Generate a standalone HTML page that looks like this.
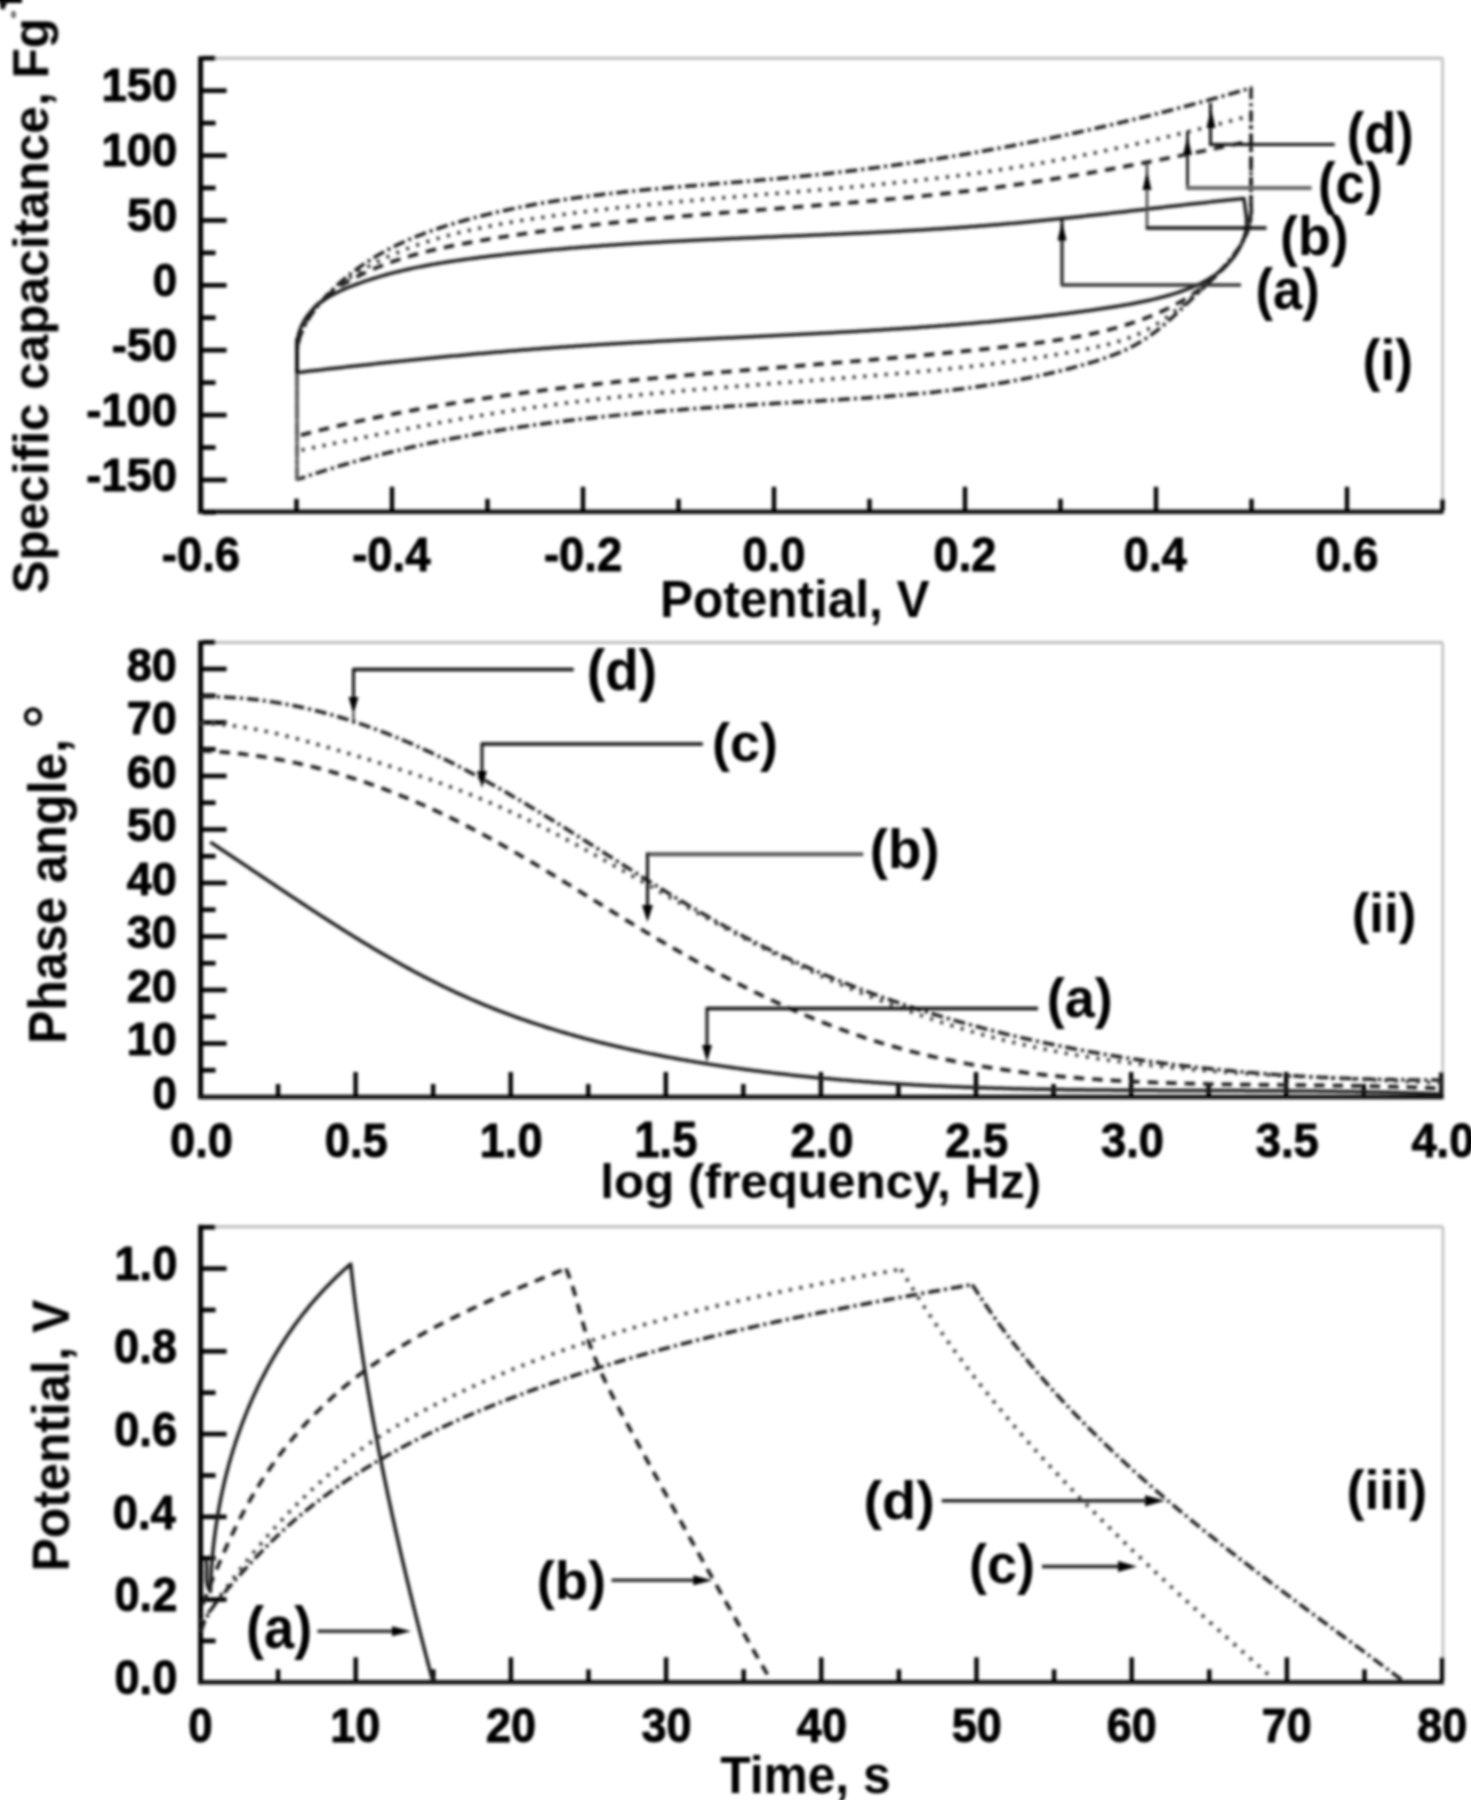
<!DOCTYPE html>
<html><head><meta charset="utf-8"><title>Figure</title>
<style>
html,body{margin:0;padding:0;background:#fff;}
body{width:1471px;height:1800px;overflow:hidden;}
svg{display:block;}
text{font-family:"Liberation Sans",sans-serif;font-weight:bold;}
</style></head><body>
<svg xmlns="http://www.w3.org/2000/svg" width="1471" height="1800" viewBox="0 0 1471 1800">
<rect width="1471" height="1800" fill="#fff"/>
<g filter="url(#bl)">
<line x1="200.6" y1="58.3" x2="1442.6" y2="58.3" stroke="#bdbdbd" stroke-width="3" stroke-linecap="butt"/>
<line x1="1442.6" y1="58.3" x2="1442.6" y2="511.8" stroke="#bdbdbd" stroke-width="2.5" stroke-linecap="butt"/>
<line x1="200.6" y1="56.3" x2="200.6" y2="513.8" stroke="#000" stroke-width="5" stroke-linecap="butt"/>
<line x1="198.6" y1="511.8" x2="1443.6" y2="511.8" stroke="#111" stroke-width="4.6" stroke-linecap="butt"/>
<line x1="202.6" y1="479.96" x2="226.6" y2="479.96" stroke="#000" stroke-width="4.6" stroke-linecap="butt"/>
<line x1="202.6" y1="415.07" x2="226.6" y2="415.07" stroke="#000" stroke-width="4.6" stroke-linecap="butt"/>
<line x1="202.6" y1="350.19" x2="226.6" y2="350.19" stroke="#000" stroke-width="4.6" stroke-linecap="butt"/>
<line x1="202.6" y1="285.3" x2="226.6" y2="285.3" stroke="#000" stroke-width="4.6" stroke-linecap="butt"/>
<line x1="202.6" y1="220.42" x2="226.6" y2="220.42" stroke="#000" stroke-width="4.6" stroke-linecap="butt"/>
<line x1="202.6" y1="155.53" x2="226.6" y2="155.53" stroke="#000" stroke-width="4.6" stroke-linecap="butt"/>
<line x1="202.6" y1="90.65" x2="226.6" y2="90.65" stroke="#000" stroke-width="4.6" stroke-linecap="butt"/>
<line x1="202.6" y1="512.4" x2="215.6" y2="512.4" stroke="#000" stroke-width="4.6" stroke-linecap="butt"/>
<line x1="202.6" y1="447.51" x2="215.6" y2="447.51" stroke="#000" stroke-width="4.6" stroke-linecap="butt"/>
<line x1="202.6" y1="382.63" x2="215.6" y2="382.63" stroke="#000" stroke-width="4.6" stroke-linecap="butt"/>
<line x1="202.6" y1="317.74" x2="215.6" y2="317.74" stroke="#000" stroke-width="4.6" stroke-linecap="butt"/>
<line x1="202.6" y1="252.86" x2="215.6" y2="252.86" stroke="#000" stroke-width="4.6" stroke-linecap="butt"/>
<line x1="202.6" y1="187.97" x2="215.6" y2="187.97" stroke="#000" stroke-width="4.6" stroke-linecap="butt"/>
<line x1="202.6" y1="123.09" x2="215.6" y2="123.09" stroke="#000" stroke-width="4.6" stroke-linecap="butt"/>
<line x1="202.6" y1="58.2" x2="215.6" y2="58.2" stroke="#000" stroke-width="4.6" stroke-linecap="butt"/>
<line x1="201" y1="510.8" x2="201" y2="486.8" stroke="#000" stroke-width="4.4" stroke-linecap="butt"/>
<line x1="392" y1="510.8" x2="392" y2="486.8" stroke="#000" stroke-width="4.4" stroke-linecap="butt"/>
<line x1="583" y1="510.8" x2="583" y2="486.8" stroke="#000" stroke-width="4.4" stroke-linecap="butt"/>
<line x1="774" y1="510.8" x2="774" y2="486.8" stroke="#000" stroke-width="4.4" stroke-linecap="butt"/>
<line x1="965" y1="510.8" x2="965" y2="486.8" stroke="#000" stroke-width="4.4" stroke-linecap="butt"/>
<line x1="1156" y1="510.8" x2="1156" y2="486.8" stroke="#000" stroke-width="4.4" stroke-linecap="butt"/>
<line x1="1347" y1="510.8" x2="1347" y2="486.8" stroke="#000" stroke-width="4.4" stroke-linecap="butt"/>
<line x1="296.5" y1="510.8" x2="296.5" y2="498.8" stroke="#000" stroke-width="4.4" stroke-linecap="butt"/>
<line x1="487.5" y1="510.8" x2="487.5" y2="498.8" stroke="#000" stroke-width="4.4" stroke-linecap="butt"/>
<line x1="678.5" y1="510.8" x2="678.5" y2="498.8" stroke="#000" stroke-width="4.4" stroke-linecap="butt"/>
<line x1="869.5" y1="510.8" x2="869.5" y2="498.8" stroke="#000" stroke-width="4.4" stroke-linecap="butt"/>
<line x1="1060.5" y1="510.8" x2="1060.5" y2="498.8" stroke="#000" stroke-width="4.4" stroke-linecap="butt"/>
<line x1="1251.5" y1="510.8" x2="1251.5" y2="498.8" stroke="#000" stroke-width="4.4" stroke-linecap="butt"/>
<line x1="1442.5" y1="510.8" x2="1442.5" y2="498.8" stroke="#000" stroke-width="4.4" stroke-linecap="butt"/>
<text transform="matrix(45.48 0 0 46.48 86.16 490.69)" font-size="1" fill="#000" stroke="#000" stroke-width="0.02" stroke-linejoin="round">-150</text>
<text transform="matrix(45.48 0 0 46.48 86.16 425.81)" font-size="1" fill="#000" stroke="#000" stroke-width="0.02" stroke-linejoin="round">-100</text>
<text transform="matrix(45.27 0 0 46.48 111.7 360.92)" font-size="1" fill="#000" stroke="#000" stroke-width="0.02" stroke-linejoin="round">-50</text>
<text transform="matrix(43.89 0 0 46.48 152.69 296.04)" font-size="1" fill="#000" stroke="#000" stroke-width="0.02" stroke-linejoin="round">0</text>
<text transform="matrix(45.04 0 0 46.48 127.11 231.15)" font-size="1" fill="#000" stroke="#000" stroke-width="0.02" stroke-linejoin="round">50</text>
<text transform="matrix(45.36 0 0 46.48 101.59 166.27)" font-size="1" fill="#000" stroke="#000" stroke-width="0.02" stroke-linejoin="round">100</text>
<text transform="matrix(45.36 0 0 46.48 101.59 101.38)" font-size="1" fill="#000" stroke="#000" stroke-width="0.02" stroke-linejoin="round">150</text>
<text transform="matrix(45.39 0 0 47.89 161.85 571.02)" font-size="1" fill="#000" stroke="#000" stroke-width="0.02" stroke-linejoin="round">-0.6</text>
<text transform="matrix(45.4 0 0 47.89 352.16 571.02)" font-size="1" fill="#000" stroke="#000" stroke-width="0.02" stroke-linejoin="round">-0.4</text>
<text transform="matrix(45.39 0 0 47.89 543.96 571.02)" font-size="1" fill="#000" stroke="#000" stroke-width="0.02" stroke-linejoin="round">-0.2</text>
<text transform="matrix(45.24 0 0 47.89 742.56 571.02)" font-size="1" fill="#000" stroke="#000" stroke-width="0.02" stroke-linejoin="round">0.0</text>
<text transform="matrix(45.24 0 0 47.89 933.56 571.02)" font-size="1" fill="#000" stroke="#000" stroke-width="0.02" stroke-linejoin="round">0.2</text>
<text transform="matrix(45.26 0 0 47.89 1123.75 571.02)" font-size="1" fill="#000" stroke="#000" stroke-width="0.02" stroke-linejoin="round">0.4</text>
<text transform="matrix(45.24 0 0 47.89 1315.45 571.02)" font-size="1" fill="#000" stroke="#000" stroke-width="0.02" stroke-linejoin="round">0.6</text>
<text transform="matrix(49.53 0 0 52 659.98 616.5)" font-size="1" fill="#000">Potential, V</text>
<text transform="matrix(0 -49.56 49.79 0 47.8 593.49)" font-size="1" fill="#000">Specific capacitance, Fg</text>
<rect x="-2" y="-3" width="24" height="6" fill="#000"/>
<polygon points="0,1 8,1 4,10 0,8" fill="#111"/>
<ellipse cx="13.5" cy="14.5" rx="2.6" ry="3.8" fill="#777"/>
<path d="M297 372.5 L297 352 L296.91 349.12 L296.95 346.3 L297.11 343.55 L297.39 340.88 L297.79 338.26 L298.3 335.72 L298.93 333.24 L299.65 330.83 L300.48 328.49 L301.41 326.21 L302.44 323.99 L303.56 321.84 L304.76 319.75 L306.05 317.73 L307.43 315.77 L308.88 313.86 L310.41 312.02 L312.01 310.24 L313.68 308.52 L315.41 306.86 L317.2 305.26 L319.06 303.72 L320.97 302.23 L322.92 300.8 L324.93 299.42 L326.99 298.08 L329.09 296.8 L331.22 295.56 L333.4 294.36 L335.6 293.2 L337.84 292.09 L340.11 291 L342.4 289.96 L344.71 288.94 L347.05 287.95 L349.39 286.99 L351.75 286.06 L354.12 285.15 L356.5 284.26 L358.88 283.39 L361.26 282.54 L363.65 281.7 L366.04 280.89 L368.44 280.09 L370.84 279.31 L373.24 278.54 L375.65 277.8 L378.06 277.07 L380.47 276.35 L382.89 275.66 L385.31 274.97 L387.74 274.31 L390.16 273.66 L392.59 273.02 L395.03 272.4 L397.46 271.79 L399.9 271.19 L402.34 270.61 L404.79 270.04 L407.23 269.49 L409.68 268.94 L412.13 268.41 L414.59 267.9 L417.05 267.39 L419.5 266.89 L421.97 266.41 L424.43 265.93 L426.89 265.47 L429.36 265.02 L431.83 264.57 L434.3 264.14 L436.77 263.72 L439.25 263.3 L441.72 262.89 L444.2 262.49 L446.68 262.1 L449.16 261.72 L451.64 261.34 L454.12 260.97 L456.6 260.61 L459.09 260.25 L461.57 259.9 L464.06 259.56 L466.55 259.22 L469.03 258.88 L471.52 258.56 L474.01 258.23 L476.5 257.91 L478.99 257.59 L481.48 257.28 L483.97 256.97 L486.46 256.67 L488.95 256.36 L491.44 256.07 L493.93 255.77 L496.42 255.48 L498.92 255.19 L501.41 254.9 L503.9 254.62 L506.39 254.34 L508.89 254.06 L511.38 253.79 L513.87 253.52 L516.37 253.25 L518.86 252.99 L521.35 252.73 L523.85 252.47 L526.34 252.21 L528.84 251.96 L531.33 251.71 L533.83 251.46 L536.32 251.22 L538.82 250.98 L541.32 250.74 L543.81 250.51 L546.31 250.27 L548.8 250.04 L551.3 249.81 L553.8 249.59 L556.3 249.37 L558.79 249.15 L561.29 248.93 L563.79 248.72 L566.29 248.5 L568.79 248.29 L571.28 248.09 L573.78 247.88 L576.28 247.68 L578.78 247.48 L581.28 247.28 L583.78 247.09 L586.28 246.89 L588.78 246.7 L591.28 246.51 L593.78 246.33 L596.28 246.14 L598.78 245.96 L601.28 245.78 L603.78 245.6 L606.28 245.43 L608.78 245.25 L611.29 245.08 L613.79 244.91 L616.29 244.74 L618.79 244.58 L621.29 244.41 L623.79 244.25 L626.3 244.09 L628.8 243.93 L631.3 243.77 L633.8 243.62 L636.31 243.46 L638.81 243.31 L641.31 243.16 L643.82 243.01 L646.32 242.86 L648.82 242.72 L651.33 242.57 L653.83 242.43 L656.34 242.29 L658.84 242.15 L661.34 242.01 L663.85 241.87 L666.35 241.74 L668.86 241.6 L671.36 241.47 L673.87 241.34 L676.37 241.21 L678.88 241.08 L681.38 240.95 L683.89 240.82 L686.39 240.7 L688.9 240.57 L691.4 240.45 L693.91 240.33 L696.41 240.21 L698.92 240.09 L701.43 239.97 L703.93 239.85 L706.44 239.73 L708.94 239.61 L711.45 239.5 L713.96 239.38 L716.46 239.27 L718.97 239.15 L721.47 239.04 L723.98 238.93 L726.49 238.82 L728.99 238.71 L731.5 238.59 L734.01 238.49 L736.51 238.38 L739.02 238.27 L741.53 238.16 L744.03 238.05 L746.54 237.94 L749.05 237.84 L751.56 237.73 L754.06 237.63 L756.57 237.52 L759.08 237.41 L761.58 237.31 L764.09 237.2 L766.6 237.1 L769.11 237 L771.61 236.89 L774.12 236.79 L776.63 236.68 L779.13 236.58 L781.64 236.48 L784.15 236.37 L786.66 236.27 L789.16 236.16 L791.67 236.06 L794.18 235.96 L796.69 235.85 L799.19 235.75 L801.7 235.64 L804.21 235.54 L806.71 235.43 L809.22 235.33 L811.73 235.22 L814.24 235.12 L816.74 235.01 L819.25 234.91 L821.76 234.8 L824.26 234.69 L826.77 234.58 L829.28 234.48 L831.79 234.37 L834.29 234.26 L836.8 234.15 L839.31 234.04 L841.81 233.93 L844.32 233.82 L846.83 233.7 L849.33 233.59 L851.84 233.48 L854.35 233.36 L856.85 233.25 L859.36 233.13 L861.87 233.01 L864.37 232.9 L866.88 232.78 L869.39 232.66 L871.89 232.54 L874.4 232.41 L876.9 232.29 L879.41 232.17 L881.92 232.04 L884.42 231.92 L886.93 231.79 L889.43 231.66 L891.94 231.53 L894.44 231.4 L896.95 231.27 L899.46 231.14 L901.96 231 L904.47 230.87 L906.97 230.73 L909.48 230.59 L911.98 230.45 L914.48 230.31 L916.99 230.17 L919.49 230.02 L922 229.88 L924.5 229.73 L927.01 229.58 L929.51 229.43 L932.01 229.28 L934.52 229.12 L937.02 228.97 L939.53 228.81 L942.03 228.65 L944.53 228.49 L947.04 228.33 L949.54 228.16 L952.04 228 L954.54 227.83 L957.05 227.66 L959.55 227.48 L962.05 227.31 L964.55 227.13 L967.05 226.96 L969.56 226.78 L972.06 226.59 L974.56 226.41 L977.06 226.22 L979.56 226.03 L982.06 225.84 L984.56 225.65 L987.06 225.45 L989.57 225.25 L992.07 225.05 L994.57 224.85 L997.07 224.65 L999.57 224.44 L1002.06 224.23 L1004.56 224.02 L1007.06 223.8 L1009.56 223.59 L1012.06 223.37 L1014.56 223.14 L1017.06 222.92 L1019.56 222.69 L1022.05 222.46 L1024.55 222.23 L1027.05 222 L1029.55 221.76 L1032.04 221.53 L1034.54 221.29 L1037.04 221.04 L1039.54 220.8 L1042.03 220.55 L1044.53 220.31 L1047.03 220.06 L1049.52 219.81 L1052.02 219.55 L1054.51 219.3 L1057.01 219.04 L1059.51 218.79 L1062 218.53 L1064.5 218.27 L1066.99 218 L1069.49 217.74 L1071.98 217.47 L1074.48 217.21 L1076.97 216.94 L1079.47 216.67 L1081.96 216.4 L1084.46 216.13 L1086.95 215.86 L1089.45 215.59 L1091.94 215.31 L1094.43 215.04 L1096.93 214.76 L1099.42 214.48 L1101.92 214.21 L1104.41 213.93 L1106.9 213.65 L1109.4 213.37 L1111.89 213.09 L1114.38 212.81 L1116.88 212.52 L1119.37 212.24 L1121.86 211.96 L1124.36 211.68 L1126.85 211.39 L1129.34 211.11 L1131.84 210.83 L1134.33 210.54 L1136.82 210.26 L1139.31 209.97 L1141.81 209.69 L1144.3 209.4 L1146.79 209.12 L1149.28 208.83 L1151.78 208.55 L1154.27 208.26 L1156.76 207.98 L1159.25 207.7 L1161.75 207.41 L1164.24 207.13 L1166.73 206.85 L1169.22 206.56 L1171.72 206.28 L1174.21 206 L1176.7 205.72 L1179.19 205.44 L1181.69 205.16 L1184.18 204.88 L1186.67 204.6 L1189.16 204.32 L1191.66 204.05 L1194.15 203.77 L1196.64 203.49 L1199.13 203.22 L1201.62 202.95 L1204.12 202.67 L1206.61 202.4 L1209.1 202.13 L1211.59 201.86 L1214.09 201.6 L1216.58 201.33 L1219.07 201.07 L1221.56 200.8 L1224.06 200.54 L1226.55 200.28 L1229.04 200.02 L1231.54 199.76 L1234.03 199.51 L1236.52 199.25 L1239.01 199 L1241.51 198.75 L1244 198.5 L1246 214 L1246.35 216.56 L1246.56 219.11 L1246.63 221.64 L1246.56 224.16 L1246.37 226.66 L1246.05 229.14 L1245.61 231.59 L1245.06 234.02 L1244.4 236.42 L1243.63 238.79 L1242.75 241.12 L1241.78 243.42 L1240.72 245.69 L1239.57 247.91 L1238.33 250.09 L1237.01 252.23 L1235.62 254.32 L1234.16 256.37 L1232.63 258.36 L1231.04 260.3 L1229.39 262.18 L1227.68 264.01 L1225.92 265.79 L1224.11 267.51 L1222.26 269.19 L1220.35 270.8 L1218.4 272.37 L1216.41 273.88 L1214.38 275.33 L1212.31 276.74 L1210.21 278.09 L1208.07 279.39 L1205.91 280.64 L1203.72 281.84 L1201.5 282.99 L1199.26 284.08 L1197 285.14 L1194.73 286.15 L1192.43 287.12 L1190.12 288.05 L1187.8 288.96 L1185.46 289.83 L1183.12 290.68 L1180.76 291.5 L1178.4 292.3 L1176.03 293.08 L1173.65 293.83 L1171.26 294.56 L1168.86 295.26 L1166.46 295.95 L1164.05 296.62 L1161.63 297.26 L1159.21 297.89 L1156.78 298.49 L1154.34 299.08 L1151.9 299.66 L1149.45 300.21 L1147 300.75 L1144.55 301.28 L1142.09 301.79 L1139.62 302.29 L1137.15 302.77 L1134.68 303.25 L1132.21 303.71 L1129.73 304.16 L1127.25 304.6 L1124.77 305.03 L1122.28 305.45 L1119.8 305.87 L1117.31 306.27 L1114.82 306.67 L1112.33 307.06 L1109.85 307.45 L1107.36 307.84 L1104.87 308.22 L1102.38 308.59 L1099.89 308.96 L1097.41 309.33 L1094.92 309.69 L1092.43 310.04 L1089.94 310.4 L1087.45 310.75 L1084.96 311.09 L1082.48 311.43 L1079.99 311.77 L1077.5 312.1 L1075.01 312.43 L1072.52 312.75 L1070.04 313.07 L1067.55 313.39 L1065.06 313.7 L1062.57 314.01 L1060.08 314.32 L1057.59 314.62 L1055.1 314.92 L1052.62 315.22 L1050.13 315.51 L1047.64 315.8 L1045.15 316.08 L1042.66 316.37 L1040.17 316.65 L1037.68 316.92 L1035.19 317.2 L1032.7 317.47 L1030.21 317.73 L1027.72 318 L1025.23 318.26 L1022.74 318.52 L1020.24 318.78 L1017.75 319.03 L1015.26 319.28 L1012.77 319.53 L1010.28 319.78 L1007.79 320.02 L1005.29 320.27 L1002.8 320.5 L1000.31 320.74 L997.81 320.98 L995.32 321.21 L992.83 321.44 L990.33 321.67 L987.84 321.9 L985.34 322.12 L982.85 322.34 L980.35 322.56 L977.86 322.78 L975.36 323 L972.87 323.21 L970.37 323.42 L967.87 323.63 L965.38 323.84 L962.88 324.05 L960.38 324.25 L957.89 324.45 L955.39 324.65 L952.89 324.85 L950.39 325.05 L947.9 325.25 L945.4 325.44 L942.9 325.63 L940.4 325.82 L937.9 326.01 L935.4 326.19 L932.9 326.38 L930.4 326.56 L927.9 326.74 L925.4 326.92 L922.9 327.1 L920.4 327.28 L917.9 327.45 L915.4 327.63 L912.9 327.8 L910.4 327.97 L907.9 328.14 L905.4 328.31 L902.9 328.47 L900.39 328.64 L897.89 328.8 L895.39 328.96 L892.89 329.12 L890.38 329.28 L887.88 329.44 L885.38 329.6 L882.88 329.75 L880.37 329.91 L877.87 330.06 L875.37 330.21 L872.86 330.37 L870.36 330.51 L867.86 330.66 L865.35 330.81 L862.85 330.96 L860.34 331.1 L857.84 331.25 L855.34 331.39 L852.83 331.53 L850.33 331.67 L847.82 331.82 L845.32 331.95 L842.81 332.09 L840.31 332.23 L837.8 332.37 L835.3 332.5 L832.79 332.64 L830.29 332.77 L827.78 332.91 L825.27 333.04 L822.77 333.17 L820.26 333.3 L817.76 333.44 L815.25 333.57 L812.74 333.7 L810.24 333.82 L807.73 333.95 L805.23 334.08 L802.72 334.21 L800.21 334.33 L797.71 334.46 L795.2 334.59 L792.69 334.71 L790.19 334.84 L787.68 334.96 L785.17 335.08 L782.66 335.21 L780.16 335.33 L777.65 335.45 L775.14 335.58 L772.64 335.7 L770.13 335.82 L767.62 335.94 L765.11 336.06 L762.61 336.18 L760.1 336.31 L757.59 336.43 L755.08 336.55 L752.58 336.67 L750.07 336.79 L747.56 336.91 L745.05 337.03 L742.55 337.15 L740.04 337.27 L737.53 337.39 L735.02 337.51 L732.52 337.63 L730.01 337.75 L727.5 337.87 L724.99 337.99 L722.49 338.11 L719.98 338.23 L717.47 338.35 L714.96 338.47 L712.46 338.59 L709.95 338.72 L707.44 338.84 L704.93 338.96 L702.42 339.08 L699.92 339.21 L697.41 339.33 L694.9 339.45 L692.39 339.58 L689.89 339.7 L687.38 339.82 L684.87 339.95 L682.36 340.08 L679.86 340.2 L677.35 340.33 L674.84 340.46 L672.34 340.58 L669.83 340.71 L667.32 340.84 L664.81 340.97 L662.31 341.1 L659.8 341.23 L657.29 341.36 L654.79 341.49 L652.28 341.63 L649.77 341.76 L647.27 341.89 L644.76 342.03 L642.25 342.17 L639.75 342.3 L637.24 342.44 L634.74 342.58 L632.23 342.72 L629.72 342.86 L627.22 343 L624.71 343.14 L622.21 343.29 L619.7 343.43 L617.19 343.58 L614.69 343.72 L612.18 343.87 L609.68 344.02 L607.17 344.17 L604.67 344.32 L602.16 344.47 L599.66 344.62 L597.15 344.78 L594.65 344.93 L592.15 345.09 L589.64 345.25 L587.14 345.41 L584.63 345.57 L582.13 345.73 L579.63 345.89 L577.12 346.06 L574.62 346.22 L572.12 346.39 L569.61 346.56 L567.11 346.73 L564.61 346.9 L562.1 347.08 L559.6 347.25 L557.1 347.43 L554.6 347.61 L552.09 347.78 L549.59 347.97 L547.09 348.15 L544.59 348.33 L542.09 348.52 L539.59 348.7 L537.08 348.89 L534.58 349.08 L532.08 349.27 L529.58 349.47 L527.08 349.66 L524.58 349.86 L522.08 350.05 L519.58 350.25 L517.08 350.45 L514.58 350.65 L512.08 350.86 L509.58 351.06 L507.08 351.26 L504.58 351.47 L502.08 351.68 L499.58 351.89 L497.08 352.1 L494.59 352.31 L492.09 352.53 L489.59 352.74 L487.09 352.96 L484.59 353.17 L482.09 353.39 L479.6 353.61 L477.1 353.83 L474.6 354.05 L472.1 354.28 L469.6 354.5 L467.11 354.73 L464.61 354.96 L462.11 355.18 L459.61 355.41 L457.12 355.65 L454.62 355.88 L452.12 356.11 L449.63 356.34 L447.13 356.58 L444.63 356.82 L442.14 357.05 L439.64 357.29 L437.15 357.53 L434.65 357.77 L432.15 358.02 L429.66 358.26 L427.16 358.5 L424.67 358.75 L422.17 359 L419.68 359.24 L417.18 359.49 L414.68 359.74 L412.19 359.99 L409.69 360.25 L407.2 360.5 L404.7 360.75 L402.21 361.01 L399.72 361.26 L397.22 361.52 L394.73 361.78 L392.23 362.04 L389.74 362.3 L387.24 362.56 L384.75 362.82 L382.26 363.08 L379.76 363.34 L377.27 363.61 L374.77 363.87 L372.28 364.14 L369.79 364.41 L367.29 364.68 L364.8 364.94 L362.31 365.21 L359.81 365.48 L357.32 365.76 L354.83 366.03 L352.33 366.3 L349.84 366.58 L347.35 366.85 L344.85 367.13 L342.36 367.4 L339.87 367.68 L337.38 367.96 L334.88 368.24 L332.39 368.52 L329.9 368.8 L327.41 369.08 L324.91 369.36 L322.42 369.64 L319.93 369.92 L317.44 370.21 L314.94 370.49 L312.45 370.78 L309.96 371.06 L307.47 371.35 L304.98 371.64 L302.48 371.92 L299.99 372.21 L297.5 372.5" fill="none" stroke="#1a1a1a" stroke-width="3.5" stroke-linejoin="round"/>
<path d="M297 436 L297 352 L297.12 349.28 L297.34 346.61 L297.65 343.99 L298.05 341.42 L298.54 338.91 L299.12 336.44 L299.78 334.02 L300.53 331.66 L301.36 329.34 L302.26 327.06 L303.25 324.84 L304.31 322.66 L305.44 320.52 L306.64 318.43 L307.9 316.39 L309.24 314.38 L310.64 312.42 L312.1 310.5 L313.62 308.63 L315.19 306.79 L316.82 304.99 L318.51 303.23 L320.24 301.51 L322.03 299.82 L323.86 298.18 L325.73 296.56 L327.65 294.99 L329.61 293.45 L331.6 291.94 L333.63 290.47 L335.7 289.02 L337.8 287.61 L339.92 286.23 L342.07 284.89 L344.25 283.57 L346.45 282.28 L348.67 281.02 L350.91 279.78 L353.17 278.57 L355.44 277.39 L357.72 276.24 L360.02 275.11 L362.32 274 L364.63 272.92 L366.94 271.86 L369.26 270.82 L371.58 269.81 L373.91 268.81 L376.25 267.84 L378.59 266.89 L380.94 265.96 L383.29 265.05 L385.65 264.16 L388.01 263.29 L390.38 262.44 L392.75 261.6 L395.13 260.79 L397.51 259.99 L399.89 259.21 L402.28 258.45 L404.68 257.7 L407.08 256.97 L409.48 256.26 L411.88 255.56 L414.29 254.88 L416.71 254.21 L419.12 253.55 L421.54 252.91 L423.97 252.29 L426.39 251.67 L428.82 251.07 L431.26 250.48 L433.69 249.91 L436.13 249.34 L438.57 248.79 L441.02 248.24 L443.46 247.71 L445.91 247.19 L448.36 246.67 L450.81 246.17 L453.27 245.67 L455.72 245.19 L458.18 244.71 L460.64 244.23 L463.1 243.77 L465.56 243.31 L468.03 242.86 L470.49 242.41 L472.96 241.97 L475.43 241.54 L477.89 241.11 L480.36 240.68 L482.83 240.26 L485.3 239.84 L487.77 239.43 L490.24 239.01 L492.71 238.61 L495.19 238.2 L497.66 237.81 L500.13 237.41 L502.61 237.02 L505.08 236.63 L507.56 236.24 L510.03 235.86 L512.51 235.49 L514.98 235.11 L517.46 234.74 L519.94 234.37 L522.42 234.01 L524.89 233.65 L527.37 233.29 L529.85 232.94 L532.33 232.59 L534.81 232.24 L537.29 231.89 L539.78 231.55 L542.26 231.21 L544.74 230.88 L547.22 230.55 L549.71 230.22 L552.19 229.89 L554.67 229.57 L557.16 229.25 L559.64 228.93 L562.13 228.62 L564.62 228.31 L567.1 228 L569.59 227.69 L572.08 227.39 L574.56 227.09 L577.05 226.79 L579.54 226.49 L582.03 226.2 L584.52 225.91 L587.01 225.62 L589.5 225.34 L591.99 225.06 L594.48 224.77 L596.97 224.5 L599.46 224.22 L601.95 223.95 L604.45 223.68 L606.94 223.41 L609.43 223.14 L611.92 222.88 L614.42 222.61 L616.91 222.35 L619.41 222.1 L621.9 221.84 L624.4 221.59 L626.89 221.33 L629.39 221.08 L631.88 220.84 L634.38 220.59 L636.88 220.34 L639.37 220.1 L641.87 219.86 L644.37 219.62 L646.86 219.38 L649.36 219.15 L651.86 218.91 L654.36 218.68 L656.86 218.45 L659.35 218.22 L661.85 217.99 L664.35 217.77 L666.85 217.54 L669.35 217.32 L671.85 217.1 L674.35 216.87 L676.85 216.65 L679.35 216.44 L681.85 216.22 L684.35 216 L686.86 215.79 L689.36 215.58 L691.86 215.36 L694.36 215.15 L696.86 214.94 L699.36 214.73 L701.87 214.52 L704.37 214.32 L706.87 214.11 L709.37 213.9 L711.88 213.7 L714.38 213.49 L716.88 213.29 L719.39 213.09 L721.89 212.89 L724.39 212.69 L726.9 212.48 L729.4 212.28 L731.9 212.09 L734.41 211.89 L736.91 211.69 L739.41 211.49 L741.92 211.29 L744.42 211.1 L746.93 210.9 L749.43 210.7 L751.94 210.51 L754.44 210.31 L756.94 210.12 L759.45 209.92 L761.95 209.72 L764.46 209.53 L766.96 209.33 L769.47 209.14 L771.97 208.94 L774.48 208.75 L776.98 208.56 L779.49 208.36 L781.99 208.16 L784.5 207.97 L787 207.77 L789.5 207.58 L792.01 207.38 L794.51 207.19 L797.02 206.99 L799.52 206.79 L802.03 206.6 L804.53 206.4 L807.04 206.2 L809.54 206 L812.05 205.8 L814.55 205.6 L817.05 205.4 L819.56 205.2 L822.06 205 L824.57 204.8 L827.07 204.6 L829.57 204.39 L832.08 204.19 L834.58 203.98 L837.08 203.78 L839.59 203.57 L842.09 203.36 L844.59 203.16 L847.1 202.95 L849.6 202.74 L852.1 202.52 L854.61 202.31 L857.11 202.1 L859.61 201.88 L862.11 201.67 L864.61 201.45 L867.12 201.23 L869.62 201.01 L872.12 200.79 L874.62 200.57 L877.12 200.34 L879.62 200.12 L882.12 199.89 L884.62 199.66 L887.12 199.43 L889.62 199.2 L892.12 198.97 L894.62 198.73 L897.12 198.5 L899.62 198.26 L902.12 198.02 L904.62 197.78 L907.12 197.54 L909.62 197.29 L912.11 197.04 L914.61 196.8 L917.11 196.55 L919.61 196.29 L922.1 196.04 L924.6 195.78 L927.1 195.52 L929.59 195.26 L932.09 195 L934.58 194.73 L937.08 194.47 L939.57 194.2 L942.07 193.93 L944.56 193.65 L947.06 193.38 L949.55 193.1 L952.04 192.82 L954.54 192.53 L957.03 192.25 L959.52 191.96 L962.01 191.67 L964.51 191.38 L967 191.08 L969.49 190.78 L971.98 190.48 L974.47 190.18 L976.96 189.87 L979.45 189.56 L981.94 189.25 L984.42 188.93 L986.91 188.62 L989.4 188.3 L991.89 187.97 L994.37 187.65 L996.86 187.32 L999.35 186.98 L1001.83 186.65 L1004.32 186.31 L1006.8 185.97 L1009.29 185.62 L1011.77 185.27 L1014.25 184.92 L1016.74 184.57 L1019.22 184.21 L1021.7 183.85 L1024.18 183.49 L1026.66 183.12 L1029.14 182.75 L1031.62 182.38 L1034.1 182 L1036.58 181.63 L1039.06 181.25 L1041.54 180.86 L1044.02 180.48 L1046.5 180.09 L1048.97 179.7 L1051.45 179.3 L1053.93 178.91 L1056.4 178.51 L1058.88 178.1 L1061.36 177.7 L1063.83 177.29 L1066.31 176.88 L1068.78 176.47 L1071.25 176.05 L1073.73 175.64 L1076.2 175.22 L1078.67 174.8 L1081.15 174.37 L1083.62 173.95 L1086.09 173.52 L1088.56 173.09 L1091.03 172.65 L1093.5 172.22 L1095.97 171.78 L1098.44 171.34 L1100.91 170.9 L1103.38 170.45 L1105.85 170.01 L1108.32 169.56 L1110.79 169.11 L1113.26 168.66 L1115.72 168.2 L1118.19 167.74 L1120.66 167.29 L1123.12 166.83 L1125.59 166.36 L1128.06 165.9 L1130.52 165.44 L1132.99 164.97 L1135.45 164.5 L1137.92 164.03 L1140.38 163.56 L1142.84 163.08 L1145.31 162.61 L1147.77 162.13 L1150.23 161.65 L1152.7 161.17 L1155.16 160.69 L1157.62 160.21 L1160.08 159.72 L1162.55 159.23 L1165.01 158.75 L1167.47 158.26 L1169.93 157.77 L1172.39 157.27 L1174.85 156.78 L1177.31 156.29 L1179.77 155.79 L1182.23 155.29 L1184.69 154.8 L1187.15 154.3 L1189.61 153.8 L1192.07 153.3 L1194.52 152.79 L1196.98 152.29 L1199.44 151.79 L1201.9 151.28 L1204.35 150.77 L1206.81 150.27 L1209.27 149.76 L1211.72 149.25 L1214.18 148.74 L1216.64 148.23 L1219.09 147.71 L1221.55 147.2 L1224 146.69 L1226.46 146.17 L1228.91 145.66 L1231.37 145.14 L1233.82 144.63 L1236.28 144.11 L1238.73 143.59 L1241.19 143.08 L1243.64 142.56 L1246.09 142.04 L1248.55 141.52 L1251 141 L1251 205 L1251.04 207.59 L1250.99 210.16 L1250.85 212.7 L1250.61 215.21 L1250.29 217.69 L1249.89 220.14 L1249.4 222.57 L1248.83 224.97 L1248.19 227.34 L1247.47 229.69 L1246.68 232.01 L1245.82 234.3 L1244.89 236.57 L1243.89 238.8 L1242.83 241.02 L1241.71 243.2 L1240.53 245.36 L1239.3 247.5 L1238.01 249.6 L1236.68 251.69 L1235.29 253.74 L1233.86 255.78 L1232.38 257.78 L1230.85 259.76 L1229.29 261.72 L1227.68 263.64 L1226.04 265.54 L1224.35 267.42 L1222.63 269.27 L1220.88 271.09 L1219.08 272.89 L1217.26 274.66 L1215.41 276.4 L1213.52 278.11 L1211.61 279.8 L1209.67 281.46 L1207.7 283.09 L1205.71 284.7 L1203.7 286.28 L1201.67 287.83 L1199.61 289.35 L1197.54 290.84 L1195.45 292.31 L1193.34 293.74 L1191.22 295.15 L1189.09 296.53 L1186.94 297.88 L1184.78 299.21 L1182.62 300.5 L1180.43 301.77 L1178.24 303.01 L1176.04 304.23 L1173.83 305.42 L1171.6 306.58 L1169.37 307.72 L1167.13 308.83 L1164.87 309.92 L1162.61 310.98 L1160.34 312.03 L1158.06 313.04 L1155.77 314.04 L1153.47 315.01 L1151.17 315.97 L1148.85 316.9 L1146.53 317.81 L1144.2 318.7 L1141.87 319.56 L1139.52 320.41 L1137.17 321.24 L1134.82 322.05 L1132.46 322.85 L1130.09 323.62 L1127.72 324.38 L1125.34 325.12 L1122.95 325.84 L1120.56 326.55 L1118.17 327.24 L1115.77 327.91 L1113.37 328.57 L1110.96 329.21 L1108.54 329.84 L1106.13 330.46 L1103.71 331.06 L1101.28 331.64 L1098.85 332.22 L1096.42 332.78 L1093.98 333.32 L1091.54 333.86 L1089.09 334.38 L1086.64 334.89 L1084.19 335.38 L1081.74 335.87 L1079.28 336.34 L1076.82 336.81 L1074.35 337.26 L1071.88 337.7 L1069.41 338.14 L1066.94 338.56 L1064.47 338.98 L1061.99 339.38 L1059.51 339.78 L1057.03 340.16 L1054.54 340.54 L1052.05 340.92 L1049.57 341.28 L1047.07 341.64 L1044.58 341.99 L1042.09 342.33 L1039.59 342.67 L1037.1 343 L1034.6 343.33 L1032.1 343.65 L1029.6 343.97 L1027.1 344.28 L1024.59 344.58 L1022.09 344.89 L1019.59 345.18 L1017.08 345.48 L1014.58 345.77 L1012.07 346.06 L1009.57 346.35 L1007.06 346.63 L1004.56 346.91 L1002.05 347.2 L999.54 347.47 L997.04 347.75 L994.53 348.03 L992.03 348.3 L989.52 348.57 L987.02 348.84 L984.51 349.11 L982 349.38 L979.5 349.64 L976.99 349.91 L974.49 350.17 L971.98 350.43 L969.48 350.69 L966.97 350.94 L964.46 351.2 L961.96 351.45 L959.45 351.7 L956.95 351.96 L954.44 352.21 L951.94 352.45 L949.43 352.7 L946.92 352.95 L944.42 353.19 L941.91 353.43 L939.41 353.68 L936.9 353.92 L934.4 354.15 L931.89 354.39 L929.39 354.63 L926.88 354.86 L924.37 355.1 L921.87 355.33 L919.36 355.56 L916.86 355.79 L914.35 356.02 L911.85 356.25 L909.34 356.48 L906.84 356.71 L904.33 356.93 L901.83 357.16 L899.32 357.38 L896.82 357.6 L894.31 357.83 L891.8 358.05 L889.3 358.27 L886.79 358.49 L884.29 358.7 L881.78 358.92 L879.28 359.14 L876.77 359.36 L874.27 359.57 L871.76 359.79 L869.26 360 L866.75 360.21 L864.25 360.43 L861.75 360.64 L859.24 360.85 L856.74 361.06 L854.23 361.27 L851.73 361.48 L849.22 361.69 L846.72 361.9 L844.21 362.11 L841.71 362.31 L839.21 362.52 L836.7 362.73 L834.2 362.94 L831.69 363.14 L829.19 363.35 L826.68 363.55 L824.18 363.76 L821.68 363.96 L819.17 364.17 L816.67 364.37 L814.17 364.58 L811.66 364.78 L809.16 364.99 L806.66 365.19 L804.15 365.39 L801.65 365.6 L799.15 365.8 L796.64 366.01 L794.14 366.21 L791.64 366.41 L789.13 366.62 L786.63 366.82 L784.13 367.02 L781.62 367.23 L779.12 367.43 L776.62 367.64 L774.12 367.84 L771.61 368.04 L769.11 368.25 L766.61 368.45 L764.11 368.66 L761.61 368.86 L759.1 369.07 L756.6 369.27 L754.1 369.48 L751.6 369.69 L749.1 369.89 L746.59 370.1 L744.09 370.31 L741.59 370.52 L739.09 370.72 L736.59 370.93 L734.09 371.14 L731.59 371.35 L729.09 371.56 L726.58 371.77 L724.08 371.99 L721.58 372.2 L719.08 372.41 L716.58 372.62 L714.08 372.84 L711.58 373.05 L709.08 373.27 L706.58 373.49 L704.08 373.7 L701.58 373.92 L699.08 374.14 L696.58 374.36 L694.08 374.58 L691.58 374.8 L689.08 375.02 L686.59 375.24 L684.09 375.47 L681.59 375.69 L679.09 375.92 L676.59 376.15 L674.09 376.37 L671.59 376.6 L669.1 376.83 L666.6 377.06 L664.1 377.3 L661.6 377.53 L659.1 377.76 L656.61 378 L654.11 378.24 L651.61 378.47 L649.11 378.71 L646.62 378.95 L644.12 379.2 L641.62 379.44 L639.13 379.68 L636.63 379.93 L634.13 380.18 L631.64 380.42 L629.14 380.67 L626.64 380.93 L624.15 381.18 L621.65 381.43 L619.16 381.69 L616.66 381.95 L614.16 382.21 L611.67 382.47 L609.17 382.73 L606.68 382.99 L604.18 383.26 L601.69 383.52 L599.2 383.79 L596.7 384.06 L594.21 384.33 L591.71 384.61 L589.22 384.88 L586.73 385.16 L584.23 385.44 L581.74 385.72 L579.24 386 L576.75 386.29 L574.26 386.58 L571.77 386.86 L569.27 387.15 L566.78 387.45 L564.29 387.74 L561.8 388.04 L559.3 388.34 L556.81 388.64 L554.32 388.94 L551.83 389.24 L549.34 389.55 L546.85 389.86 L544.36 390.17 L541.86 390.48 L539.37 390.8 L536.88 391.12 L534.39 391.44 L531.9 391.76 L529.41 392.08 L526.92 392.41 L524.43 392.74 L521.94 393.07 L519.46 393.4 L516.97 393.74 L514.48 394.08 L511.99 394.42 L509.5 394.76 L507.01 395.11 L504.52 395.46 L502.04 395.81 L499.55 396.16 L497.06 396.52 L494.57 396.88 L492.09 397.24 L489.6 397.6 L487.11 397.97 L484.63 398.34 L482.14 398.71 L479.65 399.09 L477.17 399.46 L474.68 399.85 L472.2 400.23 L469.71 400.61 L467.23 401 L464.74 401.39 L462.26 401.79 L459.77 402.19 L457.29 402.59 L454.81 402.99 L452.32 403.4 L449.84 403.81 L447.36 404.22 L444.88 404.63 L442.4 405.05 L439.92 405.47 L437.44 405.9 L434.96 406.33 L432.48 406.76 L430 407.19 L427.52 407.63 L425.05 408.07 L422.57 408.51 L420.1 408.96 L417.62 409.41 L415.15 409.87 L412.67 410.32 L410.2 410.78 L407.73 411.25 L405.26 411.71 L402.79 412.19 L400.32 412.66 L397.85 413.14 L395.38 413.62 L392.91 414.1 L390.44 414.59 L387.98 415.08 L385.51 415.58 L383.05 416.08 L380.59 416.58 L378.12 417.09 L375.66 417.6 L373.2 418.11 L370.74 418.63 L368.28 419.15 L365.83 419.67 L363.37 420.2 L360.91 420.74 L358.46 421.27 L356.01 421.81 L353.56 422.36 L351.1 422.91 L348.65 423.46 L346.21 424.01 L343.76 424.57 L341.31 425.14 L338.87 425.71 L336.42 426.28 L333.98 426.85 L331.54 427.43 L329.1 428.02 L326.66 428.61 L324.22 429.2 L321.79 429.8 L319.35 430.4 L316.92 431 L314.49 431.61 L312.05 432.23 L309.63 432.84 L307.2 433.47 L304.77 434.09 L302.35 434.73 L299.92 435.36 L297.5 436" fill="none" stroke="#1a1a1a" stroke-width="3.7" stroke-dasharray="10.5 8" stroke-linejoin="round"/>
<path d="M297 451 L297 352 L297.31 349.39 L297.69 346.82 L298.16 344.29 L298.7 341.8 L299.31 339.35 L299.99 336.94 L300.74 334.57 L301.56 332.24 L302.44 329.94 L303.39 327.68 L304.4 325.46 L305.48 323.28 L306.61 321.13 L307.8 319.02 L309.05 316.94 L310.35 314.89 L311.71 312.88 L313.11 310.91 L314.57 308.97 L316.07 307.06 L317.63 305.18 L319.22 303.33 L320.86 301.52 L322.54 299.73 L324.27 297.98 L326.03 296.25 L327.83 294.56 L329.66 292.89 L331.53 291.25 L333.43 289.64 L335.36 288.06 L337.32 286.51 L339.3 284.98 L341.31 283.47 L343.35 282 L345.41 280.54 L347.49 279.12 L349.59 277.71 L351.7 276.33 L353.84 274.98 L355.98 273.64 L358.14 272.33 L360.31 271.04 L362.49 269.77 L364.68 268.52 L366.88 267.3 L369.09 266.09 L371.3 264.9 L373.52 263.74 L375.75 262.59 L377.99 261.46 L380.24 260.35 L382.49 259.27 L384.75 258.2 L387.02 257.14 L389.3 256.11 L391.58 255.1 L393.87 254.1 L396.17 253.12 L398.47 252.15 L400.79 251.21 L403.1 250.28 L405.43 249.37 L407.76 248.47 L410.09 247.59 L412.44 246.73 L414.79 245.88 L417.14 245.05 L419.5 244.23 L421.87 243.43 L424.24 242.64 L426.62 241.87 L429 241.11 L431.39 240.36 L433.78 239.63 L436.18 238.91 L438.58 238.21 L440.99 237.52 L443.4 236.84 L445.82 236.17 L448.24 235.52 L450.66 234.87 L453.09 234.24 L455.52 233.62 L457.96 233.02 L460.4 232.42 L462.84 231.83 L465.29 231.26 L467.74 230.7 L470.2 230.14 L472.65 229.6 L475.11 229.06 L477.58 228.54 L480.04 228.02 L482.51 227.51 L484.98 227.01 L487.46 226.52 L489.93 226.04 L492.41 225.57 L494.89 225.1 L497.37 224.64 L499.86 224.19 L502.34 223.74 L504.83 223.31 L507.32 222.87 L509.81 222.45 L512.3 222.03 L514.79 221.62 L517.28 221.21 L519.78 220.81 L522.27 220.41 L524.77 220.02 L527.26 219.63 L529.76 219.25 L532.25 218.87 L534.75 218.49 L537.25 218.12 L539.74 217.75 L542.24 217.39 L544.74 217.02 L547.23 216.67 L549.73 216.31 L552.23 215.96 L554.72 215.61 L557.22 215.27 L559.72 214.93 L562.21 214.59 L564.71 214.26 L567.21 213.93 L569.7 213.6 L572.2 213.27 L574.7 212.95 L577.19 212.63 L579.69 212.31 L582.19 212 L584.68 211.69 L587.18 211.38 L589.67 211.08 L592.17 210.78 L594.67 210.48 L597.16 210.18 L599.66 209.89 L602.16 209.6 L604.65 209.31 L607.15 209.02 L609.65 208.74 L612.14 208.46 L614.64 208.18 L617.14 207.9 L619.63 207.63 L622.13 207.36 L624.62 207.09 L627.12 206.82 L629.62 206.56 L632.11 206.29 L634.61 206.03 L637.1 205.78 L639.6 205.52 L642.1 205.26 L644.59 205.01 L647.09 204.76 L649.58 204.51 L652.08 204.27 L654.58 204.02 L657.07 203.78 L659.57 203.54 L662.06 203.3 L664.56 203.06 L667.06 202.82 L669.55 202.59 L672.05 202.35 L674.54 202.12 L677.04 201.89 L679.53 201.66 L682.03 201.43 L684.52 201.21 L687.02 200.98 L689.51 200.76 L692.01 200.53 L694.51 200.31 L697 200.09 L699.5 199.87 L701.99 199.66 L704.49 199.44 L706.98 199.22 L709.48 199.01 L711.97 198.79 L714.47 198.58 L716.96 198.37 L719.45 198.15 L721.95 197.94 L724.44 197.73 L726.94 197.52 L729.43 197.31 L731.93 197.11 L734.42 196.9 L736.92 196.69 L739.41 196.48 L741.9 196.28 L744.4 196.07 L746.89 195.86 L749.39 195.66 L751.88 195.45 L754.37 195.25 L756.87 195.04 L759.36 194.84 L761.86 194.64 L764.35 194.43 L766.84 194.23 L769.34 194.02 L771.83 193.82 L774.32 193.61 L776.82 193.41 L779.31 193.2 L781.8 193 L784.29 192.79 L786.79 192.59 L789.28 192.38 L791.77 192.18 L794.27 191.97 L796.76 191.76 L799.25 191.56 L801.74 191.35 L804.24 191.14 L806.73 190.93 L809.22 190.72 L811.71 190.51 L814.2 190.3 L816.7 190.09 L819.19 189.88 L821.68 189.66 L824.17 189.45 L826.66 189.24 L829.15 189.02 L831.64 188.8 L834.14 188.59 L836.63 188.37 L839.12 188.15 L841.61 187.93 L844.1 187.7 L846.59 187.48 L849.08 187.26 L851.57 187.03 L854.06 186.8 L856.55 186.57 L859.04 186.34 L861.53 186.11 L864.02 185.88 L866.51 185.65 L869 185.41 L871.49 185.17 L873.98 184.93 L876.47 184.69 L878.96 184.45 L881.45 184.2 L883.94 183.96 L886.43 183.71 L888.92 183.46 L891.4 183.21 L893.89 182.96 L896.38 182.7 L898.87 182.44 L901.36 182.18 L903.85 181.92 L906.33 181.66 L908.82 181.39 L911.31 181.12 L913.8 180.85 L916.28 180.58 L918.77 180.3 L921.26 180.03 L923.75 179.75 L926.23 179.46 L928.72 179.18 L931.21 178.89 L933.69 178.6 L936.18 178.31 L938.67 178.02 L941.15 177.72 L943.64 177.42 L946.12 177.11 L948.61 176.81 L951.1 176.5 L953.58 176.19 L956.07 175.87 L958.55 175.55 L961.04 175.23 L963.52 174.91 L966.01 174.58 L968.49 174.25 L970.98 173.92 L973.46 173.58 L975.94 173.24 L978.43 172.9 L980.91 172.55 L983.4 172.21 L985.88 171.85 L988.36 171.5 L990.85 171.14 L993.33 170.77 L995.81 170.41 L998.3 170.04 L1000.78 169.66 L1003.26 169.29 L1005.74 168.9 L1008.23 168.52 L1010.71 168.13 L1013.19 167.74 L1015.67 167.34 L1018.15 166.94 L1020.64 166.54 L1023.12 166.13 L1025.6 165.72 L1028.08 165.31 L1030.56 164.89 L1033.04 164.47 L1035.52 164.04 L1038 163.61 L1040.48 163.18 L1042.95 162.75 L1045.43 162.31 L1047.91 161.87 L1050.39 161.42 L1052.87 160.97 L1055.34 160.52 L1057.82 160.07 L1060.3 159.61 L1062.77 159.15 L1065.25 158.68 L1067.72 158.21 L1070.19 157.74 L1072.67 157.27 L1075.14 156.79 L1077.61 156.31 L1080.09 155.82 L1082.56 155.34 L1085.03 154.85 L1087.5 154.35 L1089.97 153.86 L1092.44 153.36 L1094.91 152.86 L1097.37 152.35 L1099.84 151.84 L1102.31 151.33 L1104.77 150.82 L1107.24 150.3 L1109.7 149.78 L1112.17 149.26 L1114.63 148.73 L1117.09 148.2 L1119.55 147.67 L1122.01 147.14 L1124.47 146.6 L1126.93 146.06 L1129.39 145.52 L1131.85 144.98 L1134.31 144.43 L1136.76 143.88 L1139.22 143.33 L1141.67 142.77 L1144.13 142.22 L1146.58 141.66 L1149.03 141.09 L1151.48 140.53 L1153.93 139.96 L1156.38 139.39 L1158.83 138.82 L1161.27 138.25 L1163.72 137.67 L1166.16 137.09 L1168.61 136.51 L1171.05 135.92 L1173.49 135.34 L1175.93 134.75 L1178.37 134.16 L1180.81 133.56 L1183.25 132.97 L1185.69 132.37 L1188.12 131.77 L1190.55 131.17 L1192.99 130.57 L1195.42 129.96 L1197.85 129.35 L1200.28 128.74 L1202.71 128.13 L1205.13 127.52 L1207.56 126.9 L1209.98 126.28 L1212.41 125.66 L1214.83 125.04 L1217.25 124.42 L1219.67 123.79 L1222.09 123.17 L1224.51 122.54 L1226.92 121.9 L1229.33 121.27 L1231.75 120.64 L1234.16 120 L1236.57 119.36 L1238.98 118.72 L1241.38 118.08 L1243.79 117.44 L1246.2 116.79 L1248.6 116.15 L1251 115.5 L1251 205 L1251.15 207.68 L1251.18 210.31 L1251.1 212.89 L1250.91 215.44 L1250.62 217.93 L1250.22 220.39 L1249.73 222.81 L1249.15 225.19 L1248.48 227.53 L1247.73 229.84 L1246.89 232.11 L1245.98 234.35 L1245 236.56 L1243.95 238.75 L1242.83 240.9 L1241.65 243.03 L1240.42 245.13 L1239.13 247.21 L1237.8 249.26 L1236.42 251.3 L1235 253.32 L1233.54 255.32 L1232.04 257.3 L1230.51 259.26 L1228.94 261.21 L1227.34 263.14 L1225.71 265.05 L1224.05 266.94 L1222.36 268.82 L1220.65 270.69 L1218.91 272.54 L1217.14 274.37 L1215.35 276.18 L1213.54 277.99 L1211.71 279.77 L1209.86 281.55 L1207.99 283.31 L1206.11 285.05 L1204.21 286.78 L1202.3 288.5 L1200.38 290.2 L1198.45 291.9 L1196.51 293.58 L1194.56 295.24 L1192.6 296.9 L1190.64 298.54 L1188.67 300.17 L1186.71 301.79 L1184.74 303.4 L1182.77 305 L1180.8 306.58 L1178.83 308.16 L1176.85 309.71 L1174.87 311.25 L1172.89 312.77 L1170.89 314.27 L1168.89 315.75 L1166.88 317.2 L1164.86 318.64 L1162.83 320.04 L1160.79 321.43 L1158.73 322.78 L1156.66 324.11 L1154.57 325.4 L1152.47 326.67 L1150.35 327.9 L1148.22 329.1 L1146.06 330.26 L1143.89 331.38 L1141.69 332.47 L1139.47 333.52 L1137.23 334.53 L1134.97 335.5 L1132.69 336.43 L1130.39 337.33 L1128.07 338.2 L1125.73 339.04 L1123.38 339.84 L1121.01 340.61 L1118.63 341.36 L1116.23 342.08 L1113.82 342.77 L1111.4 343.44 L1108.96 344.09 L1106.52 344.71 L1104.07 345.31 L1101.61 345.9 L1099.14 346.47 L1096.66 347.02 L1094.18 347.56 L1091.7 348.08 L1089.21 348.6 L1086.71 349.1 L1084.22 349.59 L1081.72 350.07 L1079.23 350.55 L1076.73 351.02 L1074.24 351.49 L1071.74 351.95 L1069.24 352.4 L1066.75 352.85 L1064.25 353.29 L1061.76 353.73 L1059.26 354.16 L1056.77 354.59 L1054.27 355.01 L1051.78 355.42 L1049.29 355.84 L1046.79 356.24 L1044.3 356.64 L1041.8 357.04 L1039.31 357.43 L1036.82 357.81 L1034.32 358.19 L1031.83 358.57 L1029.33 358.94 L1026.84 359.31 L1024.35 359.67 L1021.85 360.03 L1019.36 360.38 L1016.87 360.73 L1014.37 361.07 L1011.88 361.41 L1009.38 361.75 L1006.89 362.08 L1004.4 362.41 L1001.9 362.73 L999.41 363.05 L996.92 363.37 L994.42 363.68 L991.93 363.99 L989.44 364.29 L986.94 364.59 L984.45 364.89 L981.96 365.19 L979.46 365.48 L976.97 365.77 L974.47 366.05 L971.98 366.33 L969.49 366.61 L966.99 366.88 L964.5 367.16 L962 367.43 L959.51 367.69 L957.01 367.96 L954.52 368.22 L952.03 368.47 L949.53 368.73 L947.04 368.98 L944.54 369.23 L942.04 369.48 L939.55 369.73 L937.05 369.97 L934.56 370.21 L932.06 370.45 L929.57 370.69 L927.07 370.92 L924.57 371.16 L922.08 371.39 L919.58 371.62 L917.08 371.85 L914.59 372.07 L912.09 372.3 L909.59 372.52 L907.09 372.74 L904.59 372.96 L902.1 373.18 L899.6 373.4 L897.1 373.62 L894.6 373.83 L892.1 374.04 L889.6 374.26 L887.1 374.47 L884.6 374.68 L882.1 374.89 L879.6 375.1 L877.1 375.31 L874.6 375.51 L872.1 375.72 L869.6 375.92 L867.1 376.13 L864.59 376.33 L862.09 376.54 L859.59 376.74 L857.09 376.94 L854.59 377.14 L852.08 377.34 L849.58 377.54 L847.08 377.74 L844.57 377.93 L842.07 378.13 L839.57 378.33 L837.06 378.53 L834.56 378.72 L832.06 378.92 L829.55 379.11 L827.05 379.31 L824.54 379.5 L822.04 379.7 L819.54 379.89 L817.03 380.08 L814.53 380.28 L812.02 380.47 L809.52 380.66 L807.01 380.85 L804.51 381.05 L802 381.24 L799.5 381.43 L796.99 381.62 L794.49 381.82 L791.98 382.01 L789.48 382.2 L786.97 382.39 L784.47 382.59 L781.96 382.78 L779.46 382.97 L776.95 383.16 L774.44 383.36 L771.94 383.55 L769.43 383.74 L766.93 383.94 L764.42 384.13 L761.92 384.33 L759.41 384.52 L756.91 384.72 L754.4 384.91 L751.89 385.11 L749.39 385.31 L746.88 385.51 L744.38 385.7 L741.87 385.9 L739.37 386.1 L736.86 386.3 L734.36 386.5 L731.85 386.7 L729.35 386.9 L726.84 387.11 L724.34 387.31 L721.83 387.52 L719.33 387.72 L716.82 387.93 L714.32 388.13 L711.81 388.34 L709.31 388.55 L706.8 388.76 L704.3 388.97 L701.8 389.18 L699.29 389.4 L696.79 389.61 L694.28 389.82 L691.78 390.04 L689.28 390.26 L686.77 390.48 L684.27 390.7 L681.77 390.92 L679.26 391.14 L676.76 391.36 L674.26 391.59 L671.76 391.82 L669.25 392.04 L666.75 392.27 L664.25 392.5 L661.75 392.74 L659.25 392.97 L656.75 393.21 L654.25 393.44 L651.74 393.68 L649.24 393.92 L646.74 394.16 L644.24 394.41 L641.74 394.65 L639.24 394.9 L636.74 395.15 L634.24 395.4 L631.75 395.65 L629.25 395.91 L626.75 396.16 L624.25 396.42 L621.75 396.68 L619.25 396.94 L616.76 397.21 L614.26 397.47 L611.76 397.74 L609.26 398.01 L606.77 398.29 L604.27 398.56 L601.78 398.84 L599.28 399.12 L596.79 399.4 L594.29 399.68 L591.8 399.97 L589.3 400.26 L586.81 400.55 L584.31 400.84 L581.82 401.13 L579.33 401.43 L576.84 401.73 L574.34 402.04 L571.85 402.34 L569.36 402.65 L566.87 402.96 L564.38 403.27 L561.89 403.59 L559.4 403.91 L556.91 404.23 L554.42 404.55 L551.93 404.88 L549.44 405.21 L546.95 405.54 L544.47 405.87 L541.98 406.21 L539.49 406.55 L537.01 406.9 L534.52 407.24 L532.03 407.59 L529.55 407.94 L527.06 408.3 L524.58 408.66 L522.1 409.02 L519.61 409.39 L517.13 409.75 L514.65 410.13 L512.17 410.5 L509.69 410.88 L507.2 411.26 L504.72 411.64 L502.24 412.03 L499.76 412.42 L497.28 412.81 L494.81 413.2 L492.33 413.6 L489.85 414 L487.37 414.41 L484.89 414.81 L482.42 415.22 L479.94 415.64 L477.47 416.05 L474.99 416.47 L472.51 416.89 L470.04 417.31 L467.57 417.73 L465.09 418.16 L462.62 418.59 L460.14 419.02 L457.67 419.46 L455.2 419.89 L452.73 420.33 L450.25 420.77 L447.78 421.22 L445.31 421.66 L442.84 422.11 L440.37 422.56 L437.9 423.01 L435.43 423.46 L432.96 423.92 L430.49 424.38 L428.02 424.84 L425.55 425.3 L423.09 425.76 L420.62 426.23 L418.15 426.69 L415.68 427.16 L413.22 427.63 L410.75 428.11 L408.28 428.58 L405.82 429.05 L403.35 429.53 L400.88 430.01 L398.42 430.49 L395.95 430.97 L393.49 431.45 L391.02 431.94 L388.56 432.42 L386.09 432.91 L383.63 433.4 L381.17 433.89 L378.7 434.38 L376.24 434.87 L373.78 435.36 L371.31 435.85 L368.85 436.35 L366.39 436.85 L363.93 437.34 L361.46 437.84 L359 438.34 L356.54 438.84 L354.08 439.34 L351.62 439.84 L349.15 440.34 L346.69 440.85 L344.23 441.35 L341.77 441.85 L339.31 442.36 L336.85 442.86 L334.39 443.37 L331.93 443.88 L329.47 444.38 L327.01 444.89 L324.55 445.4 L322.09 445.91 L319.63 446.41 L317.17 446.92 L314.71 447.43 L312.25 447.94 L309.79 448.45 L307.34 448.96 L304.88 449.47 L302.42 449.98 L299.96 450.49 L297.5 451" fill="none" stroke="#3a3a3a" stroke-width="3.8" stroke-dasharray="3.2 7.5" stroke-linejoin="round"/>
<path d="M297 479.5 L297 352 L297.23 349.46 L297.56 346.97 L297.99 344.51 L298.51 342.09 L299.12 339.71 L299.81 337.36 L300.59 335.05 L301.44 332.77 L302.37 330.52 L303.37 328.31 L304.44 326.12 L305.58 323.96 L306.77 321.83 L308.03 319.73 L309.33 317.65 L310.69 315.59 L312.1 313.55 L313.55 311.54 L315.04 309.55 L316.57 307.57 L318.13 305.61 L319.72 303.67 L321.34 301.75 L323 299.84 L324.68 297.95 L326.39 296.08 L328.13 294.23 L329.89 292.4 L331.68 290.59 L333.49 288.8 L335.33 287.03 L337.19 285.28 L339.07 283.55 L340.98 281.85 L342.9 280.16 L344.84 278.5 L346.8 276.86 L348.78 275.25 L350.78 273.66 L352.79 272.09 L354.81 270.55 L356.85 269.03 L358.91 267.54 L360.97 266.07 L363.05 264.63 L365.14 263.21 L367.25 261.82 L369.36 260.45 L371.49 259.11 L373.63 257.78 L375.78 256.48 L377.94 255.21 L380.11 253.95 L382.29 252.72 L384.48 251.51 L386.69 250.32 L388.9 249.15 L391.12 248 L393.35 246.87 L395.59 245.76 L397.84 244.67 L400.1 243.6 L402.37 242.55 L404.64 241.52 L406.93 240.5 L409.22 239.51 L411.52 238.53 L413.82 237.56 L416.13 236.62 L418.45 235.69 L420.78 234.78 L423.11 233.88 L425.45 233 L427.8 232.13 L430.15 231.28 L432.5 230.44 L434.87 229.61 L437.23 228.8 L439.6 228.01 L441.98 227.22 L444.36 226.45 L446.74 225.69 L449.13 224.94 L451.52 224.21 L453.92 223.49 L456.32 222.77 L458.72 222.07 L461.13 221.38 L463.53 220.7 L465.94 220.02 L468.35 219.36 L470.77 218.7 L473.18 218.06 L475.6 217.42 L478.02 216.8 L480.44 216.18 L482.86 215.57 L485.29 214.96 L487.71 214.37 L490.14 213.79 L492.57 213.21 L495 212.64 L497.44 212.08 L499.87 211.53 L502.31 210.98 L504.75 210.45 L507.19 209.92 L509.63 209.4 L512.07 208.88 L514.52 208.38 L516.96 207.88 L519.41 207.39 L521.86 206.9 L524.31 206.42 L526.77 205.95 L529.22 205.49 L531.68 205.03 L534.13 204.58 L536.59 204.14 L539.05 203.7 L541.51 203.27 L543.98 202.85 L546.44 202.43 L548.91 202.02 L551.37 201.61 L553.84 201.21 L556.31 200.82 L558.78 200.43 L561.26 200.05 L563.73 199.67 L566.2 199.3 L568.68 198.94 L571.16 198.58 L573.63 198.22 L576.11 197.87 L578.59 197.53 L581.07 197.19 L583.56 196.85 L586.04 196.52 L588.52 196.2 L591.01 195.88 L593.5 195.56 L595.98 195.25 L598.47 194.95 L600.96 194.64 L603.45 194.34 L605.94 194.05 L608.44 193.76 L610.93 193.47 L613.42 193.19 L615.92 192.91 L618.41 192.64 L620.91 192.37 L623.41 192.1 L625.9 191.83 L628.4 191.57 L630.9 191.31 L633.4 191.06 L635.9 190.81 L638.4 190.56 L640.9 190.31 L643.41 190.07 L645.91 189.83 L648.41 189.59 L650.92 189.35 L653.42 189.12 L655.93 188.89 L658.43 188.66 L660.94 188.43 L663.44 188.21 L665.95 187.99 L668.46 187.76 L670.97 187.55 L673.47 187.33 L675.98 187.11 L678.49 186.9 L681 186.68 L683.51 186.47 L686.02 186.26 L688.53 186.05 L691.04 185.85 L693.55 185.64 L696.06 185.43 L698.57 185.23 L701.08 185.02 L703.59 184.82 L706.11 184.61 L708.62 184.41 L711.13 184.21 L713.64 184 L716.15 183.8 L718.66 183.6 L721.18 183.39 L723.69 183.19 L726.2 182.99 L728.71 182.79 L731.22 182.58 L733.73 182.38 L736.25 182.17 L738.76 181.97 L741.27 181.76 L743.78 181.55 L746.29 181.34 L748.8 181.14 L751.31 180.93 L753.82 180.71 L756.33 180.5 L758.84 180.29 L761.35 180.07 L763.86 179.85 L766.37 179.63 L768.88 179.41 L771.38 179.19 L773.89 178.97 L776.4 178.74 L778.91 178.51 L781.41 178.28 L783.92 178.05 L786.42 177.81 L788.93 177.57 L791.43 177.33 L793.94 177.09 L796.44 176.85 L798.94 176.6 L801.44 176.35 L803.95 176.09 L806.45 175.84 L808.95 175.58 L811.45 175.32 L813.95 175.05 L816.45 174.79 L818.95 174.52 L821.44 174.25 L823.94 173.97 L826.44 173.7 L828.94 173.42 L831.43 173.14 L833.93 172.85 L836.42 172.56 L838.92 172.28 L841.41 171.98 L843.9 171.69 L846.4 171.39 L848.89 171.09 L851.38 170.79 L853.87 170.49 L856.36 170.18 L858.85 169.87 L861.34 169.56 L863.83 169.24 L866.32 168.92 L868.81 168.6 L871.3 168.28 L873.78 167.96 L876.27 167.63 L878.76 167.3 L881.24 166.97 L883.73 166.63 L886.21 166.29 L888.7 165.95 L891.18 165.61 L893.67 165.27 L896.15 164.92 L898.63 164.57 L901.11 164.21 L903.59 163.86 L906.07 163.5 L908.55 163.14 L911.03 162.78 L913.51 162.41 L915.99 162.04 L918.47 161.67 L920.95 161.3 L923.42 160.92 L925.9 160.54 L928.38 160.16 L930.85 159.78 L933.33 159.39 L935.8 159.01 L938.28 158.62 L940.75 158.22 L943.22 157.83 L945.7 157.43 L948.17 157.03 L950.64 156.62 L953.11 156.22 L955.58 155.81 L958.05 155.4 L960.52 154.98 L962.99 154.57 L965.46 154.15 L967.93 153.73 L970.4 153.3 L972.86 152.88 L975.33 152.45 L977.8 152.02 L980.26 151.58 L982.73 151.15 L985.19 150.71 L987.66 150.27 L990.12 149.82 L992.58 149.38 L995.05 148.93 L997.51 148.48 L999.97 148.02 L1002.43 147.57 L1004.89 147.11 L1007.35 146.65 L1009.81 146.18 L1012.27 145.72 L1014.73 145.25 L1017.19 144.78 L1019.65 144.3 L1022.1 143.83 L1024.56 143.35 L1027.02 142.86 L1029.47 142.38 L1031.93 141.89 L1034.38 141.41 L1036.84 140.91 L1039.29 140.42 L1041.75 139.92 L1044.2 139.43 L1046.65 138.92 L1049.11 138.42 L1051.56 137.91 L1054.01 137.41 L1056.46 136.89 L1058.91 136.38 L1061.36 135.86 L1063.81 135.35 L1066.26 134.82 L1068.7 134.3 L1071.15 133.77 L1073.6 133.25 L1076.05 132.71 L1078.49 132.18 L1080.94 131.64 L1083.38 131.11 L1085.83 130.56 L1088.27 130.02 L1090.72 129.48 L1093.16 128.93 L1095.61 128.38 L1098.05 127.82 L1100.49 127.27 L1102.93 126.71 L1105.37 126.15 L1107.81 125.58 L1110.25 125.02 L1112.69 124.45 L1115.13 123.88 L1117.57 123.31 L1120.01 122.73 L1122.45 122.15 L1124.89 121.57 L1127.32 120.99 L1129.76 120.4 L1132.2 119.81 L1134.63 119.22 L1137.07 118.63 L1139.5 118.04 L1141.93 117.44 L1144.37 116.84 L1146.8 116.23 L1149.23 115.63 L1151.67 115.02 L1154.1 114.41 L1156.53 113.8 L1158.96 113.18 L1161.39 112.57 L1163.82 111.95 L1166.25 111.32 L1168.68 110.7 L1171.11 110.07 L1173.54 109.44 L1175.97 108.81 L1178.39 108.18 L1180.82 107.54 L1183.25 106.9 L1185.67 106.26 L1188.1 105.61 L1190.52 104.97 L1192.95 104.32 L1195.37 103.66 L1197.79 103.01 L1200.22 102.35 L1202.64 101.69 L1205.06 101.03 L1207.48 100.37 L1209.91 99.7 L1212.33 99.03 L1214.75 98.36 L1217.17 97.69 L1219.59 97.01 L1222.01 96.33 L1224.42 95.65 L1226.84 94.97 L1229.26 94.28 L1231.68 93.59 L1234.09 92.9 L1236.51 92.21 L1238.93 91.52 L1241.34 90.82 L1243.76 90.12 L1246.17 89.41 L1248.59 88.71 L1251 88 L1251 205 L1251.24 207.72 L1251.35 210.39 L1251.33 213 L1251.19 215.57 L1250.93 218.09 L1250.56 220.56 L1250.08 222.99 L1249.51 225.37 L1248.83 227.71 L1248.07 230.02 L1247.22 232.28 L1246.28 234.51 L1245.27 236.71 L1244.19 238.88 L1243.04 241.01 L1241.82 243.12 L1240.55 245.2 L1239.23 247.25 L1237.86 249.28 L1236.44 251.29 L1234.99 253.28 L1233.51 255.26 L1231.99 257.21 L1230.44 259.15 L1228.86 261.07 L1227.25 262.98 L1225.61 264.87 L1223.95 266.75 L1222.27 268.62 L1220.57 270.47 L1218.84 272.31 L1217.1 274.14 L1215.34 275.97 L1213.57 277.78 L1211.78 279.58 L1209.98 281.38 L1208.16 283.16 L1206.34 284.95 L1204.52 286.72 L1202.68 288.5 L1200.84 290.26 L1199 292.03 L1197.16 293.79 L1195.32 295.55 L1193.48 297.31 L1191.65 299.06 L1189.82 300.82 L1187.99 302.58 L1186.17 304.33 L1184.35 306.08 L1182.53 307.83 L1180.71 309.57 L1178.88 311.3 L1177.06 313.02 L1175.23 314.73 L1173.39 316.43 L1171.55 318.11 L1169.7 319.78 L1167.84 321.44 L1165.97 323.07 L1164.09 324.69 L1162.2 326.28 L1160.3 327.86 L1158.38 329.41 L1156.44 330.94 L1154.49 332.44 L1152.52 333.91 L1150.53 335.36 L1148.52 336.77 L1146.49 338.16 L1144.44 339.51 L1142.36 340.83 L1140.26 342.11 L1138.13 343.35 L1135.97 344.57 L1133.8 345.74 L1131.6 346.89 L1129.38 348 L1127.14 349.08 L1124.88 350.13 L1122.6 351.16 L1120.3 352.15 L1117.99 353.12 L1115.66 354.06 L1113.31 354.98 L1110.95 355.88 L1108.58 356.75 L1106.2 357.6 L1103.8 358.43 L1101.4 359.24 L1098.99 360.03 L1096.56 360.81 L1094.14 361.57 L1091.7 362.31 L1089.26 363.04 L1086.82 363.76 L1084.37 364.46 L1081.92 365.15 L1079.47 365.84 L1077.02 366.51 L1074.57 367.17 L1072.11 367.83 L1069.66 368.47 L1067.21 369.11 L1064.75 369.73 L1062.3 370.35 L1059.84 370.96 L1057.38 371.56 L1054.93 372.15 L1052.47 372.73 L1050.01 373.3 L1047.55 373.87 L1045.09 374.43 L1042.63 374.97 L1040.17 375.51 L1037.7 376.05 L1035.24 376.57 L1032.78 377.09 L1030.31 377.59 L1027.85 378.09 L1025.38 378.59 L1022.92 379.07 L1020.45 379.55 L1017.98 380.02 L1015.52 380.48 L1013.05 380.93 L1010.58 381.38 L1008.11 381.82 L1005.64 382.26 L1003.17 382.68 L1000.7 383.1 L998.23 383.51 L995.75 383.92 L993.28 384.32 L990.81 384.71 L988.33 385.1 L985.86 385.48 L983.38 385.85 L980.91 386.22 L978.43 386.58 L975.95 386.94 L973.48 387.29 L971 387.63 L968.52 387.97 L966.04 388.3 L963.56 388.63 L961.08 388.95 L958.6 389.26 L956.12 389.57 L953.64 389.88 L951.16 390.18 L948.67 390.47 L946.19 390.76 L943.71 391.05 L941.22 391.33 L938.74 391.6 L936.25 391.87 L933.77 392.14 L931.28 392.4 L928.8 392.66 L926.31 392.91 L923.82 393.16 L921.34 393.4 L918.85 393.64 L916.36 393.88 L913.87 394.11 L911.38 394.34 L908.89 394.56 L906.4 394.78 L903.91 395 L901.42 395.21 L898.93 395.42 L896.44 395.63 L893.95 395.84 L891.45 396.04 L888.96 396.23 L886.47 396.43 L883.97 396.62 L881.48 396.81 L878.99 397 L876.49 397.18 L874 397.36 L871.5 397.54 L869 397.72 L866.51 397.89 L864.01 398.06 L861.52 398.23 L859.02 398.4 L856.52 398.57 L854.02 398.73 L851.53 398.89 L849.03 399.05 L846.53 399.21 L844.03 399.37 L841.53 399.53 L839.03 399.68 L836.53 399.83 L834.03 399.99 L831.53 400.14 L829.03 400.29 L826.53 400.44 L824.03 400.59 L821.53 400.73 L819.03 400.88 L816.52 401.03 L814.02 401.17 L811.52 401.32 L809.02 401.46 L806.51 401.61 L804.01 401.75 L801.51 401.9 L799 402.04 L796.5 402.19 L794 402.33 L791.49 402.48 L788.99 402.62 L786.48 402.77 L783.98 402.92 L781.47 403.06 L778.97 403.21 L776.46 403.36 L773.96 403.51 L771.45 403.66 L768.95 403.81 L766.44 403.96 L763.93 404.11 L761.43 404.26 L758.92 404.41 L756.42 404.57 L753.91 404.72 L751.4 404.88 L748.9 405.03 L746.39 405.19 L743.88 405.35 L741.38 405.51 L738.87 405.67 L736.36 405.83 L733.86 405.99 L731.35 406.16 L728.84 406.32 L726.33 406.49 L723.83 406.65 L721.32 406.82 L718.81 406.99 L716.31 407.16 L713.8 407.33 L711.29 407.51 L708.79 407.68 L706.28 407.86 L703.77 408.03 L701.27 408.21 L698.76 408.39 L696.26 408.58 L693.75 408.76 L691.24 408.94 L688.74 409.13 L686.23 409.32 L683.73 409.51 L681.22 409.7 L678.72 409.89 L676.21 410.09 L673.71 410.29 L671.2 410.48 L668.7 410.68 L666.19 410.89 L663.69 411.09 L661.18 411.3 L658.68 411.51 L656.18 411.72 L653.67 411.93 L651.17 412.14 L648.67 412.36 L646.16 412.58 L643.66 412.8 L641.16 413.02 L638.66 413.25 L636.16 413.47 L633.66 413.7 L631.16 413.93 L628.65 414.17 L626.15 414.4 L623.65 414.64 L621.16 414.88 L618.66 415.13 L616.16 415.37 L613.66 415.62 L611.16 415.87 L608.66 416.13 L606.17 416.38 L603.67 416.64 L601.17 416.9 L598.68 417.17 L596.18 417.43 L593.69 417.7 L591.19 417.98 L588.7 418.25 L586.2 418.53 L583.71 418.81 L581.22 419.09 L578.73 419.38 L576.23 419.67 L573.74 419.96 L571.25 420.26 L568.76 420.56 L566.27 420.86 L563.78 421.16 L561.29 421.47 L558.81 421.78 L556.32 422.1 L553.83 422.41 L551.34 422.73 L548.86 423.06 L546.37 423.39 L543.89 423.72 L541.4 424.05 L538.92 424.39 L536.44 424.73 L533.96 425.07 L531.48 425.42 L528.99 425.77 L526.51 426.13 L524.03 426.48 L521.56 426.85 L519.08 427.21 L516.6 427.58 L514.12 427.95 L511.65 428.33 L509.17 428.71 L506.7 429.09 L504.22 429.48 L501.75 429.87 L499.28 430.27 L496.81 430.67 L494.34 431.07 L491.87 431.48 L489.4 431.89 L486.93 432.31 L484.46 432.72 L481.99 433.15 L479.53 433.58 L477.06 434.01 L474.6 434.44 L472.13 434.88 L469.67 435.33 L467.21 435.78 L464.75 436.23 L462.29 436.69 L459.83 437.15 L457.37 437.61 L454.91 438.08 L452.46 438.56 L450 439.04 L447.55 439.52 L445.09 440.01 L442.64 440.5 L440.19 441 L437.74 441.5 L435.29 442.01 L432.84 442.52 L430.39 443.03 L427.94 443.55 L425.5 444.08 L423.05 444.61 L420.61 445.14 L418.16 445.68 L415.72 446.23 L413.28 446.78 L410.84 447.33 L408.4 447.89 L405.96 448.45 L403.53 449.02 L401.09 449.6 L398.66 450.18 L396.22 450.76 L393.79 451.35 L391.36 451.95 L388.93 452.55 L386.5 453.15 L384.07 453.76 L381.65 454.38 L379.22 455 L376.8 455.63 L374.37 456.26 L371.95 456.9 L369.53 457.54 L367.11 458.19 L364.69 458.84 L362.28 459.5 L359.86 460.17 L357.45 460.84 L355.03 461.51 L352.62 462.19 L350.21 462.88 L347.8 463.57 L345.39 464.27 L342.98 464.98 L340.58 465.69 L338.17 466.4 L335.77 467.13 L333.37 467.85 L330.97 468.59 L328.57 469.33 L326.17 470.07 L323.77 470.83 L321.38 471.58 L318.98 472.35 L316.59 473.12 L314.2 473.89 L311.81 474.68 L309.42 475.46 L307.03 476.26 L304.65 477.06 L302.26 477.87 L299.88 478.68 L297.5 479.5" fill="none" stroke="#1a1a1a" stroke-width="3.5" stroke-dasharray="12 4 3 4" stroke-linejoin="round"/>
<line x1="297" y1="338" x2="297" y2="374" stroke="#111" stroke-width="3.6" stroke-linecap="butt"/>
<line x1="297" y1="374" x2="297" y2="481" stroke="#666" stroke-width="3.4" stroke-linecap="butt"/>
<line x1="1062" y1="217.5" x2="1062" y2="285" stroke="#111" stroke-width="3" stroke-linecap="butt"/>
<polygon points="1062,221.5 1066.5,240.5 1057.5,240.5" fill="#000"/>
<line x1="1060.8" y1="285" x2="1241" y2="285" stroke="#333" stroke-width="3.5" stroke-linecap="butt"/>
<line x1="1147" y1="164" x2="1147" y2="228" stroke="#444" stroke-width="2.6" stroke-linecap="butt"/>
<polygon points="1147,171 1151.5,190 1142.5,190" fill="#000"/>
<line x1="1145.8" y1="228" x2="1266.5" y2="228" stroke="#111" stroke-width="3.5" stroke-linecap="butt"/>
<line x1="1187.5" y1="131" x2="1187.5" y2="188" stroke="#222" stroke-width="3" stroke-linecap="butt"/>
<polygon points="1187.5,136 1192,155 1183,155" fill="#000"/>
<line x1="1186" y1="188" x2="1311.6" y2="188" stroke="#666" stroke-width="4" stroke-linecap="butt"/>
<line x1="1210.5" y1="103" x2="1210.5" y2="144.4" stroke="#111" stroke-width="3" stroke-linecap="butt"/>
<polygon points="1211,108 1215.5,128 1206.5,128" fill="#000"/>
<line x1="1209" y1="144.4" x2="1334.7" y2="144.4" stroke="#111" stroke-width="3" stroke-linecap="butt"/>
<text transform="matrix(52.46 0 0 57.43 1346.68 153.04)" font-size="1" fill="#000">(d)</text>
<text transform="matrix(52.71 0 0 57.43 1318.06 203.34)" font-size="1" fill="#000">(c)</text>
<text transform="matrix(53.64 0 0 56.04 1280.02 255.33)" font-size="1" fill="#000">(b)</text>
<text transform="matrix(52.62 0 0 57.54 1255.57 309.42)" font-size="1" fill="#000">(a)</text>
<text transform="matrix(53.61 0 0 57.11 1362.62 380.41)" font-size="1" fill="#000">(i)</text>
<line x1="200.6" y1="642.5" x2="1442.7" y2="642.5" stroke="#bdbdbd" stroke-width="3" stroke-linecap="butt"/>
<line x1="1442.7" y1="642.5" x2="1442.7" y2="1097" stroke="#bdbdbd" stroke-width="2.5" stroke-linecap="butt"/>
<line x1="200.6" y1="640.5" x2="200.6" y2="1099" stroke="#000" stroke-width="5" stroke-linecap="butt"/>
<line x1="198.6" y1="1097" x2="1443.7" y2="1097" stroke="#111" stroke-width="4.6" stroke-linecap="butt"/>
<line x1="202.6" y1="1043.5" x2="226.6" y2="1043.5" stroke="#000" stroke-width="4.6" stroke-linecap="butt"/>
<line x1="202.6" y1="990" x2="226.6" y2="990" stroke="#000" stroke-width="4.6" stroke-linecap="butt"/>
<line x1="202.6" y1="936.5" x2="226.6" y2="936.5" stroke="#000" stroke-width="4.6" stroke-linecap="butt"/>
<line x1="202.6" y1="883" x2="226.6" y2="883" stroke="#000" stroke-width="4.6" stroke-linecap="butt"/>
<line x1="202.6" y1="829.5" x2="226.6" y2="829.5" stroke="#000" stroke-width="4.6" stroke-linecap="butt"/>
<line x1="202.6" y1="776" x2="226.6" y2="776" stroke="#000" stroke-width="4.6" stroke-linecap="butt"/>
<line x1="202.6" y1="722.5" x2="226.6" y2="722.5" stroke="#000" stroke-width="4.6" stroke-linecap="butt"/>
<line x1="202.6" y1="669" x2="226.6" y2="669" stroke="#000" stroke-width="4.6" stroke-linecap="butt"/>
<line x1="202.6" y1="1070.25" x2="215.6" y2="1070.25" stroke="#000" stroke-width="4.6" stroke-linecap="butt"/>
<line x1="202.6" y1="1016.75" x2="215.6" y2="1016.75" stroke="#000" stroke-width="4.6" stroke-linecap="butt"/>
<line x1="202.6" y1="963.25" x2="215.6" y2="963.25" stroke="#000" stroke-width="4.6" stroke-linecap="butt"/>
<line x1="202.6" y1="909.75" x2="215.6" y2="909.75" stroke="#000" stroke-width="4.6" stroke-linecap="butt"/>
<line x1="202.6" y1="856.25" x2="215.6" y2="856.25" stroke="#000" stroke-width="4.6" stroke-linecap="butt"/>
<line x1="202.6" y1="802.75" x2="215.6" y2="802.75" stroke="#000" stroke-width="4.6" stroke-linecap="butt"/>
<line x1="202.6" y1="749.25" x2="215.6" y2="749.25" stroke="#000" stroke-width="4.6" stroke-linecap="butt"/>
<line x1="202.6" y1="695.75" x2="215.6" y2="695.75" stroke="#000" stroke-width="4.6" stroke-linecap="butt"/>
<line x1="202.6" y1="642.25" x2="215.6" y2="642.25" stroke="#000" stroke-width="4.6" stroke-linecap="butt"/>
<line x1="355.6" y1="1096" x2="355.6" y2="1072" stroke="#000" stroke-width="4.4" stroke-linecap="butt"/>
<line x1="510.7" y1="1096" x2="510.7" y2="1072" stroke="#000" stroke-width="4.4" stroke-linecap="butt"/>
<line x1="665.8" y1="1096" x2="665.8" y2="1072" stroke="#000" stroke-width="4.4" stroke-linecap="butt"/>
<line x1="820.9" y1="1096" x2="820.9" y2="1072" stroke="#000" stroke-width="4.4" stroke-linecap="butt"/>
<line x1="976" y1="1096" x2="976" y2="1072" stroke="#000" stroke-width="4.4" stroke-linecap="butt"/>
<line x1="1131.1" y1="1096" x2="1131.1" y2="1072" stroke="#000" stroke-width="4.4" stroke-linecap="butt"/>
<line x1="1286.2" y1="1096" x2="1286.2" y2="1072" stroke="#000" stroke-width="4.4" stroke-linecap="butt"/>
<line x1="1441.3" y1="1096" x2="1441.3" y2="1072" stroke="#000" stroke-width="4.4" stroke-linecap="butt"/>
<line x1="278.05" y1="1096" x2="278.05" y2="1084" stroke="#000" stroke-width="4.4" stroke-linecap="butt"/>
<line x1="433.15" y1="1096" x2="433.15" y2="1084" stroke="#000" stroke-width="4.4" stroke-linecap="butt"/>
<line x1="588.25" y1="1096" x2="588.25" y2="1084" stroke="#000" stroke-width="4.4" stroke-linecap="butt"/>
<line x1="743.35" y1="1096" x2="743.35" y2="1084" stroke="#000" stroke-width="4.4" stroke-linecap="butt"/>
<line x1="898.45" y1="1096" x2="898.45" y2="1084" stroke="#000" stroke-width="4.4" stroke-linecap="butt"/>
<line x1="1053.55" y1="1096" x2="1053.55" y2="1084" stroke="#000" stroke-width="4.4" stroke-linecap="butt"/>
<line x1="1208.65" y1="1096" x2="1208.65" y2="1084" stroke="#000" stroke-width="4.4" stroke-linecap="butt"/>
<line x1="1363.75" y1="1096" x2="1363.75" y2="1084" stroke="#000" stroke-width="4.4" stroke-linecap="butt"/>
<text transform="matrix(43.89 0 0 46.48 152.39 1108.74)" font-size="1" fill="#000" stroke="#000" stroke-width="0.02" stroke-linejoin="round">0</text>
<text transform="matrix(45 0 0 46.48 126.84 1055.24)" font-size="1" fill="#000" stroke="#000" stroke-width="0.02" stroke-linejoin="round">10</text>
<text transform="matrix(45.03 0 0 46.48 126.81 1001.74)" font-size="1" fill="#000" stroke="#000" stroke-width="0.02" stroke-linejoin="round">20</text>
<text transform="matrix(45.04 0 0 46.48 126.8 948.24)" font-size="1" fill="#000" stroke="#000" stroke-width="0.02" stroke-linejoin="round">30</text>
<text transform="matrix(45.05 0 0 46.48 126.79 894.74)" font-size="1" fill="#000" stroke="#000" stroke-width="0.02" stroke-linejoin="round">40</text>
<text transform="matrix(45.04 0 0 46.48 126.81 841.24)" font-size="1" fill="#000" stroke="#000" stroke-width="0.02" stroke-linejoin="round">50</text>
<text transform="matrix(45.03 0 0 46.48 126.81 787.74)" font-size="1" fill="#000" stroke="#000" stroke-width="0.02" stroke-linejoin="round">60</text>
<text transform="matrix(45.02 0 0 46.48 126.82 734.24)" font-size="1" fill="#000" stroke="#000" stroke-width="0.02" stroke-linejoin="round">70</text>
<text transform="matrix(45.04 0 0 46.48 126.81 680.74)" font-size="1" fill="#000" stroke="#000" stroke-width="0.02" stroke-linejoin="round">80</text>
<text transform="matrix(45.24 0 0 48.59 170.06 1157.01)" font-size="1" fill="#000" stroke="#000" stroke-width="0.02" stroke-linejoin="round">0.0</text>
<text transform="matrix(45.25 0 0 48.59 324.82 1157.01)" font-size="1" fill="#000" stroke="#000" stroke-width="0.02" stroke-linejoin="round">0.5</text>
<text transform="matrix(45.22 0 0 48.59 479.71 1157.01)" font-size="1" fill="#000" stroke="#000" stroke-width="0.02" stroke-linejoin="round">1.0</text>
<text transform="matrix(45.23 0 0 49.29 634.46 1157.01)" font-size="1" fill="#000" stroke="#000" stroke-width="0.02" stroke-linejoin="round">1.5</text>
<text transform="matrix(45.24 0 0 48.59 790.57 1157.01)" font-size="1" fill="#000" stroke="#000" stroke-width="0.02" stroke-linejoin="round">2.0</text>
<text transform="matrix(45.25 0 0 48.59 945.33 1157.01)" font-size="1" fill="#000" stroke="#000" stroke-width="0.02" stroke-linejoin="round">2.5</text>
<text transform="matrix(45.25 0 0 48.59 1100.99 1157.01)" font-size="1" fill="#000" stroke="#000" stroke-width="0.02" stroke-linejoin="round">3.0</text>
<text transform="matrix(45.25 0 0 48.59 1255.75 1157.01)" font-size="1" fill="#000" stroke="#000" stroke-width="0.02" stroke-linejoin="round">3.5</text>
<text transform="matrix(45.25 0 0 48.59 1411.42 1157.01)" font-size="1" fill="#000" stroke="#000" stroke-width="0.02" stroke-linejoin="round">4.0</text>
<text transform="matrix(49.4 0 0 48.97 600.34 1198)" font-size="1" fill="#000">log (frequency, Hz)</text>
<text transform="matrix(0 -49.87 53.24 0 66.3 1043.84)" font-size="1" fill="#000">Phase angle,</text>
<circle cx="33" cy="716.5" r="7.2" fill="none" stroke="#000" stroke-width="4"/>
<path d="M201 696.7 L203.59 696.69 L206.18 696.69 L208.77 696.71 L211.35 696.74 L213.93 696.78 L216.5 696.85 L219.07 696.92 L221.63 697.02 L224.19 697.12 L226.75 697.25 L229.3 697.38 L231.85 697.53 L234.39 697.7 L236.93 697.88 L239.46 698.07 L241.99 698.28 L244.51 698.5 L247.04 698.74 L249.55 698.99 L252.07 699.26 L254.57 699.53 L257.08 699.82 L259.58 700.13 L262.07 700.45 L264.57 700.78 L267.05 701.13 L269.54 701.49 L272.02 701.86 L274.49 702.24 L276.97 702.64 L279.43 703.05 L281.9 703.47 L284.36 703.91 L286.82 704.36 L289.27 704.82 L291.72 705.3 L294.16 705.78 L296.6 706.28 L299.04 706.79 L301.47 707.32 L303.9 707.85 L306.33 708.4 L308.75 708.96 L311.17 709.53 L313.58 710.11 L315.99 710.7 L318.4 711.31 L320.8 711.93 L323.2 712.55 L325.6 713.19 L327.99 713.84 L330.38 714.51 L332.77 715.18 L335.15 715.86 L337.53 716.56 L339.9 717.26 L342.28 717.98 L344.65 718.7 L347.01 719.44 L349.37 720.19 L351.73 720.94 L354.08 721.71 L356.44 722.49 L358.78 723.28 L361.13 724.08 L363.47 724.88 L365.81 725.7 L368.14 726.53 L370.47 727.36 L372.8 728.21 L375.13 729.07 L377.45 729.93 L379.77 730.8 L382.09 731.69 L384.4 732.58 L386.71 733.48 L389.01 734.39 L391.32 735.31 L393.62 736.24 L395.92 737.18 L398.21 738.12 L400.5 739.07 L402.79 740.04 L405.08 741.01 L407.36 741.99 L409.64 742.97 L411.91 743.97 L414.19 744.97 L416.46 745.98 L418.73 747 L420.99 748.02 L423.25 749.06 L425.51 750.1 L427.77 751.15 L430.03 752.2 L432.28 753.27 L434.53 754.34 L436.77 755.41 L439.02 756.5 L441.26 757.59 L443.5 758.69 L445.73 759.79 L447.96 760.9 L450.19 762.02 L452.42 763.15 L454.65 764.28 L456.87 765.41 L459.09 766.56 L461.31 767.71 L463.52 768.86 L465.74 770.03 L467.95 771.19 L470.16 772.37 L472.36 773.54 L474.57 774.73 L476.77 775.92 L478.97 777.11 L481.16 778.32 L483.36 779.52 L485.55 780.73 L487.74 781.95 L489.93 783.17 L492.11 784.4 L494.29 785.63 L496.48 786.86 L498.66 788.1 L500.83 789.35 L503.01 790.6 L505.18 791.85 L507.35 793.11 L509.52 794.37 L511.69 795.64 L513.86 796.91 L516.02 798.18 L518.19 799.46 L520.35 800.74 L522.51 802.03 L524.67 803.32 L526.83 804.61 L528.98 805.91 L531.14 807.2 L533.29 808.51 L535.44 809.81 L537.59 811.12 L539.74 812.43 L541.89 813.74 L544.04 815.06 L546.18 816.38 L548.33 817.7 L550.47 819.03 L552.61 820.35 L554.75 821.68 L556.89 823.01 L559.03 824.34 L561.17 825.68 L563.31 827.02 L565.45 828.35 L567.59 829.69 L569.72 831.04 L571.86 832.38 L573.99 833.72 L576.13 835.07 L578.26 836.42 L580.39 837.77 L582.53 839.12 L584.66 840.47 L586.79 841.82 L588.92 843.17 L591.05 844.52 L593.18 845.88 L595.31 847.23 L597.45 848.59 L599.58 849.94 L601.71 851.3 L603.84 852.65 L605.97 854.01 L608.1 855.36 L610.23 856.72 L612.36 858.07 L614.49 859.43 L616.62 860.78 L618.75 862.13 L620.88 863.49 L623.02 864.84 L625.15 866.19 L627.28 867.54 L629.41 868.89 L631.55 870.24 L633.68 871.59 L635.81 872.94 L637.95 874.28 L640.08 875.62 L642.22 876.97 L644.36 878.31 L646.5 879.65 L648.63 880.98 L650.77 882.32 L652.91 883.65 L655.05 884.99 L657.2 886.31 L659.34 887.64 L661.48 888.97 L663.63 890.29 L665.78 891.61 L667.92 892.93 L670.07 894.24 L672.22 895.55 L674.37 896.86 L676.52 898.17 L678.68 899.47 L680.83 900.77 L682.99 902.07 L685.15 903.36 L687.31 904.65 L689.47 905.94 L691.63 907.22 L693.79 908.5 L695.96 909.78 L698.13 911.05 L700.3 912.32 L702.47 913.58 L704.64 914.84 L706.81 916.09 L708.99 917.34 L711.17 918.59 L713.35 919.83 L715.53 921.07 L717.71 922.3 L719.9 923.53 L722.09 924.76 L724.28 925.97 L726.47 927.19 L728.67 928.39 L730.87 929.6 L733.07 930.79 L735.27 931.99 L737.47 933.17 L739.68 934.35 L741.89 935.53 L744.1 936.7 L746.32 937.86 L748.53 939.02 L750.75 940.17 L752.97 941.32 L755.2 942.46 L757.42 943.59 L759.65 944.72 L761.89 945.85 L764.12 946.97 L766.36 948.08 L768.6 949.18 L770.84 950.28 L773.08 951.38 L775.33 952.47 L777.58 953.55 L779.83 954.63 L782.08 955.7 L784.34 956.77 L786.59 957.83 L788.85 958.89 L791.12 959.94 L793.38 960.98 L795.65 962.02 L797.92 963.06 L800.19 964.09 L802.46 965.11 L804.74 966.13 L807.02 967.14 L809.3 968.14 L811.58 969.15 L813.87 970.14 L816.16 971.13 L818.45 972.12 L820.74 973.1 L823.03 974.07 L825.33 975.04 L827.62 976 L829.92 976.96 L832.23 977.91 L834.53 978.86 L836.84 979.8 L839.15 980.74 L841.46 981.67 L843.77 982.59 L846.09 983.52 L848.4 984.43 L850.72 985.34 L853.04 986.25 L855.36 987.15 L857.69 988.04 L860.02 988.93 L862.35 989.81 L864.68 990.69 L867.01 991.57 L869.34 992.44 L871.68 993.3 L874.02 994.16 L876.36 995.01 L878.7 995.86 L881.05 996.7 L883.39 997.54 L885.74 998.37 L888.09 999.2 L890.44 1000.02 L892.8 1000.84 L895.15 1001.66 L897.51 1002.46 L899.87 1003.27 L902.23 1004.06 L904.59 1004.86 L906.95 1005.65 L909.32 1006.43 L911.69 1007.21 L914.06 1007.98 L916.43 1008.75 L918.8 1009.51 L921.18 1010.27 L923.55 1011.02 L925.93 1011.77 L928.31 1012.52 L930.69 1013.26 L933.08 1013.99 L935.46 1014.72 L937.85 1015.44 L940.24 1016.16 L942.63 1016.88 L945.02 1017.59 L947.41 1018.3 L949.8 1019 L952.2 1019.69 L954.6 1020.38 L957 1021.07 L959.4 1021.75 L961.8 1022.43 L964.2 1023.1 L966.61 1023.77 L969.02 1024.43 L971.42 1025.09 L973.83 1025.75 L976.24 1026.4 L978.66 1027.04 L981.07 1027.68 L983.49 1028.32 L985.9 1028.95 L988.32 1029.58 L990.74 1030.2 L993.16 1030.82 L995.59 1031.43 L998.01 1032.04 L1000.43 1032.64 L1002.86 1033.24 L1005.29 1033.84 L1007.72 1034.43 L1010.15 1035.01 L1012.58 1035.59 L1015.01 1036.17 L1017.45 1036.74 L1019.88 1037.31 L1022.32 1037.88 L1024.76 1038.44 L1027.2 1038.99 L1029.64 1039.54 L1032.08 1040.09 L1034.52 1040.63 L1036.97 1041.17 L1039.41 1041.7 L1041.86 1042.23 L1044.31 1042.76 L1046.76 1043.28 L1049.21 1043.8 L1051.66 1044.31 L1054.11 1044.82 L1056.56 1045.32 L1059.02 1045.82 L1061.47 1046.32 L1063.93 1046.81 L1066.39 1047.3 L1068.85 1047.78 L1071.31 1048.26 L1073.77 1048.73 L1076.23 1049.2 L1078.69 1049.67 L1081.16 1050.13 L1083.62 1050.59 L1086.09 1051.05 L1088.55 1051.5 L1091.02 1051.94 L1093.49 1052.38 L1095.96 1052.82 L1098.43 1053.26 L1100.9 1053.69 L1103.37 1054.11 L1105.85 1054.54 L1108.32 1054.95 L1110.8 1055.37 L1113.27 1055.78 L1115.75 1056.18 L1118.23 1056.59 L1120.71 1056.99 L1123.18 1057.38 L1125.66 1057.77 L1128.15 1058.16 L1130.63 1058.54 L1133.11 1058.92 L1135.59 1059.3 L1138.08 1059.67 L1140.56 1060.03 L1143.05 1060.4 L1145.53 1060.76 L1148.02 1061.12 L1150.51 1061.47 L1153 1061.82 L1155.49 1062.16 L1157.98 1062.5 L1160.47 1062.84 L1162.96 1063.17 L1165.45 1063.5 L1167.94 1063.83 L1170.43 1064.15 L1172.93 1064.47 L1175.42 1064.79 L1177.92 1065.1 L1180.41 1065.41 L1182.91 1065.71 L1185.4 1066.02 L1187.9 1066.31 L1190.4 1066.61 L1192.9 1066.9 L1195.39 1067.18 L1197.89 1067.47 L1200.39 1067.75 L1202.89 1068.02 L1205.39 1068.3 L1207.89 1068.57 L1210.4 1068.83 L1212.9 1069.09 L1215.4 1069.35 L1217.9 1069.61 L1220.41 1069.86 L1222.91 1070.11 L1225.41 1070.35 L1227.92 1070.6 L1230.42 1070.83 L1232.93 1071.07 L1235.43 1071.3 L1237.94 1071.53 L1240.44 1071.75 L1242.95 1071.98 L1245.46 1072.19 L1247.96 1072.41 L1250.47 1072.62 L1252.98 1072.83 L1255.48 1073.03 L1257.99 1073.24 L1260.5 1073.44 L1263.01 1073.63 L1265.52 1073.82 L1268.03 1074.01 L1270.53 1074.2 L1273.04 1074.38 L1275.55 1074.56 L1278.06 1074.74 L1280.57 1074.91 L1283.08 1075.08 L1285.59 1075.25 L1288.1 1075.41 L1290.61 1075.57 L1293.12 1075.73 L1295.63 1075.88 L1298.14 1076.04 L1300.65 1076.18 L1303.16 1076.33 L1305.67 1076.47 L1308.18 1076.61 L1310.69 1076.75 L1313.2 1076.88 L1315.71 1077.01 L1318.23 1077.14 L1320.74 1077.26 L1323.25 1077.38 L1325.76 1077.5 L1328.27 1077.62 L1330.78 1077.73 L1333.29 1077.84 L1335.8 1077.95 L1338.31 1078.05 L1340.82 1078.15 L1343.33 1078.25 L1345.84 1078.35 L1348.35 1078.44 L1350.86 1078.53 L1353.36 1078.62 L1355.87 1078.7 L1358.38 1078.78 L1360.89 1078.86 L1363.4 1078.94 L1365.91 1079.01 L1368.42 1079.08 L1370.92 1079.15 L1373.43 1079.22 L1375.94 1079.28 L1378.44 1079.34 L1380.95 1079.4 L1383.46 1079.45 L1385.96 1079.5 L1388.47 1079.55 L1390.98 1079.6 L1393.48 1079.64 L1395.99 1079.68 L1398.49 1079.72 L1400.99 1079.76 L1403.5 1079.79 L1406 1079.82 L1408.5 1079.85 L1411.01 1079.88 L1413.51 1079.9 L1416.01 1079.92 L1418.51 1079.94 L1421.01 1079.96 L1423.51 1079.97 L1426.01 1079.98 L1428.51 1079.99 L1431.01 1080 L1433.51 1080 L1436.01 1080 L1438.5 1080 L1441 1080" fill="none" stroke="#1a1a1a" stroke-width="3.5" stroke-dasharray="12 4 3 4" stroke-linejoin="round"/>
<path d="M201 723.5 L203.55 723.56 L206.1 723.64 L208.64 723.74 L211.17 723.87 L213.7 724.01 L216.22 724.18 L218.74 724.37 L221.25 724.58 L223.76 724.8 L226.27 725.05 L228.77 725.31 L231.26 725.6 L233.75 725.9 L236.24 726.22 L238.72 726.55 L241.2 726.91 L243.67 727.28 L246.14 727.66 L248.61 728.06 L251.07 728.48 L253.53 728.91 L255.98 729.36 L258.43 729.82 L260.88 730.29 L263.33 730.78 L265.77 731.28 L268.21 731.8 L270.65 732.32 L273.08 732.86 L275.52 733.41 L277.95 733.97 L280.37 734.54 L282.8 735.12 L285.22 735.71 L287.64 736.31 L290.06 736.92 L292.48 737.54 L294.89 738.17 L297.31 738.8 L299.72 739.45 L302.13 740.1 L304.54 740.75 L306.95 741.42 L309.36 742.09 L311.77 742.76 L314.17 743.44 L316.58 744.13 L318.98 744.82 L321.39 745.51 L323.79 746.21 L326.2 746.91 L328.6 747.62 L331.01 748.32 L333.41 749.03 L335.81 749.74 L338.22 750.46 L340.63 751.17 L343.03 751.89 L345.44 752.6 L347.84 753.32 L350.25 754.04 L352.66 754.76 L355.06 755.48 L357.47 756.21 L359.88 756.94 L362.28 757.66 L364.69 758.4 L367.09 759.13 L369.5 759.87 L371.9 760.6 L374.31 761.35 L376.71 762.09 L379.12 762.84 L381.52 763.58 L383.92 764.34 L386.32 765.09 L388.72 765.85 L391.12 766.61 L393.52 767.38 L395.92 768.15 L398.32 768.92 L400.71 769.69 L403.1 770.47 L405.5 771.26 L407.89 772.04 L410.28 772.83 L412.67 773.63 L415.05 774.43 L417.44 775.23 L419.82 776.04 L422.2 776.85 L424.59 777.67 L426.96 778.49 L429.34 779.32 L431.71 780.15 L434.09 780.99 L436.46 781.83 L438.82 782.68 L441.19 783.53 L443.55 784.39 L445.92 785.25 L448.27 786.12 L450.63 786.99 L452.98 787.87 L455.34 788.76 L457.68 789.65 L460.03 790.55 L462.37 791.45 L464.71 792.36 L467.05 793.28 L469.38 794.2 L471.72 795.13 L474.04 796.06 L476.37 797.01 L478.69 797.96 L481.01 798.91 L483.32 799.87 L485.63 800.85 L487.94 801.82 L490.25 802.81 L492.55 803.8 L494.85 804.8 L497.14 805.8 L499.43 806.81 L501.72 807.83 L504 808.86 L506.29 809.89 L508.57 810.93 L510.84 811.97 L513.11 813.02 L515.38 814.08 L517.65 815.14 L519.92 816.21 L522.18 817.28 L524.44 818.36 L526.69 819.44 L528.94 820.53 L531.2 821.63 L533.44 822.73 L535.69 823.83 L537.93 824.95 L540.17 826.06 L542.41 827.18 L544.65 828.31 L546.88 829.44 L549.11 830.57 L551.34 831.71 L553.57 832.85 L555.79 834 L558.02 835.15 L560.24 836.31 L562.46 837.47 L564.68 838.63 L566.89 839.8 L569.1 840.97 L571.32 842.15 L573.53 843.33 L575.73 844.51 L577.94 845.7 L580.15 846.89 L582.35 848.08 L584.55 849.27 L586.75 850.47 L588.95 851.67 L591.15 852.88 L593.35 854.08 L595.54 855.29 L597.74 856.5 L599.93 857.72 L602.12 858.93 L604.31 860.15 L606.5 861.37 L608.69 862.59 L610.88 863.82 L613.06 865.04 L615.25 866.27 L617.43 867.5 L619.62 868.73 L621.8 869.96 L623.98 871.2 L626.17 872.43 L628.35 873.67 L630.53 874.91 L632.71 876.15 L634.89 877.39 L637.07 878.63 L639.25 879.87 L641.43 881.11 L643.61 882.35 L645.79 883.59 L647.97 884.83 L650.14 886.08 L652.32 887.32 L654.5 888.56 L656.68 889.8 L658.86 891.05 L661.04 892.29 L663.21 893.53 L665.39 894.77 L667.57 896.01 L669.75 897.25 L671.93 898.49 L674.11 899.73 L676.29 900.97 L678.47 902.21 L680.66 903.44 L682.84 904.68 L685.02 905.91 L687.2 907.14 L689.39 908.37 L691.57 909.6 L693.76 910.83 L695.94 912.05 L698.13 913.27 L700.32 914.5 L702.51 915.71 L704.7 916.93 L706.89 918.15 L709.08 919.36 L711.28 920.57 L713.47 921.78 L715.67 922.98 L717.87 924.18 L720.06 925.38 L722.26 926.58 L724.47 927.77 L726.67 928.96 L728.87 930.15 L731.08 931.33 L733.29 932.51 L735.5 933.69 L737.71 934.86 L739.92 936.04 L742.13 937.2 L744.35 938.37 L746.56 939.53 L748.78 940.69 L751 941.84 L753.23 942.99 L755.45 944.14 L757.68 945.28 L759.9 946.42 L762.13 947.56 L764.36 948.69 L766.6 949.82 L768.83 950.95 L771.07 952.07 L773.31 953.19 L775.55 954.3 L777.79 955.41 L780.04 956.52 L782.28 957.62 L784.53 958.72 L786.78 959.81 L789.04 960.9 L791.29 961.99 L793.55 963.07 L795.81 964.15 L798.07 965.22 L800.33 966.29 L802.6 967.36 L804.87 968.42 L807.14 969.47 L809.41 970.53 L811.69 971.57 L813.96 972.62 L816.24 973.65 L818.53 974.69 L820.81 975.72 L823.1 976.74 L825.39 977.76 L827.68 978.78 L829.98 979.79 L832.27 980.79 L834.57 981.79 L836.88 982.79 L839.18 983.78 L841.49 984.77 L843.8 985.75 L846.11 986.73 L848.43 987.7 L850.75 988.66 L853.07 989.63 L855.39 990.58 L857.72 991.53 L860.04 992.48 L862.37 993.42 L864.7 994.36 L867.04 995.29 L869.37 996.22 L871.71 997.14 L874.05 998.06 L876.39 998.98 L878.74 999.88 L881.08 1000.79 L883.43 1001.69 L885.78 1002.58 L888.13 1003.47 L890.48 1004.36 L892.84 1005.24 L895.19 1006.11 L897.55 1006.98 L899.91 1007.85 L902.27 1008.71 L904.63 1009.57 L906.99 1010.42 L909.36 1011.27 L911.72 1012.11 L914.09 1012.95 L916.45 1013.79 L918.82 1014.62 L921.19 1015.44 L923.56 1016.26 L925.93 1017.08 L928.3 1017.89 L930.68 1018.69 L933.05 1019.49 L935.43 1020.29 L937.8 1021.08 L940.18 1021.86 L942.56 1022.64 L944.94 1023.41 L947.32 1024.17 L949.71 1024.93 L952.09 1025.68 L954.48 1026.43 L956.87 1027.17 L959.26 1027.9 L961.65 1028.62 L964.05 1029.34 L966.44 1030.05 L968.84 1030.75 L971.24 1031.45 L973.64 1032.13 L976.05 1032.81 L978.45 1033.49 L980.86 1034.15 L983.27 1034.81 L985.68 1035.46 L988.09 1036.11 L990.5 1036.74 L992.92 1037.37 L995.34 1038 L997.76 1038.61 L1000.18 1039.22 L1002.6 1039.83 L1005.02 1040.42 L1007.45 1041.01 L1009.88 1041.6 L1012.3 1042.17 L1014.73 1042.74 L1017.17 1043.31 L1019.6 1043.86 L1022.03 1044.41 L1024.47 1044.96 L1026.91 1045.5 L1029.35 1046.03 L1031.79 1046.55 L1034.23 1047.07 L1036.67 1047.59 L1039.12 1048.09 L1041.57 1048.59 L1044.01 1049.09 L1046.46 1049.58 L1048.91 1050.06 L1051.36 1050.54 L1053.82 1051.01 L1056.27 1051.48 L1058.73 1051.94 L1061.19 1052.39 L1063.64 1052.84 L1066.1 1053.28 L1068.56 1053.72 L1071.03 1054.15 L1073.49 1054.58 L1075.95 1055 L1078.42 1055.42 L1080.89 1055.83 L1083.35 1056.23 L1085.82 1056.63 L1088.29 1057.03 L1090.77 1057.42 L1093.24 1057.8 L1095.71 1058.18 L1098.19 1058.56 L1100.66 1058.93 L1103.14 1059.29 L1105.62 1059.65 L1108.1 1060.01 L1110.58 1060.36 L1113.06 1060.7 L1115.54 1061.05 L1118.02 1061.38 L1120.5 1061.71 L1122.99 1062.04 L1125.47 1062.37 L1127.96 1062.68 L1130.45 1063 L1132.94 1063.31 L1135.43 1063.61 L1137.92 1063.92 L1140.41 1064.21 L1142.9 1064.51 L1145.39 1064.8 L1147.88 1065.08 L1150.38 1065.36 L1152.87 1065.64 L1155.37 1065.91 L1157.86 1066.18 L1160.36 1066.45 L1162.86 1066.71 L1165.35 1066.97 L1167.85 1067.22 L1170.35 1067.47 L1172.85 1067.72 L1175.35 1067.96 L1177.85 1068.2 L1180.36 1068.44 L1182.86 1068.67 L1185.36 1068.9 L1187.87 1069.13 L1190.37 1069.35 L1192.87 1069.57 L1195.38 1069.79 L1197.89 1070 L1200.39 1070.21 L1202.9 1070.42 L1205.41 1070.62 L1207.91 1070.82 L1210.42 1071.02 L1212.93 1071.22 L1215.44 1071.41 L1217.95 1071.6 L1220.46 1071.79 L1222.97 1071.97 L1225.48 1072.15 L1227.99 1072.33 L1230.5 1072.51 L1233.01 1072.68 L1235.52 1072.86 L1238.03 1073.03 L1240.54 1073.19 L1243.05 1073.36 L1245.57 1073.52 L1248.08 1073.68 L1250.59 1073.84 L1253.1 1074 L1255.62 1074.15 L1258.13 1074.3 L1260.64 1074.45 L1263.16 1074.6 L1265.67 1074.75 L1268.18 1074.89 L1270.7 1075.03 L1273.21 1075.17 L1275.73 1075.31 L1278.24 1075.45 L1280.75 1075.58 L1283.27 1075.72 L1285.78 1075.85 L1288.29 1075.98 L1290.81 1076.11 L1293.32 1076.24 L1295.83 1076.37 L1298.35 1076.49 L1300.86 1076.62 L1303.37 1076.74 L1305.89 1076.86 L1308.4 1076.98 L1310.91 1077.1 L1313.43 1077.22 L1315.94 1077.34 L1318.45 1077.46 L1320.96 1077.57 L1323.47 1077.69 L1325.99 1077.8 L1328.5 1077.92 L1331.01 1078.03 L1333.52 1078.14 L1336.03 1078.25 L1338.54 1078.36 L1341.05 1078.47 L1343.56 1078.58 L1346.07 1078.69 L1348.58 1078.8 L1351.08 1078.91 L1353.59 1079.02 L1356.1 1079.13 L1358.61 1079.24 L1361.11 1079.35 L1363.62 1079.45 L1366.13 1079.56 L1368.63 1079.67 L1371.14 1079.78 L1373.64 1079.89 L1376.14 1079.99 L1378.65 1080.1 L1381.15 1080.21 L1383.65 1080.32 L1386.15 1080.43 L1388.65 1080.54 L1391.15 1080.65 L1393.65 1080.76 L1396.15 1080.87 L1398.65 1080.98 L1401.15 1081.09 L1403.64 1081.21 L1406.14 1081.32 L1408.63 1081.43 L1411.13 1081.55 L1413.62 1081.66 L1416.12 1081.78 L1418.61 1081.9 L1421.1 1082.01 L1423.59 1082.13 L1426.08 1082.25 L1428.57 1082.38 L1431.06 1082.5 L1433.54 1082.62 L1436.03 1082.75 L1438.52 1082.87 L1441 1083" fill="none" stroke="#3a3a3a" stroke-width="3.8" stroke-dasharray="3.2 7.5" stroke-linejoin="round"/>
<path d="M201 750.8 L203.58 750.91 L206.16 751.03 L208.73 751.16 L211.3 751.3 L213.86 751.45 L216.42 751.62 L218.98 751.8 L221.54 751.99 L224.09 752.19 L226.64 752.41 L229.18 752.64 L231.72 752.87 L234.26 753.13 L236.79 753.39 L239.32 753.66 L241.85 753.95 L244.37 754.24 L246.89 754.55 L249.4 754.87 L251.91 755.2 L254.42 755.55 L256.93 755.9 L259.43 756.27 L261.93 756.64 L264.42 757.03 L266.91 757.43 L269.4 757.84 L271.88 758.26 L274.36 758.69 L276.84 759.13 L279.31 759.59 L281.78 760.05 L284.25 760.52 L286.71 761.01 L289.17 761.5 L291.63 762.01 L294.08 762.53 L296.53 763.05 L298.98 763.59 L301.42 764.14 L303.86 764.7 L306.3 765.26 L308.73 765.84 L311.16 766.43 L313.58 767.03 L316.01 767.64 L318.43 768.25 L320.84 768.88 L323.25 769.52 L325.66 770.17 L328.07 770.82 L330.47 771.49 L332.87 772.17 L335.27 772.85 L337.66 773.55 L340.05 774.25 L342.44 774.96 L344.82 775.69 L347.2 776.42 L349.58 777.16 L351.95 777.91 L354.32 778.67 L356.69 779.44 L359.05 780.22 L361.41 781 L363.77 781.8 L366.12 782.6 L368.47 783.42 L370.82 784.24 L373.17 785.07 L375.51 785.91 L377.85 786.75 L380.18 787.61 L382.51 788.47 L384.84 789.35 L387.17 790.23 L389.49 791.12 L391.81 792.01 L394.13 792.92 L396.44 793.83 L398.75 794.75 L401.06 795.68 L403.36 796.62 L405.66 797.56 L407.96 798.52 L410.25 799.48 L412.55 800.45 L414.84 801.42 L417.12 802.41 L419.4 803.4 L421.68 804.39 L423.96 805.4 L426.23 806.41 L428.51 807.43 L430.77 808.46 L433.04 809.5 L435.3 810.54 L437.56 811.59 L439.81 812.64 L442.07 813.71 L444.32 814.78 L446.56 815.85 L448.81 816.94 L451.05 818.03 L453.29 819.13 L455.52 820.23 L457.76 821.34 L459.99 822.46 L462.21 823.58 L464.44 824.71 L466.66 825.84 L468.88 826.99 L471.09 828.14 L473.3 829.29 L475.51 830.45 L477.72 831.62 L479.93 832.79 L482.13 833.97 L484.33 835.15 L486.52 836.34 L488.72 837.54 L490.91 838.74 L493.1 839.94 L495.29 841.15 L497.47 842.37 L499.66 843.59 L501.84 844.81 L504.01 846.04 L506.19 847.28 L508.37 848.51 L510.54 849.76 L512.71 851 L514.88 852.25 L517.05 853.51 L519.21 854.77 L521.38 856.03 L523.54 857.3 L525.7 858.57 L527.86 859.84 L530.02 861.12 L532.18 862.4 L534.33 863.68 L536.48 864.97 L538.64 866.26 L540.79 867.55 L542.94 868.84 L545.09 870.14 L547.24 871.44 L549.39 872.74 L551.53 874.05 L553.68 875.35 L555.82 876.66 L557.97 877.97 L560.11 879.28 L562.25 880.6 L564.4 881.91 L566.54 883.23 L568.68 884.55 L570.82 885.87 L572.96 887.19 L575.1 888.51 L577.24 889.84 L579.38 891.16 L581.52 892.49 L583.66 893.81 L585.8 895.14 L587.94 896.46 L590.08 897.79 L592.22 899.12 L594.36 900.45 L596.5 901.77 L598.64 903.1 L600.78 904.43 L602.92 905.76 L605.06 907.08 L607.2 908.41 L609.34 909.73 L611.48 911.06 L613.63 912.38 L615.77 913.7 L617.92 915.03 L620.06 916.35 L622.21 917.66 L624.35 918.98 L626.5 920.3 L628.65 921.61 L630.8 922.93 L632.95 924.24 L635.1 925.55 L637.26 926.86 L639.41 928.16 L641.57 929.46 L643.73 930.76 L645.88 932.06 L648.05 933.36 L650.21 934.65 L652.37 935.94 L654.53 937.23 L656.7 938.51 L658.87 939.8 L661.04 941.08 L663.21 942.35 L665.38 943.63 L667.55 944.9 L669.73 946.16 L671.91 947.43 L674.08 948.69 L676.26 949.95 L678.45 951.2 L680.63 952.45 L682.81 953.7 L685 954.94 L687.19 956.18 L689.38 957.42 L691.57 958.65 L693.76 959.88 L695.96 961.11 L698.15 962.33 L700.35 963.55 L702.55 964.76 L704.75 965.97 L706.96 967.18 L709.16 968.38 L711.37 969.58 L713.58 970.77 L715.79 971.96 L718 973.15 L720.22 974.33 L722.43 975.51 L724.65 976.68 L726.87 977.84 L729.09 979.01 L731.32 980.16 L733.54 981.32 L735.77 982.47 L738 983.61 L740.23 984.75 L742.46 985.88 L744.7 987.01 L746.93 988.13 L749.17 989.25 L751.41 990.36 L753.66 991.47 L755.9 992.58 L758.15 993.67 L760.4 994.76 L762.65 995.85 L764.9 996.93 L767.16 998.01 L769.42 999.08 L771.68 1000.14 L773.94 1001.2 L776.2 1002.25 L778.47 1003.3 L780.73 1004.34 L783 1005.37 L785.28 1006.4 L787.55 1007.42 L789.83 1008.44 L792.11 1009.45 L794.39 1010.45 L796.67 1011.45 L798.96 1012.44 L801.24 1013.43 L803.53 1014.41 L805.83 1015.38 L808.12 1016.34 L810.42 1017.3 L812.72 1018.25 L815.02 1019.2 L817.32 1020.14 L819.63 1021.07 L821.94 1021.99 L824.25 1022.91 L826.56 1023.82 L828.87 1024.72 L831.19 1025.62 L833.51 1026.51 L835.84 1027.39 L838.16 1028.27 L840.49 1029.13 L842.82 1029.99 L845.15 1030.84 L847.49 1031.69 L849.82 1032.53 L852.16 1033.35 L854.5 1034.18 L856.85 1034.99 L859.2 1035.8 L861.55 1036.59 L863.9 1037.38 L866.26 1038.16 L868.61 1038.94 L870.97 1039.7 L873.34 1040.46 L875.7 1041.21 L878.07 1041.95 L880.44 1042.68 L882.81 1043.41 L885.19 1044.12 L887.57 1044.83 L889.95 1045.53 L892.33 1046.22 L894.72 1046.9 L897.11 1047.58 L899.5 1048.24 L901.9 1048.9 L904.29 1049.55 L906.69 1050.19 L909.09 1050.82 L911.5 1051.45 L913.91 1052.07 L916.31 1052.68 L918.73 1053.28 L921.14 1053.87 L923.56 1054.46 L925.97 1055.04 L928.4 1055.61 L930.82 1056.17 L933.24 1056.73 L935.67 1057.27 L938.1 1057.82 L940.53 1058.35 L942.97 1058.88 L945.4 1059.39 L947.84 1059.91 L950.28 1060.41 L952.72 1060.91 L955.17 1061.4 L957.61 1061.88 L960.06 1062.36 L962.51 1062.83 L964.97 1063.29 L967.42 1063.75 L969.88 1064.2 L972.34 1064.64 L974.8 1065.08 L977.26 1065.51 L979.72 1065.93 L982.19 1066.35 L984.65 1066.76 L987.12 1067.16 L989.59 1067.56 L992.07 1067.95 L994.54 1068.34 L997.02 1068.71 L999.5 1069.09 L1001.97 1069.45 L1004.46 1069.82 L1006.94 1070.17 L1009.42 1070.52 L1011.91 1070.86 L1014.39 1071.2 L1016.88 1071.53 L1019.37 1071.86 L1021.87 1072.18 L1024.36 1072.49 L1026.85 1072.8 L1029.35 1073.11 L1031.85 1073.41 L1034.34 1073.7 L1036.84 1073.99 L1039.35 1074.27 L1041.85 1074.55 L1044.35 1074.82 L1046.86 1075.09 L1049.36 1075.35 L1051.87 1075.61 L1054.38 1075.86 L1056.89 1076.11 L1059.4 1076.35 L1061.91 1076.59 L1064.42 1076.82 L1066.94 1077.05 L1069.45 1077.28 L1071.97 1077.49 L1074.49 1077.71 L1077 1077.92 L1079.52 1078.13 L1082.04 1078.33 L1084.56 1078.53 L1087.09 1078.72 L1089.61 1078.91 L1092.13 1079.09 L1094.66 1079.27 L1097.18 1079.45 L1099.71 1079.62 L1102.23 1079.79 L1104.76 1079.96 L1107.29 1080.12 L1109.82 1080.27 L1112.35 1080.43 L1114.88 1080.58 L1117.41 1080.72 L1119.94 1080.87 L1122.47 1081.01 L1125 1081.14 L1127.53 1081.27 L1130.07 1081.4 L1132.6 1081.53 L1135.14 1081.65 L1137.67 1081.77 L1140.21 1081.89 L1142.74 1082 L1145.28 1082.11 L1147.81 1082.22 L1150.35 1082.32 L1152.89 1082.42 L1155.43 1082.52 L1157.96 1082.62 L1160.5 1082.71 L1163.04 1082.8 L1165.58 1082.89 L1168.12 1082.97 L1170.65 1083.05 L1173.19 1083.13 L1175.73 1083.21 L1178.27 1083.29 L1180.81 1083.36 L1183.35 1083.43 L1185.89 1083.5 L1188.43 1083.57 L1190.97 1083.63 L1193.5 1083.69 L1196.04 1083.75 L1198.58 1083.81 L1201.12 1083.87 L1203.66 1083.92 L1206.2 1083.97 L1208.74 1084.03 L1211.27 1084.07 L1213.81 1084.12 L1216.35 1084.17 L1218.89 1084.21 L1221.42 1084.26 L1223.96 1084.3 L1226.5 1084.34 L1229.03 1084.38 L1231.57 1084.42 L1234.1 1084.45 L1236.64 1084.49 L1239.17 1084.52 L1241.71 1084.56 L1244.24 1084.59 L1246.78 1084.62 L1249.31 1084.65 L1251.84 1084.68 L1254.37 1084.71 L1256.9 1084.74 L1259.43 1084.76 L1261.96 1084.79 L1264.49 1084.82 L1267.02 1084.84 L1269.55 1084.87 L1272.07 1084.89 L1274.6 1084.92 L1277.12 1084.94 L1279.65 1084.97 L1282.17 1084.99 L1284.7 1085.02 L1287.22 1085.04 L1289.74 1085.06 L1292.26 1085.09 L1294.78 1085.11 L1297.3 1085.13 L1299.81 1085.16 L1302.33 1085.18 L1304.85 1085.21 L1307.36 1085.23 L1309.87 1085.26 L1312.39 1085.28 L1314.9 1085.31 L1317.41 1085.33 L1319.92 1085.36 L1322.42 1085.39 L1324.93 1085.42 L1327.44 1085.45 L1329.94 1085.48 L1332.44 1085.51 L1334.95 1085.54 L1337.45 1085.57 L1339.94 1085.61 L1342.44 1085.64 L1344.94 1085.68 L1347.43 1085.71 L1349.93 1085.75 L1352.42 1085.79 L1354.91 1085.83 L1357.4 1085.87 L1359.89 1085.92 L1362.37 1085.96 L1364.86 1086.01 L1367.34 1086.06 L1369.82 1086.11 L1372.3 1086.16 L1374.78 1086.21 L1377.26 1086.27 L1379.73 1086.32 L1382.21 1086.38 L1384.68 1086.44 L1387.15 1086.51 L1389.61 1086.57 L1392.08 1086.64 L1394.55 1086.71 L1397.01 1086.78 L1399.47 1086.85 L1401.93 1086.93 L1404.39 1087.01 L1406.84 1087.09 L1409.29 1087.17 L1411.74 1087.26 L1414.19 1087.34 L1416.64 1087.43 L1419.09 1087.53 L1421.53 1087.62 L1423.97 1087.72 L1426.41 1087.83 L1428.85 1087.93 L1431.28 1088.04 L1433.71 1088.15 L1436.15 1088.26 L1438.57 1088.38 L1441 1088.5" fill="none" stroke="#1a1a1a" stroke-width="3.7" stroke-dasharray="10.5 8" stroke-linejoin="round"/>
<path d="M210.3 842.1 L212.37 843.46 L214.44 844.82 L216.5 846.19 L218.57 847.56 L220.64 848.93 L222.71 850.3 L224.78 851.67 L226.85 853.05 L228.92 854.43 L230.99 855.81 L233.06 857.19 L235.13 858.57 L237.21 859.96 L239.28 861.35 L241.35 862.74 L243.43 864.13 L245.5 865.52 L247.58 866.91 L249.65 868.3 L251.73 869.69 L253.81 871.09 L255.88 872.49 L257.96 873.88 L260.04 875.28 L262.12 876.68 L264.2 878.07 L266.29 879.47 L268.37 880.87 L270.45 882.27 L272.54 883.67 L274.63 885.06 L276.71 886.46 L278.8 887.86 L280.89 889.26 L282.98 890.65 L285.07 892.05 L287.17 893.44 L289.26 894.84 L291.36 896.23 L293.45 897.63 L295.55 899.02 L297.65 900.41 L299.75 901.8 L301.85 903.19 L303.96 904.57 L306.06 905.96 L308.17 907.34 L310.27 908.72 L312.38 910.1 L314.49 911.48 L316.61 912.86 L318.72 914.23 L320.84 915.61 L322.95 916.98 L325.07 918.34 L327.19 919.71 L329.31 921.07 L331.44 922.43 L333.56 923.79 L335.69 925.14 L337.82 926.49 L339.95 927.84 L342.08 929.19 L344.22 930.53 L346.35 931.87 L348.49 933.21 L350.63 934.54 L352.77 935.87 L354.92 937.19 L357.07 938.51 L359.21 939.83 L361.36 941.14 L363.52 942.45 L365.67 943.76 L367.83 945.06 L369.99 946.36 L372.15 947.65 L374.31 948.94 L376.48 950.22 L378.65 951.5 L380.82 952.77 L382.99 954.04 L385.17 955.3 L387.35 956.56 L389.53 957.82 L391.71 959.07 L393.9 960.31 L396.08 961.55 L398.27 962.78 L400.47 964 L402.66 965.23 L404.86 966.44 L407.06 967.65 L409.26 968.85 L411.47 970.05 L413.68 971.24 L415.89 972.43 L418.11 973.6 L420.32 974.78 L422.54 975.94 L424.77 977.1 L426.99 978.25 L429.22 979.4 L431.45 980.53 L433.69 981.67 L435.93 982.79 L438.17 983.91 L440.41 985.02 L442.66 986.12 L444.91 987.21 L447.16 988.3 L449.42 989.38 L451.68 990.45 L453.94 991.51 L456.21 992.57 L458.48 993.62 L460.75 994.66 L463.03 995.69 L465.31 996.71 L467.59 997.72 L469.87 998.73 L472.16 999.73 L474.46 1000.72 L476.75 1001.7 L479.05 1002.67 L481.35 1003.63 L483.66 1004.59 L485.97 1005.54 L488.28 1006.48 L490.6 1007.41 L492.91 1008.33 L495.24 1009.25 L497.56 1010.16 L499.89 1011.06 L502.22 1011.95 L504.55 1012.83 L506.89 1013.71 L509.23 1014.58 L511.57 1015.44 L513.91 1016.29 L516.26 1017.14 L518.61 1017.98 L520.97 1018.81 L523.32 1019.63 L525.68 1020.45 L528.04 1021.26 L530.41 1022.06 L532.77 1022.85 L535.14 1023.64 L537.51 1024.42 L539.89 1025.19 L542.26 1025.96 L544.64 1026.72 L547.02 1027.47 L549.41 1028.21 L551.79 1028.95 L554.18 1029.68 L556.57 1030.41 L558.96 1031.12 L561.36 1031.83 L563.76 1032.54 L566.16 1033.24 L568.56 1033.93 L570.96 1034.61 L573.37 1035.29 L575.78 1035.96 L578.19 1036.63 L580.6 1037.28 L583.01 1037.94 L585.43 1038.58 L587.84 1039.22 L590.26 1039.86 L592.69 1040.49 L595.11 1041.11 L597.53 1041.72 L599.96 1042.33 L602.39 1042.94 L604.82 1043.54 L607.25 1044.13 L609.69 1044.71 L612.12 1045.3 L614.56 1045.87 L617 1046.44 L619.44 1047 L621.88 1047.56 L624.32 1048.12 L626.76 1048.66 L629.21 1049.2 L631.66 1049.74 L634.1 1050.27 L636.55 1050.8 L639 1051.32 L641.46 1051.84 L643.91 1052.35 L646.36 1052.85 L648.82 1053.35 L651.28 1053.85 L653.74 1054.34 L656.19 1054.82 L658.65 1055.3 L661.12 1055.78 L663.58 1056.25 L666.04 1056.72 L668.5 1057.18 L670.97 1057.64 L673.44 1058.09 L675.9 1058.54 L678.37 1058.98 L680.84 1059.42 L683.31 1059.85 L685.78 1060.28 L688.25 1060.71 L690.72 1061.13 L693.19 1061.55 L695.66 1061.96 L698.13 1062.37 L700.61 1062.78 L703.08 1063.18 L705.56 1063.57 L708.03 1063.97 L710.51 1064.36 L712.98 1064.74 L715.46 1065.12 L717.93 1065.5 L720.41 1065.87 L722.89 1066.24 L725.37 1066.61 L727.84 1066.97 L730.32 1067.33 L732.8 1067.69 L735.28 1068.04 L737.76 1068.39 L740.24 1068.73 L742.72 1069.07 L745.2 1069.41 L747.68 1069.74 L750.17 1070.07 L752.65 1070.4 L755.13 1070.72 L757.61 1071.04 L760.1 1071.35 L762.58 1071.66 L765.07 1071.97 L767.55 1072.28 L770.04 1072.58 L772.52 1072.88 L775.01 1073.17 L777.49 1073.46 L779.98 1073.75 L782.47 1074.04 L784.95 1074.32 L787.44 1074.59 L789.93 1074.87 L792.42 1075.14 L794.9 1075.41 L797.39 1075.67 L799.88 1075.94 L802.37 1076.2 L804.86 1076.45 L807.35 1076.7 L809.84 1076.95 L812.33 1077.2 L814.82 1077.44 L817.32 1077.68 L819.81 1077.92 L822.3 1078.15 L824.79 1078.38 L827.28 1078.61 L829.78 1078.84 L832.27 1079.06 L834.76 1079.28 L837.26 1079.5 L839.75 1079.71 L842.25 1079.92 L844.74 1080.13 L847.24 1080.33 L849.73 1080.53 L852.23 1080.73 L854.72 1080.93 L857.22 1081.12 L859.72 1081.32 L862.21 1081.5 L864.71 1081.69 L867.21 1081.87 L869.71 1082.05 L872.2 1082.23 L874.7 1082.41 L877.2 1082.58 L879.7 1082.75 L882.2 1082.92 L884.7 1083.08 L887.2 1083.25 L889.7 1083.41 L892.2 1083.56 L894.7 1083.72 L897.2 1083.87 L899.7 1084.02 L902.2 1084.17 L904.7 1084.32 L907.2 1084.46 L909.7 1084.6 L912.21 1084.74 L914.71 1084.88 L917.21 1085.01 L919.71 1085.14 L922.22 1085.27 L924.72 1085.4 L927.22 1085.52 L929.72 1085.65 L932.23 1085.77 L934.73 1085.89 L937.24 1086 L939.74 1086.12 L942.24 1086.23 L944.75 1086.34 L947.25 1086.45 L949.76 1086.56 L952.26 1086.66 L954.77 1086.77 L957.27 1086.87 L959.78 1086.96 L962.29 1087.06 L964.79 1087.16 L967.3 1087.25 L969.8 1087.34 L972.31 1087.43 L974.82 1087.52 L977.32 1087.6 L979.83 1087.69 L982.34 1087.77 L984.85 1087.85 L987.35 1087.93 L989.86 1088.01 L992.37 1088.08 L994.88 1088.16 L997.38 1088.23 L999.89 1088.3 L1002.4 1088.37 L1004.91 1088.44 L1007.42 1088.5 L1009.92 1088.57 L1012.43 1088.63 L1014.94 1088.69 L1017.45 1088.75 L1019.96 1088.81 L1022.47 1088.87 L1024.98 1088.92 L1027.49 1088.98 L1030 1089.03 L1032.51 1089.08 L1035.02 1089.13 L1037.53 1089.18 L1040.04 1089.23 L1042.55 1089.28 L1045.06 1089.32 L1047.57 1089.36 L1050.08 1089.41 L1052.59 1089.45 L1055.1 1089.49 L1057.61 1089.53 L1060.12 1089.57 L1062.63 1089.6 L1065.14 1089.64 L1067.65 1089.67 L1070.16 1089.71 L1072.67 1089.74 L1075.18 1089.77 L1077.69 1089.8 L1080.2 1089.83 L1082.72 1089.86 L1085.23 1089.89 L1087.74 1089.92 L1090.25 1089.94 L1092.76 1089.97 L1095.27 1089.99 L1097.78 1090.01 L1100.29 1090.04 L1102.81 1090.06 L1105.32 1090.08 L1107.83 1090.1 L1110.34 1090.12 L1112.85 1090.14 L1115.36 1090.16 L1117.87 1090.17 L1120.39 1090.19 L1122.9 1090.21 L1125.41 1090.22 L1127.92 1090.24 L1130.43 1090.25 L1132.94 1090.27 L1135.45 1090.28 L1137.97 1090.29 L1140.48 1090.3 L1142.99 1090.32 L1145.5 1090.33 L1148.01 1090.34 L1150.52 1090.35 L1153.03 1090.36 L1155.55 1090.37 L1158.06 1090.38 L1160.57 1090.39 L1163.08 1090.4 L1165.59 1090.4 L1168.1 1090.41 L1170.61 1090.42 L1173.12 1090.43 L1175.63 1090.44 L1178.15 1090.44 L1180.66 1090.45 L1183.17 1090.46 L1185.68 1090.46 L1188.19 1090.47 L1190.7 1090.48 L1193.21 1090.48 L1195.72 1090.49 L1198.23 1090.5 L1200.74 1090.5 L1203.25 1090.51 L1205.76 1090.51 L1208.27 1090.52 L1210.78 1090.53 L1213.29 1090.53 L1215.8 1090.54 L1218.31 1090.55 L1220.82 1090.55 L1223.33 1090.56 L1225.84 1090.57 L1228.35 1090.57 L1230.86 1090.58 L1233.37 1090.59 L1235.88 1090.6 L1238.39 1090.61 L1240.89 1090.61 L1243.4 1090.62 L1245.91 1090.63 L1248.42 1090.64 L1250.93 1090.65 L1253.44 1090.66 L1255.95 1090.67 L1258.45 1090.68 L1260.96 1090.7 L1263.47 1090.71 L1265.98 1090.72 L1268.48 1090.73 L1270.99 1090.75 L1273.5 1090.76 L1276.01 1090.78 L1278.51 1090.79 L1281.02 1090.81 L1283.53 1090.82 L1286.03 1090.84 L1288.54 1090.86 L1291.04 1090.88 L1293.55 1090.9 L1296.06 1090.92 L1298.56 1090.94 L1301.07 1090.96 L1303.57 1090.98 L1306.08 1091 L1308.58 1091.03 L1311.09 1091.05 L1313.59 1091.08 L1316.09 1091.11 L1318.6 1091.13 L1321.1 1091.16 L1323.61 1091.19 L1326.11 1091.22 L1328.61 1091.25 L1331.11 1091.28 L1333.62 1091.32 L1336.12 1091.35 L1338.62 1091.39 L1341.12 1091.42 L1343.63 1091.46 L1346.13 1091.5 L1348.63 1091.54 L1351.13 1091.58 L1353.63 1091.62 L1356.13 1091.67 L1358.63 1091.71 L1361.13 1091.76 L1363.63 1091.8 L1366.13 1091.85 L1368.63 1091.9 L1371.13 1091.95 L1373.63 1092.01 L1376.13 1092.06 L1378.63 1092.12 L1381.13 1092.17 L1383.62 1092.23 L1386.12 1092.29 L1388.62 1092.35 L1391.12 1092.41 L1393.61 1092.48 L1396.11 1092.54 L1398.61 1092.61 L1401.1 1092.68 L1403.6 1092.75 L1406.09 1092.82 L1408.59 1092.89 L1411.08 1092.97 L1413.58 1093.04 L1416.07 1093.12 L1418.57 1093.2 L1421.06 1093.28 L1423.55 1093.37 L1426.05 1093.45 L1428.54 1093.54 L1431.03 1093.63 L1433.53 1093.72 L1436.02 1093.81 L1438.51 1093.91 L1441 1094" fill="none" stroke="#1a1a1a" stroke-width="3.5" stroke-linejoin="round"/>
<line x1="353.5" y1="669.4" x2="573.7" y2="669.4" stroke="#111" stroke-width="3.5" stroke-linecap="butt"/>
<line x1="353.5" y1="668" x2="353.5" y2="700" stroke="#111" stroke-width="3" stroke-linecap="butt"/>
<polygon points="353.5,714 358.5,697 348.5,697" fill="#000"/>
<line x1="353.5" y1="712" x2="353.5" y2="724" stroke="#222" stroke-width="2" stroke-linecap="butt"/>
<line x1="482" y1="744" x2="702.8" y2="744" stroke="#111" stroke-width="3.5" stroke-linecap="butt"/>
<line x1="482" y1="742.5" x2="482" y2="775" stroke="#111" stroke-width="3" stroke-linecap="butt"/>
<polygon points="482,788 487,771 477,771" fill="#000"/>
<line x1="647.5" y1="854.3" x2="863.3" y2="854.3" stroke="#555" stroke-width="4" stroke-linecap="butt"/>
<line x1="647.5" y1="852.5" x2="647.5" y2="906" stroke="#111" stroke-width="3" stroke-linecap="butt"/>
<polygon points="647.5,922 653,905 642,905" fill="#000"/>
<line x1="707" y1="1008.6" x2="1038" y2="1008.6" stroke="#111" stroke-width="3.5" stroke-linecap="butt"/>
<line x1="707" y1="1007" x2="707" y2="1046" stroke="#111" stroke-width="3" stroke-linecap="butt"/>
<polygon points="707,1062 712,1045 702,1045" fill="#000"/>
<text transform="matrix(55.34 0 0 58.07 586.63 690.4)" font-size="1" fill="#000">(d)</text>
<text transform="matrix(53.87 0 0 54.55 712.01 760.95)" font-size="1" fill="#000">(c)</text>
<text transform="matrix(54.75 0 0 56.04 869.66 868.03)" font-size="1" fill="#000">(b)</text>
<text transform="matrix(53.96 0 0 55.08 1046.8 1016.93)" font-size="1" fill="#000">(a)</text>
<text transform="matrix(53.07 0 0 54.87 1351.65 932.48)" font-size="1" fill="#000">(ii)</text>
<line x1="200.6" y1="1226.8" x2="1443" y2="1226.8" stroke="#bdbdbd" stroke-width="3" stroke-linecap="butt"/>
<line x1="1443" y1="1226.8" x2="1443" y2="1682.3" stroke="#bdbdbd" stroke-width="2.5" stroke-linecap="butt"/>
<line x1="200.6" y1="1224.8" x2="200.6" y2="1684.3" stroke="#000" stroke-width="5" stroke-linecap="butt"/>
<line x1="198.6" y1="1682.3" x2="1444" y2="1682.3" stroke="#111" stroke-width="4.6" stroke-linecap="butt"/>
<line x1="202.6" y1="1599.56" x2="226.6" y2="1599.56" stroke="#000" stroke-width="4.6" stroke-linecap="butt"/>
<line x1="202.6" y1="1516.82" x2="226.6" y2="1516.82" stroke="#000" stroke-width="4.6" stroke-linecap="butt"/>
<line x1="202.6" y1="1434.08" x2="226.6" y2="1434.08" stroke="#000" stroke-width="4.6" stroke-linecap="butt"/>
<line x1="202.6" y1="1351.34" x2="226.6" y2="1351.34" stroke="#000" stroke-width="4.6" stroke-linecap="butt"/>
<line x1="202.6" y1="1268.6" x2="226.6" y2="1268.6" stroke="#000" stroke-width="4.6" stroke-linecap="butt"/>
<line x1="202.6" y1="1640.93" x2="215.6" y2="1640.93" stroke="#000" stroke-width="4.6" stroke-linecap="butt"/>
<line x1="202.6" y1="1558.19" x2="215.6" y2="1558.19" stroke="#000" stroke-width="4.6" stroke-linecap="butt"/>
<line x1="202.6" y1="1475.45" x2="215.6" y2="1475.45" stroke="#000" stroke-width="4.6" stroke-linecap="butt"/>
<line x1="202.6" y1="1392.71" x2="215.6" y2="1392.71" stroke="#000" stroke-width="4.6" stroke-linecap="butt"/>
<line x1="202.6" y1="1309.97" x2="215.6" y2="1309.97" stroke="#000" stroke-width="4.6" stroke-linecap="butt"/>
<line x1="202.6" y1="1227.23" x2="215.6" y2="1227.23" stroke="#000" stroke-width="4.6" stroke-linecap="butt"/>
<line x1="355.7" y1="1681.3" x2="355.7" y2="1657.3" stroke="#000" stroke-width="4.4" stroke-linecap="butt"/>
<line x1="510.9" y1="1681.3" x2="510.9" y2="1657.3" stroke="#000" stroke-width="4.4" stroke-linecap="butt"/>
<line x1="666.1" y1="1681.3" x2="666.1" y2="1657.3" stroke="#000" stroke-width="4.4" stroke-linecap="butt"/>
<line x1="821.3" y1="1681.3" x2="821.3" y2="1657.3" stroke="#000" stroke-width="4.4" stroke-linecap="butt"/>
<line x1="976.5" y1="1681.3" x2="976.5" y2="1657.3" stroke="#000" stroke-width="4.4" stroke-linecap="butt"/>
<line x1="1131.7" y1="1681.3" x2="1131.7" y2="1657.3" stroke="#000" stroke-width="4.4" stroke-linecap="butt"/>
<line x1="1286.9" y1="1681.3" x2="1286.9" y2="1657.3" stroke="#000" stroke-width="4.4" stroke-linecap="butt"/>
<line x1="1442.1" y1="1681.3" x2="1442.1" y2="1657.3" stroke="#000" stroke-width="4.4" stroke-linecap="butt"/>
<line x1="278.1" y1="1681.3" x2="278.1" y2="1669.3" stroke="#000" stroke-width="4.4" stroke-linecap="butt"/>
<line x1="433.3" y1="1681.3" x2="433.3" y2="1669.3" stroke="#000" stroke-width="4.4" stroke-linecap="butt"/>
<line x1="588.5" y1="1681.3" x2="588.5" y2="1669.3" stroke="#000" stroke-width="4.4" stroke-linecap="butt"/>
<line x1="743.7" y1="1681.3" x2="743.7" y2="1669.3" stroke="#000" stroke-width="4.4" stroke-linecap="butt"/>
<line x1="898.9" y1="1681.3" x2="898.9" y2="1669.3" stroke="#000" stroke-width="4.4" stroke-linecap="butt"/>
<line x1="1054.1" y1="1681.3" x2="1054.1" y2="1669.3" stroke="#000" stroke-width="4.4" stroke-linecap="butt"/>
<line x1="1209.3" y1="1681.3" x2="1209.3" y2="1669.3" stroke="#000" stroke-width="4.4" stroke-linecap="butt"/>
<line x1="1364.5" y1="1681.3" x2="1364.5" y2="1669.3" stroke="#000" stroke-width="4.4" stroke-linecap="butt"/>
<text transform="matrix(45.24 0 0 47.18 114.43 1693.98)" font-size="1" fill="#000" stroke="#000" stroke-width="0.02" stroke-linejoin="round">0.0</text>
<text transform="matrix(45.24 0 0 47.18 114.43 1611.24)" font-size="1" fill="#000" stroke="#000" stroke-width="0.02" stroke-linejoin="round">0.2</text>
<text transform="matrix(45.26 0 0 47.18 112.82 1528.5)" font-size="1" fill="#000" stroke="#000" stroke-width="0.02" stroke-linejoin="round">0.4</text>
<text transform="matrix(45.24 0 0 47.18 114.2 1445.76)" font-size="1" fill="#000" stroke="#000" stroke-width="0.02" stroke-linejoin="round">0.6</text>
<text transform="matrix(45.24 0 0 47.18 113.97 1363.02)" font-size="1" fill="#000" stroke="#000" stroke-width="0.02" stroke-linejoin="round">0.8</text>
<text transform="matrix(45.22 0 0 47.18 114.45 1280.28)" font-size="1" fill="#000" stroke="#000" stroke-width="0.02" stroke-linejoin="round">1.0</text>
<text transform="matrix(43.89 0 0 47.89 188.32 1741.52)" font-size="1" fill="#000" stroke="#000" stroke-width="0.02" stroke-linejoin="round">0</text>
<text transform="matrix(45 0 0 47.89 330.16 1741.52)" font-size="1" fill="#000" stroke="#000" stroke-width="0.02" stroke-linejoin="round">10</text>
<text transform="matrix(45.03 0 0 47.89 486.02 1741.52)" font-size="1" fill="#000" stroke="#000" stroke-width="0.02" stroke-linejoin="round">20</text>
<text transform="matrix(45.04 0 0 47.89 641.44 1741.52)" font-size="1" fill="#000" stroke="#000" stroke-width="0.02" stroke-linejoin="round">30</text>
<text transform="matrix(45.05 0 0 47.89 796.86 1741.52)" font-size="1" fill="#000" stroke="#000" stroke-width="0.02" stroke-linejoin="round">40</text>
<text transform="matrix(45.04 0 0 47.89 951.73 1741.52)" font-size="1" fill="#000" stroke="#000" stroke-width="0.02" stroke-linejoin="round">50</text>
<text transform="matrix(45.03 0 0 47.89 1106.82 1741.52)" font-size="1" fill="#000" stroke="#000" stroke-width="0.02" stroke-linejoin="round">60</text>
<text transform="matrix(45.02 0 0 47.89 1261.8 1741.52)" font-size="1" fill="#000" stroke="#000" stroke-width="0.02" stroke-linejoin="round">70</text>
<text transform="matrix(45.04 0 0 47.89 1417.33 1741.52)" font-size="1" fill="#000" stroke="#000" stroke-width="0.02" stroke-linejoin="round">80</text>
<text transform="matrix(49.75 0 0 51.31 720.2 1792.9)" font-size="1" fill="#000">Time, s</text>
<text transform="matrix(0 -49.92 51.45 0 68.5 1571.44)" font-size="1" fill="#000">Potential, V</text>
<path d="M206 1560 L206.3 1561.57 L206.5 1563.19 L206.62 1564.85 L206.67 1566.54 L206.67 1568.25 L206.64 1569.99 L206.59 1571.74 L206.54 1573.49 L206.51 1575.25 L206.5 1577 L206.54 1578.74 L206.65 1580.46 L206.83 1582.16 L207.11 1583.83 L207.5 1585.46 L208.02 1587.05 L208.68 1588.59 L209.5 1590.08 L210.5 1591.5 L210.56 1588.99 L210.64 1586.48 L210.73 1583.97 L210.82 1581.46 L210.93 1578.95 L211.05 1576.43 L211.19 1573.92 L211.33 1571.4 L211.49 1568.89 L211.66 1566.37 L211.84 1563.86 L212.03 1561.34 L212.24 1558.83 L212.45 1556.31 L212.68 1553.8 L212.92 1551.28 L213.17 1548.77 L213.44 1546.25 L213.71 1543.74 L214 1541.23 L214.3 1538.71 L214.61 1536.2 L214.94 1533.69 L215.27 1531.18 L215.62 1528.67 L215.98 1526.17 L216.35 1523.66 L216.74 1521.16 L217.13 1518.65 L217.54 1516.15 L217.96 1513.65 L218.4 1511.15 L218.84 1508.66 L219.3 1506.16 L219.77 1503.67 L220.25 1501.18 L220.75 1498.7 L221.26 1496.21 L221.78 1493.73 L222.31 1491.25 L222.85 1488.77 L223.41 1486.3 L223.98 1483.82 L224.56 1481.35 L225.15 1478.89 L225.76 1476.43 L226.38 1473.97 L227.01 1471.51 L227.66 1469.06 L228.31 1466.61 L228.98 1464.16 L229.66 1461.72 L230.36 1459.28 L231.06 1456.85 L231.78 1454.42 L232.52 1451.99 L233.26 1449.57 L234.02 1447.15 L234.79 1444.74 L235.57 1442.33 L236.37 1439.92 L237.18 1437.52 L238 1435.13 L238.83 1432.74 L239.68 1430.35 L240.54 1427.97 L241.42 1425.6 L242.3 1423.23 L243.2 1420.86 L244.11 1418.51 L245.04 1416.15 L245.97 1413.8 L246.92 1411.46 L247.89 1409.13 L248.87 1406.79 L249.85 1404.47 L250.86 1402.15 L251.87 1399.84 L252.9 1397.53 L253.94 1395.23 L255 1392.94 L256.07 1390.65 L257.15 1388.37 L258.24 1386.1 L259.35 1383.83 L260.47 1381.57 L261.61 1379.32 L262.76 1377.08 L263.92 1374.84 L265.09 1372.61 L266.28 1370.38 L267.48 1368.17 L268.69 1365.96 L269.92 1363.76 L271.16 1361.57 L272.42 1359.38 L273.68 1357.21 L274.97 1355.04 L276.26 1352.88 L277.57 1350.73 L278.89 1348.58 L280.23 1346.45 L281.58 1344.32 L282.94 1342.2 L284.31 1340.09 L285.7 1337.99 L287.11 1335.9 L288.52 1333.82 L289.95 1331.74 L291.4 1329.68 L292.86 1327.63 L294.33 1325.58 L295.81 1323.54 L297.31 1321.52 L298.82 1319.5 L300.35 1317.5 L301.89 1315.5 L303.45 1313.51 L305.01 1311.54 L306.6 1309.57 L308.19 1307.61 L309.8 1305.67 L311.42 1303.73 L313.06 1301.81 L314.71 1299.89 L316.38 1297.99 L318.06 1296.1 L319.75 1294.22 L321.46 1292.35 L323.18 1290.49 L324.92 1288.64 L326.67 1286.8 L328.43 1284.98 L330.21 1283.16 L332 1281.36 L333.81 1279.57 L335.63 1277.79 L337.46 1276.02 L339.31 1274.27 L341.17 1272.53 L343.05 1270.8 L344.94 1269.08 L346.85 1267.37 L348.77 1265.68 L350.7 1264 L350.96 1266.51 L351.23 1269.02 L351.5 1271.53 L351.78 1274.04 L352.06 1276.54 L352.34 1279.05 L352.62 1281.56 L352.91 1284.07 L353.2 1286.57 L353.5 1289.08 L353.8 1291.58 L354.1 1294.09 L354.4 1296.59 L354.71 1299.1 L355.02 1301.6 L355.33 1304.11 L355.65 1306.61 L355.97 1309.11 L356.29 1311.61 L356.62 1314.11 L356.95 1316.62 L357.28 1319.12 L357.62 1321.62 L357.96 1324.12 L358.3 1326.62 L358.65 1329.12 L358.99 1331.61 L359.35 1334.11 L359.7 1336.61 L360.06 1339.11 L360.42 1341.6 L360.78 1344.1 L361.15 1346.6 L361.52 1349.09 L361.89 1351.59 L362.26 1354.08 L362.64 1356.58 L363.02 1359.07 L363.41 1361.56 L363.79 1364.06 L364.18 1366.55 L364.58 1369.04 L364.97 1371.53 L365.37 1374.02 L365.77 1376.52 L366.17 1379.01 L366.58 1381.5 L366.99 1383.99 L367.4 1386.47 L367.82 1388.96 L368.23 1391.45 L368.65 1393.94 L369.08 1396.43 L369.5 1398.91 L369.93 1401.4 L370.36 1403.89 L370.79 1406.37 L371.23 1408.86 L371.67 1411.34 L372.11 1413.83 L372.56 1416.31 L373 1418.79 L373.45 1421.28 L373.9 1423.76 L374.36 1426.24 L374.81 1428.72 L375.27 1431.2 L375.74 1433.69 L376.2 1436.17 L376.67 1438.65 L377.14 1441.13 L377.61 1443.6 L378.08 1446.08 L378.56 1448.56 L379.04 1451.04 L379.52 1453.52 L380 1455.99 L380.49 1458.47 L380.98 1460.95 L381.47 1463.42 L381.96 1465.9 L382.46 1468.37 L382.96 1470.85 L383.46 1473.32 L383.96 1475.79 L384.46 1478.27 L384.97 1480.74 L385.48 1483.21 L385.99 1485.68 L386.51 1488.15 L387.02 1490.62 L387.54 1493.1 L388.06 1495.57 L388.58 1498.03 L389.11 1500.5 L389.64 1502.97 L390.16 1505.44 L390.7 1507.91 L391.23 1510.38 L391.76 1512.84 L392.3 1515.31 L392.84 1517.78 L393.38 1520.24 L393.93 1522.71 L394.47 1525.17 L395.02 1527.64 L395.57 1530.1 L396.12 1532.56 L396.67 1535.03 L397.23 1537.49 L397.79 1539.95 L398.35 1542.41 L398.91 1544.87 L399.47 1547.33 L400.04 1549.79 L400.6 1552.25 L401.17 1554.71 L401.74 1557.17 L402.32 1559.63 L402.89 1562.09 L403.47 1564.55 L404.04 1567 L404.62 1569.46 L405.2 1571.92 L405.79 1574.37 L406.37 1576.83 L406.96 1579.28 L407.55 1581.74 L408.14 1584.19 L408.73 1586.65 L409.32 1589.1 L409.92 1591.55 L410.52 1594.01 L411.12 1596.46 L411.72 1598.91 L412.32 1601.36 L412.92 1603.81 L413.53 1606.26 L414.13 1608.71 L414.74 1611.16 L415.35 1613.61 L415.96 1616.06 L416.57 1618.51 L417.19 1620.95 L417.8 1623.4 L418.42 1625.85 L419.04 1628.29 L419.66 1630.74 L420.28 1633.18 L420.91 1635.63 L421.53 1638.07 L422.16 1640.52 L422.78 1642.96 L423.41 1645.41 L424.04 1647.85 L424.67 1650.29 L425.31 1652.73 L425.94 1655.17 L426.58 1657.61 L427.21 1660.05 L427.85 1662.5 L428.49 1664.93 L429.13 1667.37 L429.77 1669.81 L430.42 1672.25 L431.06 1674.69 L431.71 1677.13 L432.35 1679.56 L433 1682" fill="none" stroke="#1a1a1a" stroke-width="3.5" stroke-linejoin="round"/>
<path d="M203 1604 L203.89 1601.65 L204.77 1599.3 L205.67 1596.95 L206.57 1594.6 L207.47 1592.25 L208.38 1589.9 L209.3 1587.55 L210.22 1585.2 L211.15 1582.85 L212.09 1580.5 L213.03 1578.16 L213.98 1575.81 L214.93 1573.47 L215.9 1571.13 L216.87 1568.79 L217.84 1566.45 L218.83 1564.12 L219.82 1561.78 L220.82 1559.45 L221.82 1557.13 L222.84 1554.8 L223.86 1552.48 L224.89 1550.17 L225.93 1547.85 L226.98 1545.54 L228.03 1543.24 L229.1 1540.93 L230.17 1538.64 L231.25 1536.34 L232.34 1534.05 L233.44 1531.77 L234.55 1529.49 L235.67 1527.22 L236.8 1524.95 L237.94 1522.68 L239.09 1520.43 L240.25 1518.17 L241.42 1515.93 L242.6 1513.69 L243.79 1511.45 L244.99 1509.23 L246.2 1507.01 L247.42 1504.79 L248.65 1502.58 L249.9 1500.39 L251.15 1498.19 L252.42 1496.01 L253.7 1493.83 L254.99 1491.66 L256.29 1489.5 L257.6 1487.35 L258.93 1485.2 L260.27 1483.07 L261.62 1480.94 L262.98 1478.82 L264.35 1476.71 L265.74 1474.61 L267.14 1472.52 L268.55 1470.44 L269.98 1468.37 L271.42 1466.3 L272.87 1464.25 L274.33 1462.2 L275.8 1460.17 L277.29 1458.14 L278.78 1456.13 L280.29 1454.12 L281.82 1452.12 L283.35 1450.14 L284.89 1448.16 L286.45 1446.19 L288.02 1444.23 L289.6 1442.28 L291.19 1440.34 L292.8 1438.42 L294.41 1436.5 L296.04 1434.59 L297.67 1432.69 L299.32 1430.8 L300.98 1428.92 L302.66 1427.05 L304.34 1425.2 L306.03 1423.35 L307.74 1421.51 L309.46 1419.69 L311.18 1417.87 L312.92 1416.07 L314.67 1414.27 L316.43 1412.49 L318.2 1410.71 L319.98 1408.95 L321.78 1407.2 L323.58 1405.46 L325.39 1403.73 L327.22 1402.01 L329.05 1400.3 L330.9 1398.6 L332.75 1396.91 L334.62 1395.24 L336.49 1393.58 L338.38 1391.92 L340.28 1390.28 L342.18 1388.65 L344.1 1387.03 L346.03 1385.42 L347.97 1383.83 L349.91 1382.24 L351.87 1380.67 L353.84 1379.11 L355.81 1377.56 L357.8 1376.02 L359.8 1374.5 L361.8 1372.98 L363.81 1371.48 L365.84 1369.98 L367.87 1368.5 L369.91 1367.03 L371.96 1365.57 L374.02 1364.12 L376.09 1362.68 L378.16 1361.25 L380.24 1359.83 L382.34 1358.42 L384.43 1357.02 L386.54 1355.63 L388.66 1354.26 L390.78 1352.89 L392.91 1351.53 L395.04 1350.18 L397.19 1348.84 L399.34 1347.51 L401.49 1346.19 L403.66 1344.87 L405.83 1343.57 L408.01 1342.28 L410.19 1340.99 L412.38 1339.71 L414.57 1338.45 L416.77 1337.19 L418.98 1335.93 L421.19 1334.69 L423.41 1333.46 L425.64 1332.23 L427.86 1331.01 L430.1 1329.8 L432.34 1328.6 L434.58 1327.4 L436.83 1326.22 L439.08 1325.04 L441.34 1323.86 L443.6 1322.7 L445.86 1321.54 L448.13 1320.39 L450.4 1319.25 L452.68 1318.11 L454.96 1316.98 L457.25 1315.85 L459.53 1314.74 L461.82 1313.63 L464.12 1312.52 L466.41 1311.42 L468.71 1310.33 L471.01 1309.24 L473.32 1308.16 L475.62 1307.09 L477.93 1306.02 L480.24 1304.96 L482.56 1303.9 L484.87 1302.85 L487.19 1301.8 L489.5 1300.76 L491.82 1299.72 L494.14 1298.69 L496.47 1297.66 L498.79 1296.64 L501.11 1295.62 L503.44 1294.61 L505.76 1293.6 L508.09 1292.6 L510.41 1291.6 L512.74 1290.6 L515.07 1289.61 L517.39 1288.62 L519.72 1287.64 L522.05 1286.66 L524.37 1285.68 L526.7 1284.71 L529.02 1283.74 L531.34 1282.77 L533.67 1281.81 L535.99 1280.85 L538.31 1279.89 L540.62 1278.94 L542.94 1277.99 L545.26 1277.04 L547.57 1276.09 L549.88 1275.15 L552.19 1274.21 L554.5 1273.27 L556.8 1272.33 L559.11 1271.39 L561.41 1270.46 L563.7 1269.53 L566 1268.6" fill="none" stroke="#1a1a1a" stroke-width="3.7" stroke-dasharray="10.5 8" stroke-linejoin="round"/>
<path d="M566 1268.6 L566.97 1270.9 L567.9 1273.21 L568.79 1275.54 L569.65 1277.88 L570.49 1280.24 L571.29 1282.61 L572.07 1284.99 L572.83 1287.38 L573.57 1289.77 L574.29 1292.18 L575 1294.6 L575.69 1297.02 L576.37 1299.44 L577.04 1301.87 L577.71 1304.3 L578.38 1306.73 L579.04 1309.17 L579.7 1311.61 L580.36 1314.04 L581.03 1316.48 L581.71 1318.91 L582.39 1321.34 L583.08 1323.76 L583.79 1326.18 L584.5 1328.59 L585.24 1331 L585.99 1333.4 L586.76 1335.79 L587.56 1338.18 L588.37 1340.55 L589.2 1342.92 L590.04 1345.28 L590.91 1347.64 L591.79 1349.98 L592.69 1352.32 L593.61 1354.66 L594.54 1356.98 L595.48 1359.3 L596.45 1361.62 L597.42 1363.92 L598.41 1366.23 L599.42 1368.52 L600.43 1370.81 L601.47 1373.1 L602.51 1375.38 L603.56 1377.65 L604.63 1379.92 L605.7 1382.19 L606.79 1384.45 L607.89 1386.71 L609 1388.97 L610.11 1391.22 L611.24 1393.46 L612.37 1395.7 L613.51 1397.94 L614.66 1400.18 L615.81 1402.42 L616.98 1404.65 L618.14 1406.88 L619.32 1409.1 L620.5 1411.33 L621.68 1413.55 L622.87 1415.77 L624.06 1417.99 L625.25 1420.21 L626.45 1422.42 L627.65 1424.64 L628.85 1426.85 L630.06 1429.07 L631.26 1431.28 L632.47 1433.5 L633.67 1435.71 L634.88 1437.92 L636.09 1440.14 L637.29 1442.35 L638.5 1444.56 L639.71 1446.77 L640.92 1448.99 L642.13 1451.2 L643.34 1453.41 L644.55 1455.62 L645.76 1457.84 L646.97 1460.05 L648.18 1462.26 L649.39 1464.47 L650.6 1466.68 L651.81 1468.89 L653.03 1471.1 L654.24 1473.31 L655.45 1475.52 L656.67 1477.73 L657.88 1479.94 L659.09 1482.15 L660.31 1484.36 L661.52 1486.57 L662.74 1488.78 L663.96 1490.99 L665.17 1493.2 L666.39 1495.41 L667.61 1497.62 L668.83 1499.83 L670.05 1502.03 L671.27 1504.24 L672.48 1506.45 L673.7 1508.66 L674.93 1510.86 L676.15 1513.07 L677.37 1515.28 L678.59 1517.48 L679.81 1519.69 L681.04 1521.9 L682.26 1524.1 L683.48 1526.31 L684.71 1528.51 L685.93 1530.72 L687.16 1532.92 L688.38 1535.13 L689.61 1537.33 L690.84 1539.53 L692.06 1541.74 L693.29 1543.94 L694.52 1546.14 L695.75 1548.34 L696.98 1550.55 L698.21 1552.75 L699.44 1554.95 L700.67 1557.15 L701.9 1559.35 L703.13 1561.55 L704.37 1563.75 L705.6 1565.95 L706.83 1568.15 L708.07 1570.35 L709.3 1572.55 L710.54 1574.75 L711.77 1576.95 L713.01 1579.15 L714.25 1581.34 L715.48 1583.54 L716.72 1585.74 L717.96 1587.93 L719.2 1590.13 L720.44 1592.33 L721.68 1594.52 L722.92 1596.72 L724.16 1598.91 L725.41 1601.11 L726.65 1603.3 L727.89 1605.49 L729.14 1607.69 L730.38 1609.88 L731.63 1612.07 L732.87 1614.26 L734.12 1616.45 L735.36 1618.65 L736.61 1620.84 L737.86 1623.03 L739.11 1625.22 L740.36 1627.41 L741.61 1629.6 L742.86 1631.78 L744.11 1633.97 L745.36 1636.16 L746.61 1638.35 L747.87 1640.54 L749.12 1642.72 L750.38 1644.91 L751.63 1647.09 L752.89 1649.28 L754.14 1651.46 L755.4 1653.65 L756.66 1655.83 L757.91 1658.01 L759.17 1660.2 L760.43 1662.38 L761.69 1664.56 L762.95 1666.74 L764.22 1668.92 L765.48 1671.11 L766.74 1673.29 L768 1675.46 L769.27 1677.64 L770.53 1679.82 L771.8 1682" fill="none" stroke="#1a1a1a" stroke-width="3.7" stroke-dasharray="10.5 8" stroke-linejoin="round"/>
<path d="M202 1622 L203.41 1619.96 L204.82 1617.91 L206.23 1615.87 L207.65 1613.83 L209.08 1611.79 L210.51 1609.75 L211.94 1607.71 L213.38 1605.67 L214.82 1603.64 L216.27 1601.6 L217.73 1599.57 L219.19 1597.54 L220.66 1595.51 L222.13 1593.49 L223.6 1591.46 L225.08 1589.44 L226.57 1587.42 L228.06 1585.41 L229.56 1583.39 L231.07 1581.38 L232.57 1579.38 L234.09 1577.37 L235.61 1575.37 L237.14 1573.37 L238.67 1571.38 L240.21 1569.39 L241.75 1567.4 L243.3 1565.42 L244.86 1563.44 L246.42 1561.47 L247.99 1559.5 L249.56 1557.53 L251.14 1555.57 L252.73 1553.62 L254.32 1551.66 L255.92 1549.72 L257.52 1547.78 L259.14 1545.84 L260.75 1543.91 L262.38 1541.98 L264.01 1540.06 L265.65 1538.15 L267.29 1536.24 L268.94 1534.34 L270.6 1532.44 L272.27 1530.55 L273.94 1528.67 L275.62 1526.79 L277.3 1524.92 L279 1523.06 L280.69 1521.2 L282.4 1519.35 L284.11 1517.51 L285.84 1515.68 L287.56 1513.85 L289.3 1512.03 L291.04 1510.22 L292.79 1508.41 L294.55 1506.61 L296.31 1504.83 L298.08 1503.05 L299.86 1501.27 L301.65 1499.51 L303.44 1497.75 L305.24 1496.01 L307.05 1494.27 L308.87 1492.54 L310.69 1490.82 L312.53 1489.1 L314.36 1487.4 L316.21 1485.71 L318.06 1484.02 L319.93 1482.35 L321.79 1480.68 L323.67 1479.02 L325.56 1477.37 L327.45 1475.74 L329.35 1474.11 L331.25 1472.49 L333.17 1470.88 L335.09 1469.28 L337.02 1467.69 L338.96 1466.11 L340.9 1464.55 L342.86 1462.99 L344.82 1461.44 L346.79 1459.9 L348.76 1458.38 L350.75 1456.86 L352.74 1455.36 L354.74 1453.86 L356.74 1452.38 L358.76 1450.91 L360.78 1449.45 L362.81 1448 L364.85 1446.56 L366.9 1445.13 L368.95 1443.71 L371.01 1442.31 L373.08 1440.91 L375.15 1439.52 L377.23 1438.15 L379.32 1436.78 L381.42 1435.43 L383.52 1434.08 L385.63 1432.74 L387.74 1431.42 L389.86 1430.1 L391.99 1428.79 L394.12 1427.5 L396.26 1426.21 L398.4 1424.93 L400.55 1423.66 L402.71 1422.39 L404.87 1421.14 L407.04 1419.9 L409.21 1418.66 L411.39 1417.43 L413.57 1416.21 L415.75 1415 L417.94 1413.8 L420.14 1412.6 L422.34 1411.41 L424.55 1410.23 L426.76 1409.06 L428.97 1407.9 L431.19 1406.74 L433.41 1405.59 L435.63 1404.45 L437.86 1403.31 L440.1 1402.18 L442.33 1401.06 L444.57 1399.94 L446.81 1398.83 L449.06 1397.73 L451.31 1396.63 L453.56 1395.54 L455.82 1394.46 L458.08 1393.38 L460.34 1392.3 L462.6 1391.24 L464.87 1390.18 L467.13 1389.12 L469.41 1388.07 L471.68 1387.03 L473.96 1385.99 L476.24 1384.96 L478.52 1383.93 L480.8 1382.91 L483.09 1381.9 L485.38 1380.89 L487.67 1379.89 L489.96 1378.89 L492.26 1377.9 L494.56 1376.91 L496.86 1375.93 L499.17 1374.96 L501.47 1373.99 L503.78 1373.02 L506.1 1372.06 L508.41 1371.11 L510.73 1370.16 L513.04 1369.22 L515.36 1368.28 L517.69 1367.35 L520.01 1366.42 L522.34 1365.5 L524.67 1364.58 L527 1363.67 L529.34 1362.77 L531.67 1361.86 L534.01 1360.97 L536.35 1360.08 L538.7 1359.19 L541.04 1358.31 L543.39 1357.44 L545.74 1356.57 L548.09 1355.7 L550.44 1354.84 L552.8 1353.98 L555.15 1353.13 L557.51 1352.29 L559.87 1351.44 L562.24 1350.61 L564.6 1349.78 L566.97 1348.95 L569.34 1348.13 L571.71 1347.31 L574.08 1346.5 L576.45 1345.69 L578.83 1344.89 L581.21 1344.09 L583.59 1343.29 L585.97 1342.5 L588.35 1341.72 L590.74 1340.94 L593.12 1340.16 L595.51 1339.39 L597.9 1338.62 L600.29 1337.86 L602.68 1337.1 L605.08 1336.35 L607.48 1335.6 L609.87 1334.85 L612.27 1334.11 L614.67 1333.37 L617.08 1332.64 L619.48 1331.91 L621.88 1331.19 L624.29 1330.47 L626.7 1329.75 L629.11 1329.04 L631.52 1328.33 L633.93 1327.63 L636.34 1326.93 L638.76 1326.23 L641.18 1325.54 L643.59 1324.85 L646.01 1324.17 L648.43 1323.48 L650.85 1322.81 L653.28 1322.14 L655.7 1321.47 L658.13 1320.8 L660.55 1320.14 L662.98 1319.48 L665.41 1318.83 L667.84 1318.18 L670.27 1317.53 L672.7 1316.89 L675.13 1316.25 L677.57 1315.61 L680 1314.98 L682.44 1314.35 L684.87 1313.73 L687.31 1313.1 L689.75 1312.49 L692.19 1311.87 L694.63 1311.26 L697.07 1310.65 L699.51 1310.05 L701.96 1309.44 L704.4 1308.84 L706.85 1308.25 L709.29 1307.66 L711.74 1307.07 L714.19 1306.48 L716.63 1305.9 L719.08 1305.32 L721.53 1304.75 L723.98 1304.17 L726.43 1303.6 L728.88 1303.04 L731.34 1302.47 L733.79 1301.91 L736.24 1301.35 L738.7 1300.8 L741.15 1300.24 L743.6 1299.7 L746.06 1299.15 L748.52 1298.6 L750.97 1298.06 L753.43 1297.53 L755.89 1296.99 L758.34 1296.46 L760.8 1295.93 L763.26 1295.4 L765.72 1294.87 L768.18 1294.35 L770.64 1293.83 L773.1 1293.32 L775.56 1292.8 L778.02 1292.29 L780.48 1291.78 L782.94 1291.27 L785.4 1290.77 L787.86 1290.26 L790.33 1289.76 L792.79 1289.27 L795.25 1288.77 L797.71 1288.28 L800.17 1287.79 L802.64 1287.3 L805.1 1286.81 L807.56 1286.33 L810.02 1285.85 L812.49 1285.37 L814.95 1284.89 L817.41 1284.41 L819.88 1283.94 L822.34 1283.47 L824.8 1283 L827.26 1282.53 L829.72 1282.07 L832.19 1281.6 L834.65 1281.14 L837.11 1280.68 L839.57 1280.22 L842.03 1279.77 L844.49 1279.31 L846.96 1278.86 L849.42 1278.41 L851.88 1277.96 L854.34 1277.51 L856.8 1277.07 L859.26 1276.62 L861.72 1276.18 L864.17 1275.74 L866.63 1275.3 L869.09 1274.86 L871.55 1274.43 L874.01 1273.99 L876.46 1273.56 L878.92 1273.13 L881.37 1272.7 L883.83 1272.27 L886.28 1271.84 L888.74 1271.41 L891.19 1270.99 L893.64 1270.56 L896.1 1270.14 L898.55 1269.72 L901 1269.3" fill="none" stroke="#3a3a3a" stroke-width="3.8" stroke-dasharray="3.2 7.5" stroke-linejoin="round"/>
<path d="M901 1269.3 L902.28 1271.47 L903.56 1273.64 L904.86 1275.8 L906.15 1277.96 L907.45 1280.11 L908.76 1282.26 L910.07 1284.41 L911.39 1286.55 L912.72 1288.69 L914.05 1290.82 L915.38 1292.96 L916.72 1295.08 L918.07 1297.2 L919.42 1299.32 L920.77 1301.44 L922.13 1303.55 L923.5 1305.66 L924.87 1307.76 L926.25 1309.86 L927.63 1311.96 L929.02 1314.05 L930.41 1316.14 L931.81 1318.22 L933.21 1320.3 L934.62 1322.38 L936.03 1324.46 L937.44 1326.53 L938.87 1328.59 L940.29 1330.66 L941.73 1332.72 L943.16 1334.77 L944.6 1336.82 L946.05 1338.87 L947.5 1340.92 L948.96 1342.96 L950.42 1345 L951.88 1347.03 L953.35 1349.06 L954.82 1351.09 L956.3 1353.11 L957.79 1355.13 L959.27 1357.15 L960.77 1359.16 L962.26 1361.17 L963.77 1363.18 L965.27 1365.19 L966.78 1367.19 L968.3 1369.18 L969.82 1371.18 L971.34 1373.17 L972.87 1375.15 L974.4 1377.14 L975.93 1379.12 L977.47 1381.1 L979.02 1383.07 L980.57 1385.04 L982.12 1387.01 L983.68 1388.97 L985.24 1390.93 L986.8 1392.89 L988.37 1394.85 L989.95 1396.8 L991.52 1398.75 L993.1 1400.69 L994.69 1402.64 L996.28 1404.58 L997.87 1406.51 L999.47 1408.45 L1001.07 1410.38 L1002.67 1412.31 L1004.28 1414.23 L1005.89 1416.15 L1007.5 1418.07 L1009.12 1419.99 L1010.75 1421.9 L1012.37 1423.81 L1014 1425.72 L1015.64 1427.62 L1017.27 1429.52 L1018.91 1431.42 L1020.56 1433.32 L1022.2 1435.21 L1023.86 1437.1 L1025.51 1438.99 L1027.17 1440.87 L1028.83 1442.76 L1030.49 1444.63 L1032.16 1446.51 L1033.83 1448.38 L1035.5 1450.26 L1037.18 1452.12 L1038.86 1453.99 L1040.55 1455.85 L1042.23 1457.71 L1043.92 1459.57 L1045.62 1461.43 L1047.31 1463.28 L1049.01 1465.13 L1050.71 1466.98 L1052.42 1468.83 L1054.13 1470.67 L1055.84 1472.51 L1057.55 1474.35 L1059.27 1476.18 L1060.99 1478.02 L1062.71 1479.85 L1064.43 1481.67 L1066.16 1483.5 L1067.89 1485.32 L1069.63 1487.14 L1071.36 1488.96 L1073.1 1490.78 L1074.84 1492.59 L1076.59 1494.41 L1078.33 1496.22 L1080.08 1498.02 L1081.83 1499.83 L1083.59 1501.63 L1085.34 1503.43 L1087.1 1505.23 L1088.86 1507.03 L1090.63 1508.82 L1092.39 1510.61 L1094.16 1512.4 L1095.93 1514.19 L1097.71 1515.98 L1099.48 1517.76 L1101.26 1519.54 L1103.04 1521.32 L1104.82 1523.1 L1106.6 1524.87 L1108.39 1526.65 L1110.18 1528.42 L1111.97 1530.19 L1113.76 1531.95 L1115.55 1533.72 L1117.35 1535.48 L1119.15 1537.24 L1120.95 1539 L1122.75 1540.76 L1124.55 1542.52 L1126.36 1544.27 L1128.17 1546.02 L1129.98 1547.77 L1131.79 1549.52 L1133.6 1551.27 L1135.41 1553.01 L1137.23 1554.76 L1139.05 1556.5 L1140.87 1558.24 L1142.69 1559.98 L1144.51 1561.71 L1146.34 1563.45 L1148.16 1565.18 L1149.99 1566.91 L1151.82 1568.64 L1153.65 1570.37 L1155.48 1572.1 L1157.31 1573.82 L1159.15 1575.54 L1160.98 1577.27 L1162.82 1578.99 L1164.66 1580.7 L1166.5 1582.42 L1168.34 1584.14 L1170.18 1585.85 L1172.02 1587.56 L1173.87 1589.28 L1175.71 1590.99 L1177.56 1592.69 L1179.4 1594.4 L1181.25 1596.11 L1183.1 1597.81 L1184.95 1599.51 L1186.8 1601.22 L1188.66 1602.92 L1190.51 1604.62 L1192.36 1606.31 L1194.22 1608.01 L1196.07 1609.7 L1197.93 1611.4 L1199.79 1613.09 L1201.65 1614.78 L1203.5 1616.47 L1205.36 1618.16 L1207.22 1619.85 L1209.08 1621.54 L1210.95 1623.22 L1212.81 1624.91 L1214.67 1626.59 L1216.53 1628.27 L1218.4 1629.95 L1220.26 1631.63 L1222.13 1633.31 L1223.99 1634.99 L1225.86 1636.67 L1227.72 1638.34 L1229.59 1640.02 L1231.45 1641.69 L1233.32 1643.37 L1235.19 1645.04 L1237.05 1646.71 L1238.92 1648.38 L1240.79 1650.05 L1242.65 1651.72 L1244.52 1653.39 L1246.39 1655.06 L1248.26 1656.72 L1250.13 1658.39 L1251.99 1660.05 L1253.86 1661.72 L1255.73 1663.38 L1257.6 1665.04 L1259.46 1666.7 L1261.33 1668.36 L1263.2 1670.02 L1265.07 1671.68 L1266.93 1673.34 L1268.8 1675" fill="none" stroke="#3a3a3a" stroke-width="3.8" stroke-dasharray="3.2 7.5" stroke-linejoin="round"/>
<path d="M201 1632 L201.63 1629.57 L202.36 1627.2 L203.18 1624.87 L204.09 1622.6 L205.07 1620.37 L206.14 1618.17 L207.27 1616.02 L208.47 1613.91 L209.73 1611.82 L211.05 1609.77 L212.42 1607.75 L213.84 1605.75 L215.3 1603.77 L216.8 1601.81 L218.34 1599.87 L219.9 1597.95 L221.49 1596.03 L223.1 1594.12 L224.72 1592.22 L226.35 1590.32 L227.99 1588.43 L229.64 1586.53 L231.29 1584.63 L232.95 1582.74 L234.61 1580.84 L236.28 1578.95 L237.95 1577.06 L239.63 1575.17 L241.31 1573.29 L243.01 1571.4 L244.7 1569.53 L246.41 1567.65 L248.12 1565.78 L249.84 1563.91 L251.56 1562.05 L253.29 1560.2 L255.03 1558.35 L256.77 1556.51 L258.52 1554.67 L260.28 1552.84 L262.04 1551.01 L263.81 1549.2 L265.59 1547.39 L267.38 1545.59 L269.17 1543.8 L270.97 1542.02 L272.78 1540.24 L274.59 1538.48 L276.42 1536.72 L278.25 1534.98 L280.09 1533.25 L281.93 1531.52 L283.79 1529.81 L285.65 1528.11 L287.52 1526.42 L289.4 1524.74 L291.28 1523.07 L293.18 1521.42 L295.08 1519.77 L296.99 1518.13 L298.9 1516.5 L300.82 1514.89 L302.75 1513.28 L304.69 1511.69 L306.63 1510.1 L308.58 1508.52 L310.54 1506.96 L312.51 1505.4 L314.48 1503.86 L316.46 1502.32 L318.44 1500.8 L320.43 1499.28 L322.43 1497.77 L324.44 1496.27 L326.45 1494.79 L328.47 1493.31 L330.49 1491.84 L332.52 1490.38 L334.56 1488.93 L336.6 1487.49 L338.65 1486.06 L340.7 1484.63 L342.77 1483.22 L344.83 1481.82 L346.91 1480.42 L348.99 1479.03 L351.07 1477.66 L353.16 1476.29 L355.26 1474.93 L357.36 1473.57 L359.47 1472.23 L361.58 1470.9 L363.7 1469.57 L365.82 1468.25 L367.95 1466.94 L370.08 1465.64 L372.22 1464.35 L374.36 1463.06 L376.51 1461.78 L378.67 1460.52 L380.83 1459.25 L382.99 1458 L385.16 1456.76 L387.33 1455.52 L389.51 1454.29 L391.69 1453.07 L393.88 1451.85 L396.07 1450.65 L398.27 1449.45 L400.47 1448.25 L402.67 1447.07 L404.88 1445.89 L407.1 1444.72 L409.31 1443.56 L411.54 1442.4 L413.76 1441.25 L415.99 1440.11 L418.22 1438.98 L420.46 1437.85 L422.7 1436.73 L424.95 1435.61 L427.2 1434.5 L429.45 1433.4 L431.7 1432.31 L433.96 1431.22 L436.22 1430.14 L438.49 1429.06 L440.76 1427.99 L443.03 1426.93 L445.31 1425.87 L447.58 1424.82 L449.87 1423.78 L452.15 1422.74 L454.44 1421.71 L456.73 1420.68 L459.02 1419.66 L461.32 1418.65 L463.62 1417.64 L465.92 1416.63 L468.22 1415.64 L470.53 1414.64 L472.83 1413.66 L475.15 1412.68 L477.46 1411.7 L479.77 1410.73 L482.09 1409.76 L484.41 1408.8 L486.73 1407.85 L489.06 1406.9 L491.38 1405.95 L493.71 1405.01 L496.04 1404.08 L498.37 1403.15 L500.7 1402.22 L503.04 1401.3 L505.37 1400.38 L507.71 1399.47 L510.05 1398.56 L512.39 1397.66 L514.74 1396.76 L517.08 1395.87 L519.43 1394.98 L521.77 1394.1 L524.12 1393.22 L526.47 1392.34 L528.83 1391.47 L531.18 1390.6 L533.54 1389.74 L535.89 1388.88 L538.25 1388.03 L540.61 1387.18 L542.97 1386.34 L545.34 1385.5 L547.7 1384.66 L550.07 1383.83 L552.43 1383 L554.8 1382.18 L557.17 1381.36 L559.55 1380.55 L561.92 1379.74 L564.29 1378.93 L566.67 1378.13 L569.05 1377.33 L571.43 1376.53 L573.81 1375.74 L576.19 1374.96 L578.57 1374.18 L580.95 1373.4 L583.34 1372.62 L585.73 1371.85 L588.11 1371.09 L590.5 1370.33 L592.89 1369.57 L595.29 1368.81 L597.68 1368.06 L600.07 1367.31 L602.47 1366.57 L604.87 1365.83 L607.26 1365.1 L609.66 1364.36 L612.06 1363.64 L614.47 1362.91 L616.87 1362.19 L619.27 1361.47 L621.68 1360.76 L624.08 1360.05 L626.49 1359.34 L628.9 1358.64 L631.31 1357.94 L633.72 1357.24 L636.13 1356.55 L638.55 1355.86 L640.96 1355.17 L643.38 1354.49 L645.79 1353.81 L648.21 1353.14 L650.63 1352.46 L653.05 1351.79 L655.47 1351.13 L657.89 1350.47 L660.31 1349.81 L662.73 1349.15 L665.16 1348.5 L667.58 1347.85 L670.01 1347.2 L672.44 1346.56 L674.86 1345.92 L677.29 1345.28 L679.72 1344.65 L682.15 1344.01 L684.59 1343.39 L687.02 1342.76 L689.45 1342.14 L691.88 1341.52 L694.32 1340.9 L696.76 1340.29 L699.19 1339.68 L701.63 1339.07 L704.07 1338.47 L706.51 1337.87 L708.95 1337.27 L711.39 1336.67 L713.83 1336.08 L716.27 1335.49 L718.71 1334.9 L721.16 1334.31 L723.6 1333.73 L726.05 1333.15 L728.49 1332.57 L730.94 1332 L733.39 1331.42 L735.83 1330.85 L738.28 1330.29 L740.73 1329.72 L743.18 1329.16 L745.63 1328.6 L748.08 1328.04 L750.53 1327.49 L752.98 1326.93 L755.44 1326.38 L757.89 1325.83 L760.34 1325.29 L762.8 1324.74 L765.25 1324.2 L767.71 1323.66 L770.16 1323.13 L772.62 1322.59 L775.08 1322.06 L777.53 1321.53 L779.99 1321 L782.45 1320.48 L784.91 1319.95 L787.37 1319.43 L789.83 1318.91 L792.29 1318.4 L794.75 1317.88 L797.21 1317.37 L799.67 1316.85 L802.13 1316.35 L804.59 1315.84 L807.06 1315.33 L809.52 1314.83 L811.98 1314.33 L814.45 1313.83 L816.91 1313.33 L819.37 1312.83 L821.84 1312.34 L824.3 1311.84 L826.77 1311.35 L829.23 1310.86 L831.7 1310.37 L834.16 1309.89 L836.63 1309.4 L839.09 1308.92 L841.56 1308.44 L844.03 1307.96 L846.49 1307.48 L848.96 1307 L851.43 1306.53 L853.9 1306.05 L856.36 1305.58 L858.83 1305.11 L861.3 1304.64 L863.77 1304.17 L866.23 1303.7 L868.7 1303.24 L871.17 1302.77 L873.64 1302.31 L876.1 1301.85 L878.57 1301.39 L881.04 1300.93 L883.51 1300.47 L885.98 1300.02 L888.45 1299.56 L890.91 1299.11 L893.38 1298.65 L895.85 1298.2 L898.32 1297.75 L900.79 1297.3 L903.26 1296.85 L905.72 1296.4 L908.19 1295.95 L910.66 1295.51 L913.13 1295.06 L915.59 1294.62 L918.06 1294.18 L920.53 1293.73 L923 1293.29 L925.46 1292.85 L927.93 1292.41 L930.4 1291.97 L932.87 1291.53 L935.33 1291.09 L937.8 1290.66 L940.26 1290.22 L942.73 1289.79 L945.2 1289.35 L947.66 1288.92 L950.13 1288.48 L952.59 1288.05 L955.06 1287.62 L957.52 1287.18 L959.98 1286.75 L962.45 1286.32 L964.91 1285.89 L967.37 1285.46 L969.84 1285.03 L972.3 1284.6" fill="none" stroke="#1a1a1a" stroke-width="3.5" stroke-dasharray="12 4 3 4" stroke-linejoin="round"/>
<path d="M972.3 1284.6 L973.66 1286.74 L975.02 1288.87 L976.4 1291 L977.77 1293.12 L979.16 1295.24 L980.55 1297.35 L981.95 1299.45 L983.36 1301.55 L984.77 1303.64 L986.19 1305.73 L987.62 1307.81 L989.05 1309.88 L990.49 1311.95 L991.94 1314.01 L993.39 1316.07 L994.85 1318.12 L996.31 1320.17 L997.78 1322.21 L999.26 1324.25 L1000.75 1326.28 L1002.24 1328.3 L1003.73 1330.32 L1005.23 1332.34 L1006.74 1334.34 L1008.26 1336.35 L1009.78 1338.34 L1011.3 1340.34 L1012.84 1342.32 L1014.38 1344.31 L1015.92 1346.28 L1017.47 1348.25 L1019.03 1350.22 L1020.59 1352.18 L1022.16 1354.14 L1023.73 1356.09 L1025.31 1358.04 L1026.89 1359.98 L1028.48 1361.91 L1030.08 1363.84 L1031.68 1365.77 L1033.29 1367.69 L1034.9 1369.61 L1036.52 1371.52 L1038.14 1373.43 L1039.77 1375.33 L1041.4 1377.22 L1043.04 1379.12 L1044.69 1381 L1046.34 1382.89 L1047.99 1384.77 L1049.65 1386.64 L1051.31 1388.51 L1052.98 1390.37 L1054.66 1392.23 L1056.34 1394.09 L1058.02 1395.94 L1059.71 1397.79 L1061.41 1399.63 L1063.11 1401.47 L1064.81 1403.3 L1066.52 1405.13 L1068.24 1406.95 L1069.96 1408.77 L1071.68 1410.59 L1073.41 1412.4 L1075.14 1414.21 L1076.88 1416.01 L1078.62 1417.81 L1080.36 1419.61 L1082.12 1421.4 L1083.87 1423.18 L1085.63 1424.97 L1087.39 1426.75 L1089.16 1428.52 L1090.93 1430.29 L1092.71 1432.06 L1094.49 1433.82 L1096.28 1435.58 L1098.07 1437.34 L1099.86 1439.09 L1101.66 1440.84 L1103.46 1442.58 L1105.26 1444.32 L1107.07 1446.06 L1108.89 1447.79 L1110.7 1449.52 L1112.52 1451.24 L1114.35 1452.97 L1116.18 1454.69 L1118.01 1456.4 L1119.84 1458.11 L1121.68 1459.82 L1123.53 1461.52 L1125.37 1463.23 L1127.22 1464.92 L1129.08 1466.62 L1130.94 1468.31 L1132.8 1470 L1134.66 1471.68 L1136.53 1473.36 L1138.4 1475.04 L1140.27 1476.71 L1142.15 1478.38 L1144.03 1480.05 L1145.92 1481.72 L1147.8 1483.38 L1149.69 1485.04 L1151.59 1486.69 L1153.48 1488.35 L1155.38 1490 L1157.28 1491.64 L1159.19 1493.29 L1161.1 1494.93 L1163.01 1496.57 L1164.92 1498.2 L1166.84 1499.84 L1168.76 1501.47 L1170.68 1503.09 L1172.61 1504.72 L1174.53 1506.34 L1176.46 1507.96 L1178.4 1509.57 L1180.33 1511.19 L1182.27 1512.8 L1184.21 1514.41 L1186.15 1516.01 L1188.1 1517.62 L1190.05 1519.22 L1192 1520.82 L1193.95 1522.41 L1195.9 1524.01 L1197.86 1525.6 L1199.82 1527.19 L1201.78 1528.77 L1203.74 1530.36 L1205.71 1531.94 L1207.68 1533.52 L1209.65 1535.1 L1211.62 1536.67 L1213.59 1538.24 L1215.56 1539.82 L1217.54 1541.38 L1219.52 1542.95 L1221.5 1544.52 L1223.48 1546.08 L1225.47 1547.64 L1227.45 1549.2 L1229.44 1550.76 L1231.43 1552.31 L1233.42 1553.87 L1235.41 1555.42 L1237.41 1556.97 L1239.4 1558.51 L1241.4 1560.06 L1243.4 1561.6 L1245.4 1563.15 L1247.4 1564.69 L1249.4 1566.23 L1251.4 1567.77 L1253.41 1569.3 L1255.41 1570.84 L1257.42 1572.37 L1259.43 1573.9 L1261.44 1575.43 L1263.45 1576.96 L1265.46 1578.49 L1267.47 1580.01 L1269.48 1581.54 L1271.5 1583.06 L1273.51 1584.58 L1275.53 1586.1 L1277.54 1587.62 L1279.56 1589.14 L1281.58 1590.65 L1283.6 1592.17 L1285.62 1593.68 L1287.64 1595.2 L1289.66 1596.71 L1291.68 1598.22 L1293.7 1599.73 L1295.72 1601.24 L1297.74 1602.75 L1299.77 1604.26 L1301.79 1605.76 L1303.81 1607.27 L1305.84 1608.77 L1307.86 1610.28 L1309.88 1611.78 L1311.91 1613.28 L1313.93 1614.78 L1315.96 1616.28 L1317.98 1617.78 L1320.01 1619.28 L1322.03 1620.78 L1324.06 1622.28 L1326.08 1623.77 L1328.1 1625.27 L1330.13 1626.77 L1332.15 1628.26 L1334.18 1629.76 L1336.2 1631.25 L1338.22 1632.75 L1340.25 1634.24 L1342.27 1635.73 L1344.29 1637.23 L1346.31 1638.72 L1348.34 1640.21 L1350.36 1641.7 L1352.38 1643.2 L1354.4 1644.69 L1356.42 1646.18 L1358.43 1647.67 L1360.45 1649.16 L1362.47 1650.65 L1364.49 1652.15 L1366.5 1653.64 L1368.52 1655.13 L1370.53 1656.62 L1372.54 1658.11 L1374.55 1659.6 L1376.57 1661.09 L1378.58 1662.59 L1380.58 1664.08 L1382.59 1665.57 L1384.6 1667.06 L1386.61 1668.55 L1388.61 1670.05 L1390.61 1671.54 L1392.62 1673.03 L1394.62 1674.53 L1396.62 1676.02 L1398.61 1677.51 L1400.61 1679.01 L1402.61 1680.5 L1404.6 1682" fill="none" stroke="#1a1a1a" stroke-width="3.5" stroke-dasharray="12 4 3 4" stroke-linejoin="round"/>
<line x1="317.5" y1="1631.3" x2="396" y2="1631.3" stroke="#111" stroke-width="3" stroke-linecap="butt"/>
<polygon points="411,1631.3 392,1626.3 392,1636.3" fill="#000"/>
<line x1="611.5" y1="1580.3" x2="697" y2="1580.3" stroke="#111" stroke-width="3" stroke-linecap="butt"/>
<polygon points="712.3,1580.3 693.3,1575.3 693.3,1585.3" fill="#000"/>
<line x1="941.7" y1="1500.8" x2="1146" y2="1500.8" stroke="#222" stroke-width="3.5" stroke-linecap="butt"/>
<polygon points="1165,1500.8 1145,1495.3 1145,1506.3" fill="#000"/>
<line x1="1042" y1="1566.4" x2="1119" y2="1566.4" stroke="#222" stroke-width="3.5" stroke-linecap="butt"/>
<polygon points="1137,1566.4 1118,1560.9 1118,1571.9" fill="#000"/>
<text transform="matrix(54.13 0 0 59.79 246.09 1648.34)" font-size="1" fill="#000">(a)</text>
<text transform="matrix(54.49 0 0 54.22 536.68 1598.51)" font-size="1" fill="#000">(b)</text>
<text transform="matrix(55.93 0 0 54.22 863.4 1518.61)" font-size="1" fill="#000">(d)</text>
<text transform="matrix(54.13 0 0 56.04 968.89 1582.83)" font-size="1" fill="#000">(c)</text>
<text transform="matrix(53.86 0 0 54.76 1346.51 1508.9)" font-size="1" fill="#000">(iii)</text>
</g>
<defs><filter id="bl" x="0" y="0" width="1" height="1"><feGaussianBlur stdDeviation="1.5"/></filter></defs>
</svg>
</body></html>
